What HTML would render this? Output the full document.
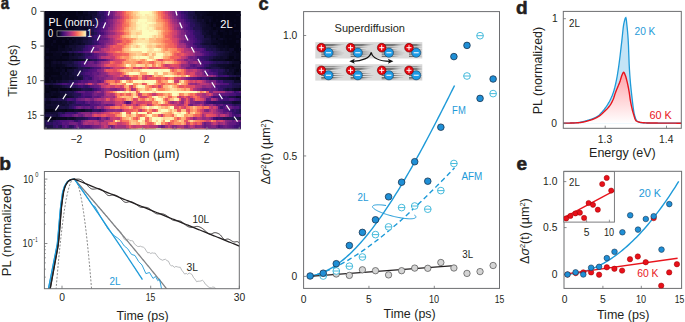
<!DOCTYPE html><html><head><meta charset="utf-8"><style>html,body{margin:0;padding:0;background:#fff;}svg{display:block;font-family:"Liberation Sans", sans-serif;}</style></head><body>
<svg width="685" height="322" viewBox="0 0 685 322">
<rect width="685" height="322" fill="#fff"/>
<defs><clipPath id="ca"><rect x="44.1" y="11.0" width="196.7" height="118.2"/></clipPath></defs>
<g shape-rendering="crispEdges" clip-path="url(#ca)">
<rect x="44.1" y="11.0" width="196.7" height="118.2" fill="#050416"/>
<style>.h rect{width:2.35px;height:2.71px}</style>
<g class="h" transform="translate(0,11)">
<rect x="46.39" fill="#08071e"/>
<rect x="76.12" fill="#090720"/>
<rect x="82.98" fill="#0c0926"/>
<rect x="85.27" fill="#0b0924"/>
<rect x="87.56" fill="#120d31"/>
<rect x="89.84" fill="#0e0b2b"/>
<rect x="92.13" fill="#110c2f"/>
<rect x="94.42" fill="#120d31"/>
<rect x="96.71" fill="#20114b"/>
<rect x="98.99" fill="#2f1163"/>
<rect x="101.28" fill="#2c115f"/>
<rect x="103.57" fill="#390f6e"/>
<rect x="105.85" fill="#4e117b"/>
<rect x="108.14" fill="#5a167e"/>
<rect x="110.43" fill="#6e1e81"/>
<rect x="112.72" fill="#812581"/>
<rect x="115" fill="#9c2e7f"/>
<rect x="117.29" fill="#ba3878"/>
<rect x="119.58" fill="#cc3f71"/>
<rect x="121.87" fill="#e44f64"/>
<rect x="124.15" fill="#f3655c"/>
<rect x="126.44" fill="#fc8c63"/>
<rect x="128.73" fill="#fd9b6b"/>
<rect x="131.01" fill="#feb078"/>
<rect x="133.3" fill="#fecd90"/>
<rect x="135.59" fill="#fed89a"/>
<rect x="137.88" fill="#fcecae"/>
<rect x="140.16" fill="#fcfdbf"/>
<rect x="142.45" fill="#fcfdbf"/>
<rect x="144.74" fill="#fcfdbf"/>
<rect x="147.02" fill="#fcfdbf"/>
<rect x="149.31" fill="#fcf6b8"/>
<rect x="151.6" fill="#fdda9c"/>
<rect x="153.89" fill="#fec287"/>
<rect x="156.17" fill="#fea36f"/>
<rect x="158.46" fill="#fa7d5e"/>
<rect x="160.75" fill="#f3655c"/>
<rect x="163.03" fill="#e34e65"/>
<rect x="165.32" fill="#c83e73"/>
<rect x="167.61" fill="#ae347b"/>
<rect x="169.9" fill="#932b80"/>
<rect x="172.18" fill="#832681"/>
<rect x="174.47" fill="#701f81"/>
<rect x="176.76" fill="#601880"/>
<rect x="179.05" fill="#4e117b"/>
<rect x="181.33" fill="#390f6e"/>
<rect x="183.62" fill="#2c115f"/>
<rect x="185.91" fill="#2d1161"/>
<rect x="188.19" fill="#20114b"/>
<rect x="190.48" fill="#1d1147"/>
<rect x="192.77" fill="#19103f"/>
<rect x="195.06" fill="#0c0926"/>
<rect x="197.34" fill="#0d0a29"/>
<rect x="199.63" fill="#0b0924"/>
<rect x="201.92" fill="#0a0822"/>
<rect x="204.2" fill="#090720"/>
<rect x="206.49" fill="#07061c"/>
</g>
<g class="h" transform="translate(0,13.65)">
<rect x="62.4" fill="#07061c"/>
<rect x="76.12" fill="#090720"/>
<rect x="78.41" fill="#07061c"/>
<rect x="80.7" fill="#07061c"/>
<rect x="82.98" fill="#090720"/>
<rect x="85.27" fill="#090720"/>
<rect x="87.56" fill="#0d0a29"/>
<rect x="89.84" fill="#0d0a29"/>
<rect x="92.13" fill="#140e36"/>
<rect x="94.42" fill="#130d34"/>
<rect x="96.71" fill="#221150"/>
<rect x="98.99" fill="#241253"/>
<rect x="101.28" fill="#2a115c"/>
<rect x="103.57" fill="#3d0f71"/>
<rect x="105.85" fill="#4c117a"/>
<rect x="108.14" fill="#5d177f"/>
<rect x="110.43" fill="#6a1c81"/>
<rect x="112.72" fill="#832681"/>
<rect x="115" fill="#aa337d"/>
<rect x="117.29" fill="#b3367a"/>
<rect x="119.58" fill="#d2426f"/>
<rect x="121.87" fill="#e34e65"/>
<rect x="124.15" fill="#f4675c"/>
<rect x="126.44" fill="#f9795d"/>
<rect x="128.73" fill="#fd9869"/>
<rect x="131.01" fill="#feb47b"/>
<rect x="133.3" fill="#fec287"/>
<rect x="135.59" fill="#fde2a3"/>
<rect x="137.88" fill="#fde7a9"/>
<rect x="140.16" fill="#fcf0b2"/>
<rect x="142.45" fill="#fcfbbd"/>
<rect x="144.74" fill="#fde9aa"/>
<rect x="147.02" fill="#fdebac"/>
<rect x="149.31" fill="#fcf2b4"/>
<rect x="151.6" fill="#fde5a7"/>
<rect x="153.89" fill="#fecf92"/>
<rect x="156.17" fill="#feb078"/>
<rect x="158.46" fill="#fb8560"/>
<rect x="160.75" fill="#f4675c"/>
<rect x="163.03" fill="#ee5b5e"/>
<rect x="165.32" fill="#d9466b"/>
<rect x="167.61" fill="#b0357b"/>
<rect x="169.9" fill="#a3307e"/>
<rect x="172.18" fill="#882781"/>
<rect x="174.47" fill="#762181"/>
<rect x="176.76" fill="#5f187f"/>
<rect x="179.05" fill="#59157e"/>
<rect x="181.33" fill="#471078"/>
<rect x="183.62" fill="#390f6e"/>
<rect x="185.91" fill="#2c115f"/>
<rect x="188.19" fill="#21114e"/>
<rect x="190.48" fill="#1a1042"/>
<rect x="192.77" fill="#19103f"/>
<rect x="195.06" fill="#120d31"/>
<rect x="197.34" fill="#0c0926"/>
<rect x="199.63" fill="#0e0b2b"/>
<rect x="201.92" fill="#0a0822"/>
<rect x="204.2" fill="#08071e"/>
<rect x="215.64" fill="#07061c"/>
<rect x="222.5" fill="#07061c"/>
<rect x="236.23" fill="#08071e"/>
<rect x="238.51" fill="#08071e"/>
</g>
<g class="h" transform="translate(0,16.3)">
<rect x="48.67" fill="#06051a"/>
<rect x="50.96" fill="#08071e"/>
<rect x="66.97" fill="#0a0822"/>
<rect x="78.41" fill="#08071e"/>
<rect x="80.7" fill="#0b0924"/>
<rect x="82.98" fill="#07061c"/>
<rect x="85.27" fill="#0c0926"/>
<rect x="87.56" fill="#0d0a29"/>
<rect x="89.84" fill="#0a0822"/>
<rect x="92.13" fill="#150e38"/>
<rect x="94.42" fill="#1a1042"/>
<rect x="96.71" fill="#1d1147"/>
<rect x="98.99" fill="#221150"/>
<rect x="101.28" fill="#2f1163"/>
<rect x="103.57" fill="#341069"/>
<rect x="105.85" fill="#4a1079"/>
<rect x="108.14" fill="#5a167e"/>
<rect x="110.43" fill="#641a80"/>
<rect x="112.72" fill="#802582"/>
<rect x="115" fill="#902a81"/>
<rect x="117.29" fill="#a02f7f"/>
<rect x="119.58" fill="#c23b75"/>
<rect x="121.87" fill="#db476a"/>
<rect x="124.15" fill="#ef5d5e"/>
<rect x="126.44" fill="#f66e5c"/>
<rect x="128.73" fill="#fd9266"/>
<rect x="131.01" fill="#fe9f6d"/>
<rect x="133.3" fill="#febd82"/>
<rect x="135.59" fill="#feca8d"/>
<rect x="137.88" fill="#fed799"/>
<rect x="140.16" fill="#fdebac"/>
<rect x="142.45" fill="#fcf0b2"/>
<rect x="144.74" fill="#fcf0b2"/>
<rect x="147.02" fill="#fde3a5"/>
<rect x="149.31" fill="#fde5a7"/>
<rect x="151.6" fill="#fddea0"/>
<rect x="153.89" fill="#feca8d"/>
<rect x="156.17" fill="#feb47b"/>
<rect x="158.46" fill="#fc8e64"/>
<rect x="160.75" fill="#f66c5c"/>
<rect x="163.03" fill="#e85362"/>
<rect x="165.32" fill="#db476a"/>
<rect x="167.61" fill="#c53c74"/>
<rect x="169.9" fill="#a6317d"/>
<rect x="172.18" fill="#912b81"/>
<rect x="174.47" fill="#7e2482"/>
<rect x="176.76" fill="#681c81"/>
<rect x="179.05" fill="#5c167f"/>
<rect x="181.33" fill="#471078"/>
<rect x="183.62" fill="#390f6e"/>
<rect x="185.91" fill="#311165"/>
<rect x="188.19" fill="#241253"/>
<rect x="190.48" fill="#1e1149"/>
<rect x="192.77" fill="#130d34"/>
<rect x="195.06" fill="#160f3b"/>
<rect x="197.34" fill="#0d0a29"/>
<rect x="199.63" fill="#0c0926"/>
<rect x="201.92" fill="#07061c"/>
<rect x="204.2" fill="#0a0822"/>
<rect x="206.49" fill="#0a0822"/>
<rect x="208.78" fill="#090720"/>
<rect x="211.07" fill="#08071e"/>
<rect x="222.5" fill="#07061c"/>
</g>
<g class="h" transform="translate(0,18.95)">
<rect x="73.83" fill="#0c0926"/>
<rect x="78.41" fill="#090720"/>
<rect x="80.7" fill="#0d0a29"/>
<rect x="85.27" fill="#090720"/>
<rect x="87.56" fill="#0c0926"/>
<rect x="89.84" fill="#130d34"/>
<rect x="92.13" fill="#20114b"/>
<rect x="94.42" fill="#20114b"/>
<rect x="96.71" fill="#2a115c"/>
<rect x="98.99" fill="#2f1163"/>
<rect x="101.28" fill="#331067"/>
<rect x="103.57" fill="#420f75"/>
<rect x="105.85" fill="#5f187f"/>
<rect x="108.14" fill="#701f81"/>
<rect x="110.43" fill="#802582"/>
<rect x="112.72" fill="#9c2e7f"/>
<rect x="115" fill="#aa337d"/>
<rect x="117.29" fill="#ca3e72"/>
<rect x="119.58" fill="#dc4869"/>
<rect x="121.87" fill="#e85362"/>
<rect x="124.15" fill="#f66c5c"/>
<rect x="126.44" fill="#fd9467"/>
<rect x="128.73" fill="#fea772"/>
<rect x="131.01" fill="#fecd90"/>
<rect x="133.3" fill="#fed597"/>
<rect x="135.59" fill="#fde3a5"/>
<rect x="137.88" fill="#fcfbbd"/>
<rect x="140.16" fill="#fcfdbf"/>
<rect x="142.45" fill="#fcfdbf"/>
<rect x="144.74" fill="#fcfdbf"/>
<rect x="147.02" fill="#fcecae"/>
<rect x="149.31" fill="#fde7a9"/>
<rect x="151.6" fill="#fdda9c"/>
<rect x="153.89" fill="#fecd90"/>
<rect x="156.17" fill="#fea571"/>
<rect x="158.46" fill="#fd9869"/>
<rect x="160.75" fill="#fc8961"/>
<rect x="163.03" fill="#f7725c"/>
<rect x="165.32" fill="#ee5b5e"/>
<rect x="167.61" fill="#dc4869"/>
<rect x="169.9" fill="#bd3977"/>
<rect x="172.18" fill="#a1307e"/>
<rect x="174.47" fill="#912b81"/>
<rect x="176.76" fill="#7b2382"/>
<rect x="179.05" fill="#671b80"/>
<rect x="181.33" fill="#5d177f"/>
<rect x="183.62" fill="#4a1079"/>
<rect x="185.91" fill="#390f6e"/>
<rect x="188.19" fill="#311165"/>
<rect x="190.48" fill="#251255"/>
<rect x="192.77" fill="#20114b"/>
<rect x="195.06" fill="#1a1042"/>
<rect x="197.34" fill="#120d31"/>
<rect x="199.63" fill="#100b2d"/>
<rect x="201.92" fill="#130d34"/>
<rect x="204.2" fill="#0b0924"/>
<rect x="206.49" fill="#08071e"/>
<rect x="208.78" fill="#0d0a29"/>
<rect x="211.07" fill="#07061c"/>
<rect x="215.64" fill="#07061c"/>
<rect x="233.94" fill="#07061c"/>
</g>
<g class="h" transform="translate(0,21.6)">
<rect x="62.4" fill="#07061c"/>
<rect x="71.55" fill="#0b0924"/>
<rect x="73.83" fill="#07061c"/>
<rect x="78.41" fill="#0a0822"/>
<rect x="80.7" fill="#0a0822"/>
<rect x="82.98" fill="#0c0926"/>
<rect x="85.27" fill="#0b0924"/>
<rect x="87.56" fill="#100b2d"/>
<rect x="89.84" fill="#140e36"/>
<rect x="92.13" fill="#150e38"/>
<rect x="94.42" fill="#19103f"/>
<rect x="96.71" fill="#251255"/>
<rect x="98.99" fill="#331067"/>
<rect x="101.28" fill="#400f74"/>
<rect x="103.57" fill="#4e117b"/>
<rect x="105.85" fill="#5a167e"/>
<rect x="108.14" fill="#721f81"/>
<rect x="110.43" fill="#7c2382"/>
<rect x="112.72" fill="#982d80"/>
<rect x="115" fill="#b2357b"/>
<rect x="117.29" fill="#bf3a77"/>
<rect x="119.58" fill="#d6456c"/>
<rect x="121.87" fill="#ec5860"/>
<rect x="124.15" fill="#f7725c"/>
<rect x="126.44" fill="#fb8761"/>
<rect x="128.73" fill="#fea973"/>
<rect x="131.01" fill="#febd82"/>
<rect x="133.3" fill="#fecc8f"/>
<rect x="135.59" fill="#fcf4b6"/>
<rect x="137.88" fill="#fcfbbd"/>
<rect x="140.16" fill="#fcf7b9"/>
<rect x="142.45" fill="#fcfbbd"/>
<rect x="144.74" fill="#fcf2b4"/>
<rect x="147.02" fill="#fcfdbf"/>
<rect x="149.31" fill="#fcfdbf"/>
<rect x="151.6" fill="#fcf0b2"/>
<rect x="153.89" fill="#fde9aa"/>
<rect x="156.17" fill="#fec287"/>
<rect x="158.46" fill="#feb27a"/>
<rect x="160.75" fill="#fea16e"/>
<rect x="163.03" fill="#fc8c63"/>
<rect x="165.32" fill="#f66c5c"/>
<rect x="167.61" fill="#e34e65"/>
<rect x="169.9" fill="#c83e73"/>
<rect x="172.18" fill="#ae347b"/>
<rect x="174.47" fill="#9e2f7f"/>
<rect x="176.76" fill="#832681"/>
<rect x="179.05" fill="#762181"/>
<rect x="181.33" fill="#641a80"/>
<rect x="183.62" fill="#54137d"/>
<rect x="185.91" fill="#440f76"/>
<rect x="188.19" fill="#420f75"/>
<rect x="190.48" fill="#2a115c"/>
<rect x="192.77" fill="#241253"/>
<rect x="195.06" fill="#1d1147"/>
<rect x="197.34" fill="#19103f"/>
<rect x="199.63" fill="#130d34"/>
<rect x="201.92" fill="#100b2d"/>
<rect x="204.2" fill="#0e0b2b"/>
<rect x="206.49" fill="#06051a"/>
<rect x="208.78" fill="#090720"/>
<rect x="213.35" fill="#07061c"/>
<rect x="222.5" fill="#08071e"/>
<rect x="229.36" fill="#07061c"/>
</g>
<g class="h" transform="translate(0,24.25)">
<rect x="66.97" fill="#0b0924"/>
<rect x="71.55" fill="#07061c"/>
<rect x="76.12" fill="#07061c"/>
<rect x="78.41" fill="#0b0924"/>
<rect x="80.7" fill="#0c0926"/>
<rect x="82.98" fill="#0d0a29"/>
<rect x="85.27" fill="#120d31"/>
<rect x="87.56" fill="#140e36"/>
<rect x="89.84" fill="#120d31"/>
<rect x="92.13" fill="#130d34"/>
<rect x="94.42" fill="#2f1163"/>
<rect x="96.71" fill="#331067"/>
<rect x="98.99" fill="#390f6e"/>
<rect x="101.28" fill="#3d0f71"/>
<rect x="103.57" fill="#4f127b"/>
<rect x="105.85" fill="#6a1c81"/>
<rect x="108.14" fill="#6a1c81"/>
<rect x="110.43" fill="#862781"/>
<rect x="112.72" fill="#a3307e"/>
<rect x="115" fill="#b83779"/>
<rect x="117.29" fill="#cf4070"/>
<rect x="119.58" fill="#db476a"/>
<rect x="121.87" fill="#f2645c"/>
<rect x="124.15" fill="#f56b5c"/>
<rect x="126.44" fill="#fa7f5e"/>
<rect x="128.73" fill="#fea772"/>
<rect x="131.01" fill="#fec185"/>
<rect x="133.3" fill="#fecc8f"/>
<rect x="135.59" fill="#fde9aa"/>
<rect x="137.88" fill="#fcf2b4"/>
<rect x="140.16" fill="#fcf7b9"/>
<rect x="142.45" fill="#fcfdbf"/>
<rect x="144.74" fill="#fcfdbf"/>
<rect x="147.02" fill="#fcf2b4"/>
<rect x="149.31" fill="#fde5a7"/>
<rect x="151.6" fill="#fddea0"/>
<rect x="153.89" fill="#fecc8f"/>
<rect x="156.17" fill="#febf84"/>
<rect x="158.46" fill="#feb77e"/>
<rect x="160.75" fill="#fea772"/>
<rect x="163.03" fill="#fb8761"/>
<rect x="165.32" fill="#f66e5c"/>
<rect x="167.61" fill="#e85362"/>
<rect x="169.9" fill="#d6456c"/>
<rect x="172.18" fill="#c03a76"/>
<rect x="174.47" fill="#aa337d"/>
<rect x="176.76" fill="#992d80"/>
<rect x="179.05" fill="#812581"/>
<rect x="181.33" fill="#6e1e81"/>
<rect x="183.62" fill="#5d177f"/>
<rect x="185.91" fill="#52137c"/>
<rect x="188.19" fill="#400f74"/>
<rect x="190.48" fill="#2a115c"/>
<rect x="192.77" fill="#2c115f"/>
<rect x="195.06" fill="#20114b"/>
<rect x="197.34" fill="#1d1147"/>
<rect x="199.63" fill="#150e38"/>
<rect x="201.92" fill="#120d31"/>
<rect x="204.2" fill="#100b2d"/>
<rect x="206.49" fill="#0c0926"/>
<rect x="208.78" fill="#090720"/>
<rect x="213.35" fill="#0c0926"/>
<rect x="220.22" fill="#07061c"/>
<rect x="229.36" fill="#07061c"/>
<rect x="233.94" fill="#0b0924"/>
</g>
<g class="h" transform="translate(0,26.9)">
<rect x="55.54" fill="#07061c"/>
<rect x="60.11" fill="#08071e"/>
<rect x="64.68" fill="#0a0822"/>
<rect x="66.97" fill="#07061c"/>
<rect x="69.26" fill="#07061c"/>
<rect x="71.55" fill="#08071e"/>
<rect x="73.83" fill="#0a0822"/>
<rect x="76.12" fill="#0c0926"/>
<rect x="78.41" fill="#0e0b2b"/>
<rect x="80.7" fill="#0b0924"/>
<rect x="82.98" fill="#0b0924"/>
<rect x="85.27" fill="#0a0822"/>
<rect x="87.56" fill="#140e36"/>
<rect x="89.84" fill="#1d1147"/>
<rect x="92.13" fill="#221150"/>
<rect x="94.42" fill="#2a115c"/>
<rect x="96.71" fill="#341069"/>
<rect x="98.99" fill="#3f0f72"/>
<rect x="101.28" fill="#4e117b"/>
<rect x="103.57" fill="#5d177f"/>
<rect x="105.85" fill="#671b80"/>
<rect x="108.14" fill="#832681"/>
<rect x="110.43" fill="#8c2981"/>
<rect x="112.72" fill="#a8327d"/>
<rect x="115" fill="#c03a76"/>
<rect x="117.29" fill="#d5446d"/>
<rect x="119.58" fill="#e34e65"/>
<rect x="121.87" fill="#f2625d"/>
<rect x="124.15" fill="#fb8560"/>
<rect x="126.44" fill="#fe9f6d"/>
<rect x="128.73" fill="#fec68a"/>
<rect x="131.01" fill="#fec488"/>
<rect x="133.3" fill="#fed395"/>
<rect x="135.59" fill="#fceeb0"/>
<rect x="137.88" fill="#fcf9bb"/>
<rect x="140.16" fill="#fcf6b8"/>
<rect x="142.45" fill="#fcfdbf"/>
<rect x="144.74" fill="#fcf9bb"/>
<rect x="147.02" fill="#fceeb0"/>
<rect x="149.31" fill="#fcf7b9"/>
<rect x="151.6" fill="#fdebac"/>
<rect x="153.89" fill="#fed194"/>
<rect x="156.17" fill="#feb27a"/>
<rect x="158.46" fill="#fea973"/>
<rect x="160.75" fill="#fea16e"/>
<rect x="163.03" fill="#fb8761"/>
<rect x="165.32" fill="#f9785d"/>
<rect x="167.61" fill="#ee5b5e"/>
<rect x="169.9" fill="#de4968"/>
<rect x="172.18" fill="#c73d73"/>
<rect x="174.47" fill="#a6317d"/>
<rect x="176.76" fill="#8b2981"/>
<rect x="179.05" fill="#802582"/>
<rect x="181.33" fill="#681c81"/>
<rect x="183.62" fill="#59157e"/>
<rect x="185.91" fill="#491078"/>
<rect x="188.19" fill="#440f76"/>
<rect x="190.48" fill="#311165"/>
<rect x="192.77" fill="#20114b"/>
<rect x="195.06" fill="#221150"/>
<rect x="197.34" fill="#20114b"/>
<rect x="199.63" fill="#1a1042"/>
<rect x="201.92" fill="#100b2d"/>
<rect x="204.2" fill="#0d0a29"/>
<rect x="206.49" fill="#0c0926"/>
<rect x="208.78" fill="#0c0926"/>
<rect x="211.07" fill="#08071e"/>
<rect x="215.64" fill="#08071e"/>
<rect x="217.93" fill="#07061c"/>
</g>
<g class="h" transform="translate(0,29.55)">
<rect x="50.96" fill="#07061c"/>
<rect x="53.25" fill="#07061c"/>
<rect x="69.26" fill="#0a0822"/>
<rect x="73.83" fill="#0d0a29"/>
<rect x="76.12" fill="#0a0822"/>
<rect x="78.41" fill="#08071e"/>
<rect x="80.7" fill="#150e38"/>
<rect x="82.98" fill="#100b2d"/>
<rect x="85.27" fill="#160f3b"/>
<rect x="87.56" fill="#20114b"/>
<rect x="89.84" fill="#1e1149"/>
<rect x="92.13" fill="#221150"/>
<rect x="94.42" fill="#341069"/>
<rect x="96.71" fill="#3d0f71"/>
<rect x="98.99" fill="#471078"/>
<rect x="101.28" fill="#5a167e"/>
<rect x="103.57" fill="#6a1c81"/>
<rect x="105.85" fill="#7c2382"/>
<rect x="108.14" fill="#8e2a81"/>
<rect x="110.43" fill="#a8327d"/>
<rect x="112.72" fill="#bd3977"/>
<rect x="115" fill="#cd4071"/>
<rect x="117.29" fill="#e24d66"/>
<rect x="119.58" fill="#f2625d"/>
<rect x="121.87" fill="#f8745c"/>
<rect x="124.15" fill="#fd9a6a"/>
<rect x="126.44" fill="#fea571"/>
<rect x="128.73" fill="#fec185"/>
<rect x="131.01" fill="#fdda9c"/>
<rect x="133.3" fill="#fde0a1"/>
<rect x="135.59" fill="#fde7a9"/>
<rect x="137.88" fill="#fde9aa"/>
<rect x="140.16" fill="#fde3a5"/>
<rect x="142.45" fill="#fcfdbf"/>
<rect x="144.74" fill="#fcfdbf"/>
<rect x="147.02" fill="#fcfdbf"/>
<rect x="149.31" fill="#fcf0b2"/>
<rect x="151.6" fill="#fcf4b6"/>
<rect x="153.89" fill="#fcfbbd"/>
<rect x="156.17" fill="#fdebac"/>
<rect x="158.46" fill="#fdda9c"/>
<rect x="160.75" fill="#feb67c"/>
<rect x="163.03" fill="#fd9b6b"/>
<rect x="165.32" fill="#fa7f5e"/>
<rect x="167.61" fill="#f7705c"/>
<rect x="169.9" fill="#ee5b5e"/>
<rect x="172.18" fill="#dc4869"/>
<rect x="174.47" fill="#c83e73"/>
<rect x="176.76" fill="#ad347c"/>
<rect x="179.05" fill="#992d80"/>
<rect x="181.33" fill="#832681"/>
<rect x="183.62" fill="#681c81"/>
<rect x="185.91" fill="#641a80"/>
<rect x="188.19" fill="#51127c"/>
<rect x="190.48" fill="#471078"/>
<rect x="192.77" fill="#38106c"/>
<rect x="195.06" fill="#29115a"/>
<rect x="197.34" fill="#29115a"/>
<rect x="199.63" fill="#1e1149"/>
<rect x="201.92" fill="#140e36"/>
<rect x="204.2" fill="#0e0b2b"/>
<rect x="206.49" fill="#100b2d"/>
<rect x="208.78" fill="#0a0822"/>
<rect x="211.07" fill="#0a0822"/>
<rect x="213.35" fill="#0b0924"/>
<rect x="215.64" fill="#0c0926"/>
<rect x="220.22" fill="#0a0822"/>
<rect x="222.5" fill="#08071e"/>
<rect x="229.36" fill="#07061c"/>
<rect x="233.94" fill="#0a0822"/>
<rect x="236.23" fill="#08071e"/>
</g>
<g class="h" transform="translate(0,32.2)">
<rect x="73.83" fill="#07061c"/>
<rect x="78.41" fill="#08071e"/>
<rect x="80.7" fill="#0a0822"/>
<rect x="82.98" fill="#0b0924"/>
<rect x="85.27" fill="#120d31"/>
<rect x="87.56" fill="#130d34"/>
<rect x="89.84" fill="#180f3d"/>
<rect x="92.13" fill="#1c1044"/>
<rect x="94.42" fill="#251255"/>
<rect x="96.71" fill="#36106b"/>
<rect x="98.99" fill="#400f74"/>
<rect x="101.28" fill="#471078"/>
<rect x="103.57" fill="#5c167f"/>
<rect x="105.85" fill="#6d1d81"/>
<rect x="108.14" fill="#802582"/>
<rect x="110.43" fill="#932b80"/>
<rect x="112.72" fill="#9b2e7f"/>
<rect x="115" fill="#b73779"/>
<rect x="117.29" fill="#cd4071"/>
<rect x="119.58" fill="#db476a"/>
<rect x="121.87" fill="#e85362"/>
<rect x="124.15" fill="#f8745c"/>
<rect x="126.44" fill="#fc8e64"/>
<rect x="128.73" fill="#feb47b"/>
<rect x="131.01" fill="#fed799"/>
<rect x="133.3" fill="#fddc9e"/>
<rect x="135.59" fill="#feca8d"/>
<rect x="137.88" fill="#fed194"/>
<rect x="140.16" fill="#fddc9e"/>
<rect x="142.45" fill="#fcfdbf"/>
<rect x="144.74" fill="#fcfdbf"/>
<rect x="147.02" fill="#fcfdbf"/>
<rect x="149.31" fill="#fcfdbf"/>
<rect x="151.6" fill="#fcfbbd"/>
<rect x="153.89" fill="#fcf7b9"/>
<rect x="156.17" fill="#fcf0b2"/>
<rect x="158.46" fill="#fecf92"/>
<rect x="160.75" fill="#feaa74"/>
<rect x="163.03" fill="#fb8560"/>
<rect x="165.32" fill="#f8765c"/>
<rect x="167.61" fill="#f1605d"/>
<rect x="169.9" fill="#e55064"/>
<rect x="172.18" fill="#d6456c"/>
<rect x="174.47" fill="#cd4071"/>
<rect x="176.76" fill="#aa337d"/>
<rect x="179.05" fill="#982d80"/>
<rect x="181.33" fill="#802582"/>
<rect x="183.62" fill="#7b2382"/>
<rect x="185.91" fill="#5d177f"/>
<rect x="188.19" fill="#5a167e"/>
<rect x="190.48" fill="#4c117a"/>
<rect x="192.77" fill="#341069"/>
<rect x="195.06" fill="#2f1163"/>
<rect x="197.34" fill="#2c115f"/>
<rect x="199.63" fill="#221150"/>
<rect x="201.92" fill="#140e36"/>
<rect x="204.2" fill="#130d34"/>
<rect x="206.49" fill="#0d0a29"/>
<rect x="208.78" fill="#0a0822"/>
<rect x="211.07" fill="#090720"/>
<rect x="213.35" fill="#0e0b2b"/>
<rect x="215.64" fill="#08071e"/>
<rect x="222.5" fill="#07061c"/>
<rect x="224.79" fill="#07061c"/>
<rect x="229.36" fill="#08071e"/>
<rect x="238.51" fill="#08071e"/>
</g>
<g class="h" transform="translate(0,34.85)">
<rect x="50.96" fill="#07061c"/>
<rect x="53.25" fill="#090720"/>
<rect x="57.82" fill="#08071e"/>
<rect x="62.4" fill="#07061c"/>
<rect x="69.26" fill="#090720"/>
<rect x="71.55" fill="#07061c"/>
<rect x="73.83" fill="#0c0926"/>
<rect x="76.12" fill="#0b0924"/>
<rect x="78.41" fill="#0e0b2b"/>
<rect x="80.7" fill="#110c2f"/>
<rect x="82.98" fill="#140e36"/>
<rect x="85.27" fill="#1a1042"/>
<rect x="87.56" fill="#221150"/>
<rect x="89.84" fill="#331067"/>
<rect x="92.13" fill="#2c115f"/>
<rect x="94.42" fill="#390f6e"/>
<rect x="96.71" fill="#440f76"/>
<rect x="98.99" fill="#54137d"/>
<rect x="101.28" fill="#681c81"/>
<rect x="103.57" fill="#732081"/>
<rect x="105.85" fill="#862781"/>
<rect x="108.14" fill="#a3307e"/>
<rect x="110.43" fill="#b3367a"/>
<rect x="112.72" fill="#c83e73"/>
<rect x="115" fill="#cf4070"/>
<rect x="117.29" fill="#db476a"/>
<rect x="119.58" fill="#f56b5c"/>
<rect x="121.87" fill="#fd9668"/>
<rect x="124.15" fill="#fea772"/>
<rect x="126.44" fill="#febb81"/>
<rect x="128.73" fill="#feca8d"/>
<rect x="131.01" fill="#fcf0b2"/>
<rect x="133.3" fill="#fdebac"/>
<rect x="135.59" fill="#fde2a3"/>
<rect x="137.88" fill="#fcf9bb"/>
<rect x="140.16" fill="#fcfdbf"/>
<rect x="142.45" fill="#fcfdbf"/>
<rect x="144.74" fill="#fcfdbf"/>
<rect x="147.02" fill="#fcfdbf"/>
<rect x="149.31" fill="#fcf6b8"/>
<rect x="151.6" fill="#fde2a3"/>
<rect x="153.89" fill="#fecc8f"/>
<rect x="156.17" fill="#fddea0"/>
<rect x="158.46" fill="#fec488"/>
<rect x="160.75" fill="#feb47b"/>
<rect x="163.03" fill="#fc8c63"/>
<rect x="165.32" fill="#f3655c"/>
<rect x="167.61" fill="#ee5b5e"/>
<rect x="169.9" fill="#e85362"/>
<rect x="172.18" fill="#d3436e"/>
<rect x="174.47" fill="#c03a76"/>
<rect x="176.76" fill="#a5317e"/>
<rect x="179.05" fill="#912b81"/>
<rect x="181.33" fill="#892881"/>
<rect x="183.62" fill="#732081"/>
<rect x="185.91" fill="#621980"/>
<rect x="188.19" fill="#51127c"/>
<rect x="190.48" fill="#4e117b"/>
<rect x="192.77" fill="#451077"/>
<rect x="195.06" fill="#2f1163"/>
<rect x="197.34" fill="#2a115c"/>
<rect x="199.63" fill="#251255"/>
<rect x="201.92" fill="#221150"/>
<rect x="204.2" fill="#0e0b2b"/>
<rect x="206.49" fill="#120d31"/>
<rect x="208.78" fill="#110c2f"/>
<rect x="211.07" fill="#08071e"/>
<rect x="213.35" fill="#0a0822"/>
<rect x="215.64" fill="#090720"/>
<rect x="217.93" fill="#090720"/>
<rect x="222.5" fill="#07061c"/>
<rect x="236.23" fill="#08071e"/>
<rect x="238.51" fill="#06051a"/>
</g>
<g class="h" transform="translate(0,37.5)">
<rect x="46.39" fill="#0a0822"/>
<rect x="48.67" fill="#07061c"/>
<rect x="55.54" fill="#07061c"/>
<rect x="66.97" fill="#0b0924"/>
<rect x="71.55" fill="#0b0924"/>
<rect x="73.83" fill="#08071e"/>
<rect x="76.12" fill="#0c0926"/>
<rect x="78.41" fill="#0a0822"/>
<rect x="80.7" fill="#0d0a29"/>
<rect x="82.98" fill="#120d31"/>
<rect x="85.27" fill="#130d34"/>
<rect x="87.56" fill="#1c1044"/>
<rect x="89.84" fill="#20114b"/>
<rect x="92.13" fill="#271258"/>
<rect x="94.42" fill="#2f1163"/>
<rect x="96.71" fill="#38106c"/>
<rect x="98.99" fill="#4e117b"/>
<rect x="101.28" fill="#5f187f"/>
<rect x="103.57" fill="#5d177f"/>
<rect x="105.85" fill="#671b80"/>
<rect x="108.14" fill="#7c2382"/>
<rect x="110.43" fill="#9c2e7f"/>
<rect x="112.72" fill="#b83779"/>
<rect x="115" fill="#d5446d"/>
<rect x="117.29" fill="#e75263"/>
<rect x="119.58" fill="#ef5d5e"/>
<rect x="121.87" fill="#f7725c"/>
<rect x="124.15" fill="#f56b5c"/>
<rect x="126.44" fill="#fa7f5e"/>
<rect x="128.73" fill="#fd9668"/>
<rect x="131.01" fill="#fd9668"/>
<rect x="133.3" fill="#fea973"/>
<rect x="135.59" fill="#fec88c"/>
<rect x="137.88" fill="#fde3a5"/>
<rect x="140.16" fill="#fddc9e"/>
<rect x="142.45" fill="#fed194"/>
<rect x="144.74" fill="#fdebac"/>
<rect x="147.02" fill="#fde9aa"/>
<rect x="149.31" fill="#fec185"/>
<rect x="151.6" fill="#fec287"/>
<rect x="153.89" fill="#feca8d"/>
<rect x="156.17" fill="#fea973"/>
<rect x="158.46" fill="#fea772"/>
<rect x="160.75" fill="#fd9b6b"/>
<rect x="163.03" fill="#fc8961"/>
<rect x="165.32" fill="#fa815f"/>
<rect x="167.61" fill="#f66e5c"/>
<rect x="169.9" fill="#e85362"/>
<rect x="172.18" fill="#dc4869"/>
<rect x="174.47" fill="#d5446d"/>
<rect x="176.76" fill="#c23b75"/>
<rect x="179.05" fill="#a3307e"/>
<rect x="181.33" fill="#902a81"/>
<rect x="183.62" fill="#832681"/>
<rect x="185.91" fill="#792282"/>
<rect x="188.19" fill="#601880"/>
<rect x="190.48" fill="#52137c"/>
<rect x="192.77" fill="#440f76"/>
<rect x="195.06" fill="#3f0f72"/>
<rect x="197.34" fill="#2c115f"/>
<rect x="199.63" fill="#251255"/>
<rect x="201.92" fill="#20114b"/>
<rect x="204.2" fill="#1a1042"/>
<rect x="206.49" fill="#19103f"/>
<rect x="208.78" fill="#140e36"/>
<rect x="211.07" fill="#0c0926"/>
<rect x="213.35" fill="#0e0b2b"/>
<rect x="217.93" fill="#0b0924"/>
<rect x="220.22" fill="#0e0b2b"/>
<rect x="222.5" fill="#08071e"/>
<rect x="224.79" fill="#07061c"/>
<rect x="229.36" fill="#07061c"/>
</g>
<g class="h" transform="translate(0,40.15)">
<rect x="53.25" fill="#0b0924"/>
<rect x="62.4" fill="#090720"/>
<rect x="69.26" fill="#0b0924"/>
<rect x="71.55" fill="#07061c"/>
<rect x="73.83" fill="#0a0822"/>
<rect x="76.12" fill="#0e0b2b"/>
<rect x="78.41" fill="#0d0a29"/>
<rect x="80.7" fill="#110c2f"/>
<rect x="82.98" fill="#180f3d"/>
<rect x="85.27" fill="#19103f"/>
<rect x="87.56" fill="#20114b"/>
<rect x="89.84" fill="#21114e"/>
<rect x="92.13" fill="#2d1161"/>
<rect x="94.42" fill="#38106c"/>
<rect x="96.71" fill="#471078"/>
<rect x="98.99" fill="#621980"/>
<rect x="101.28" fill="#671b80"/>
<rect x="103.57" fill="#732081"/>
<rect x="105.85" fill="#792282"/>
<rect x="108.14" fill="#882781"/>
<rect x="110.43" fill="#9c2e7f"/>
<rect x="112.72" fill="#b3367a"/>
<rect x="115" fill="#ca3e72"/>
<rect x="117.29" fill="#c43c75"/>
<rect x="119.58" fill="#db476a"/>
<rect x="121.87" fill="#f2645c"/>
<rect x="124.15" fill="#f7725c"/>
<rect x="126.44" fill="#f2645c"/>
<rect x="128.73" fill="#f9795d"/>
<rect x="131.01" fill="#fea571"/>
<rect x="133.3" fill="#fec88c"/>
<rect x="135.59" fill="#fddc9e"/>
<rect x="137.88" fill="#fde0a1"/>
<rect x="140.16" fill="#fde3a5"/>
<rect x="142.45" fill="#fde7a9"/>
<rect x="144.74" fill="#fde2a3"/>
<rect x="147.02" fill="#fddea0"/>
<rect x="149.31" fill="#fec488"/>
<rect x="151.6" fill="#fec185"/>
<rect x="153.89" fill="#feb77e"/>
<rect x="156.17" fill="#feae77"/>
<rect x="158.46" fill="#fea36f"/>
<rect x="160.75" fill="#fd9266"/>
<rect x="163.03" fill="#fa7d5e"/>
<rect x="165.32" fill="#f4695c"/>
<rect x="167.61" fill="#f3655c"/>
<rect x="169.9" fill="#f1605d"/>
<rect x="172.18" fill="#e04c67"/>
<rect x="174.47" fill="#d6456c"/>
<rect x="176.76" fill="#ba3878"/>
<rect x="179.05" fill="#902a81"/>
<rect x="181.33" fill="#7b2382"/>
<rect x="183.62" fill="#681c81"/>
<rect x="185.91" fill="#681c81"/>
<rect x="188.19" fill="#671b80"/>
<rect x="190.48" fill="#5a167e"/>
<rect x="192.77" fill="#4e117b"/>
<rect x="195.06" fill="#400f74"/>
<rect x="197.34" fill="#36106b"/>
<rect x="199.63" fill="#2a115c"/>
<rect x="201.92" fill="#1e1149"/>
<rect x="204.2" fill="#180f3d"/>
<rect x="206.49" fill="#140e36"/>
<rect x="208.78" fill="#140e36"/>
<rect x="211.07" fill="#0d0a29"/>
<rect x="213.35" fill="#0c0926"/>
<rect x="215.64" fill="#0b0924"/>
<rect x="217.93" fill="#08071e"/>
<rect x="220.22" fill="#07061c"/>
<rect x="224.79" fill="#07061c"/>
<rect x="236.23" fill="#0a0822"/>
</g>
<g class="h" transform="translate(0,42.8)">
<rect x="50.96" fill="#08071e"/>
<rect x="69.26" fill="#08071e"/>
<rect x="71.55" fill="#0a0822"/>
<rect x="73.83" fill="#0d0a29"/>
<rect x="76.12" fill="#0d0a29"/>
<rect x="78.41" fill="#0a0822"/>
<rect x="80.7" fill="#100b2d"/>
<rect x="82.98" fill="#0e0b2b"/>
<rect x="85.27" fill="#19103f"/>
<rect x="87.56" fill="#1e1149"/>
<rect x="89.84" fill="#21114e"/>
<rect x="92.13" fill="#2a115c"/>
<rect x="94.42" fill="#331067"/>
<rect x="96.71" fill="#3f0f72"/>
<rect x="98.99" fill="#52137c"/>
<rect x="101.28" fill="#621980"/>
<rect x="103.57" fill="#752181"/>
<rect x="105.85" fill="#912b81"/>
<rect x="108.14" fill="#932b80"/>
<rect x="110.43" fill="#9e2f7f"/>
<rect x="112.72" fill="#b83779"/>
<rect x="115" fill="#cf4070"/>
<rect x="117.29" fill="#f4695c"/>
<rect x="119.58" fill="#f9785d"/>
<rect x="121.87" fill="#f56b5c"/>
<rect x="124.15" fill="#f1605d"/>
<rect x="126.44" fill="#fb8560"/>
<rect x="128.73" fill="#feae77"/>
<rect x="131.01" fill="#fec88c"/>
<rect x="133.3" fill="#fddea0"/>
<rect x="135.59" fill="#fcecae"/>
<rect x="137.88" fill="#fcfdbf"/>
<rect x="140.16" fill="#fcfdbf"/>
<rect x="142.45" fill="#fcf4b6"/>
<rect x="144.74" fill="#fceeb0"/>
<rect x="147.02" fill="#fde2a3"/>
<rect x="149.31" fill="#fed89a"/>
<rect x="151.6" fill="#fde3a5"/>
<rect x="153.89" fill="#fde2a3"/>
<rect x="156.17" fill="#fecd90"/>
<rect x="158.46" fill="#fec287"/>
<rect x="160.75" fill="#fea973"/>
<rect x="163.03" fill="#fe9d6c"/>
<rect x="165.32" fill="#fa815f"/>
<rect x="167.61" fill="#f66c5c"/>
<rect x="169.9" fill="#f05f5e"/>
<rect x="172.18" fill="#f05f5e"/>
<rect x="174.47" fill="#df4a68"/>
<rect x="176.76" fill="#bf3a77"/>
<rect x="179.05" fill="#a1307e"/>
<rect x="181.33" fill="#a1307e"/>
<rect x="183.62" fill="#902a81"/>
<rect x="185.91" fill="#6b1d81"/>
<rect x="188.19" fill="#621980"/>
<rect x="190.48" fill="#5a167e"/>
<rect x="192.77" fill="#3d0f71"/>
<rect x="195.06" fill="#311165"/>
<rect x="197.34" fill="#2f1163"/>
<rect x="199.63" fill="#1d1147"/>
<rect x="201.92" fill="#150e38"/>
<rect x="204.2" fill="#110c2f"/>
<rect x="206.49" fill="#110c2f"/>
<rect x="208.78" fill="#120d31"/>
<rect x="211.07" fill="#0b0924"/>
<rect x="213.35" fill="#07061c"/>
<rect x="215.64" fill="#07061c"/>
<rect x="217.93" fill="#0c0926"/>
<rect x="220.22" fill="#07061c"/>
</g>
<g class="h" transform="translate(0,45.45)">
<rect x="53.25" fill="#06051a"/>
<rect x="57.82" fill="#090720"/>
<rect x="60.11" fill="#07061c"/>
<rect x="64.68" fill="#0c0926"/>
<rect x="66.97" fill="#0b0924"/>
<rect x="69.26" fill="#120d31"/>
<rect x="71.55" fill="#120d31"/>
<rect x="73.83" fill="#110c2f"/>
<rect x="76.12" fill="#180f3d"/>
<rect x="78.41" fill="#1c1044"/>
<rect x="80.7" fill="#1d1147"/>
<rect x="82.98" fill="#221150"/>
<rect x="85.27" fill="#36106b"/>
<rect x="87.56" fill="#451077"/>
<rect x="89.84" fill="#451077"/>
<rect x="92.13" fill="#5a167e"/>
<rect x="94.42" fill="#6d1d81"/>
<rect x="96.71" fill="#7c2382"/>
<rect x="98.99" fill="#7b2382"/>
<rect x="101.28" fill="#721f81"/>
<rect x="103.57" fill="#892881"/>
<rect x="105.85" fill="#a5317e"/>
<rect x="108.14" fill="#bd3977"/>
<rect x="110.43" fill="#e04c67"/>
<rect x="112.72" fill="#f05f5e"/>
<rect x="115" fill="#eb5760"/>
<rect x="117.29" fill="#e95462"/>
<rect x="119.58" fill="#ea5661"/>
<rect x="121.87" fill="#f66e5c"/>
<rect x="124.15" fill="#fc8c63"/>
<rect x="126.44" fill="#fea772"/>
<rect x="128.73" fill="#fec287"/>
<rect x="131.01" fill="#fde3a5"/>
<rect x="133.3" fill="#fed89a"/>
<rect x="135.59" fill="#fec185"/>
<rect x="137.88" fill="#fed799"/>
<rect x="140.16" fill="#fcf0b2"/>
<rect x="142.45" fill="#fcfdbf"/>
<rect x="144.74" fill="#fde9aa"/>
<rect x="147.02" fill="#fecf92"/>
<rect x="149.31" fill="#fec68a"/>
<rect x="151.6" fill="#fed395"/>
<rect x="153.89" fill="#fecc8f"/>
<rect x="156.17" fill="#feaa74"/>
<rect x="158.46" fill="#fd9b6b"/>
<rect x="160.75" fill="#fea36f"/>
<rect x="163.03" fill="#fd9467"/>
<rect x="165.32" fill="#f8765c"/>
<rect x="167.61" fill="#f66c5c"/>
<rect x="169.9" fill="#f2645c"/>
<rect x="172.18" fill="#f2625d"/>
<rect x="174.47" fill="#e85362"/>
<rect x="176.76" fill="#bc3978"/>
<rect x="179.05" fill="#b2357b"/>
<rect x="181.33" fill="#aa337d"/>
<rect x="183.62" fill="#a6317d"/>
<rect x="185.91" fill="#792282"/>
<rect x="188.19" fill="#6a1c81"/>
<rect x="190.48" fill="#621980"/>
<rect x="192.77" fill="#52137c"/>
<rect x="195.06" fill="#471078"/>
<rect x="197.34" fill="#331067"/>
<rect x="199.63" fill="#2d1161"/>
<rect x="201.92" fill="#221150"/>
<rect x="204.2" fill="#21114e"/>
<rect x="206.49" fill="#1d1147"/>
<rect x="208.78" fill="#160f3b"/>
<rect x="211.07" fill="#180f3d"/>
<rect x="213.35" fill="#140e36"/>
<rect x="215.64" fill="#0d0a29"/>
<rect x="217.93" fill="#0a0822"/>
<rect x="220.22" fill="#090720"/>
<rect x="222.5" fill="#07061c"/>
<rect x="224.79" fill="#0a0822"/>
<rect x="227.08" fill="#07061c"/>
<rect x="233.94" fill="#07061c"/>
</g>
<g class="h" transform="translate(0,48.1)">
<rect x="46.39" fill="#090720"/>
<rect x="57.82" fill="#0a0822"/>
<rect x="60.11" fill="#090720"/>
<rect x="62.4" fill="#090720"/>
<rect x="64.68" fill="#0c0926"/>
<rect x="66.97" fill="#0e0b2b"/>
<rect x="69.26" fill="#0b0924"/>
<rect x="71.55" fill="#150e38"/>
<rect x="73.83" fill="#140e36"/>
<rect x="76.12" fill="#1a1042"/>
<rect x="78.41" fill="#1a1042"/>
<rect x="80.7" fill="#21114e"/>
<rect x="82.98" fill="#331067"/>
<rect x="85.27" fill="#3b0f70"/>
<rect x="87.56" fill="#471078"/>
<rect x="89.84" fill="#52137c"/>
<rect x="92.13" fill="#5a167e"/>
<rect x="94.42" fill="#651a80"/>
<rect x="96.71" fill="#6a1c81"/>
<rect x="98.99" fill="#882781"/>
<rect x="101.28" fill="#ae347b"/>
<rect x="103.57" fill="#c53c74"/>
<rect x="105.85" fill="#bf3a77"/>
<rect x="108.14" fill="#c73d73"/>
<rect x="110.43" fill="#e55064"/>
<rect x="112.72" fill="#df4a68"/>
<rect x="115" fill="#e85362"/>
<rect x="117.29" fill="#e85362"/>
<rect x="119.58" fill="#ee5b5e"/>
<rect x="121.87" fill="#fe9d6c"/>
<rect x="124.15" fill="#febb81"/>
<rect x="126.44" fill="#fec488"/>
<rect x="128.73" fill="#fddea0"/>
<rect x="131.01" fill="#fcfdbf"/>
<rect x="133.3" fill="#fcfdbf"/>
<rect x="135.59" fill="#fcfdbf"/>
<rect x="137.88" fill="#fcfdbf"/>
<rect x="140.16" fill="#fcfdbf"/>
<rect x="142.45" fill="#fcfdbf"/>
<rect x="144.74" fill="#fcfdbf"/>
<rect x="147.02" fill="#fcf0b2"/>
<rect x="149.31" fill="#fddea0"/>
<rect x="151.6" fill="#fde5a7"/>
<rect x="153.89" fill="#fcfdbf"/>
<rect x="156.17" fill="#fcfdbf"/>
<rect x="158.46" fill="#fcf0b2"/>
<rect x="160.75" fill="#fec488"/>
<rect x="163.03" fill="#fea36f"/>
<rect x="165.32" fill="#fc8a62"/>
<rect x="167.61" fill="#fea571"/>
<rect x="169.9" fill="#fd9869"/>
<rect x="172.18" fill="#fc8c63"/>
<rect x="174.47" fill="#fb835f"/>
<rect x="176.76" fill="#eb5760"/>
<rect x="179.05" fill="#e85362"/>
<rect x="181.33" fill="#d6456c"/>
<rect x="183.62" fill="#b2357b"/>
<rect x="185.91" fill="#ad347c"/>
<rect x="188.19" fill="#a02f7f"/>
<rect x="190.48" fill="#992d80"/>
<rect x="192.77" fill="#782281"/>
<rect x="195.06" fill="#621980"/>
<rect x="197.34" fill="#5a167e"/>
<rect x="199.63" fill="#5c167f"/>
<rect x="201.92" fill="#52137c"/>
<rect x="204.2" fill="#390f6e"/>
<rect x="206.49" fill="#21114e"/>
<rect x="208.78" fill="#221150"/>
<rect x="211.07" fill="#1c1044"/>
<rect x="213.35" fill="#1e1149"/>
<rect x="215.64" fill="#150e38"/>
<rect x="217.93" fill="#120d31"/>
<rect x="220.22" fill="#0c0926"/>
<rect x="222.5" fill="#0e0b2b"/>
<rect x="224.79" fill="#0b0924"/>
<rect x="227.08" fill="#08071e"/>
<rect x="229.36" fill="#0d0a29"/>
<rect x="231.65" fill="#0d0a29"/>
<rect x="238.51" fill="#090720"/>
</g>
<g class="h" transform="translate(0,50.75)">
<rect x="46.39" fill="#0b0924"/>
<rect x="48.67" fill="#07061c"/>
<rect x="50.96" fill="#0a0822"/>
<rect x="53.25" fill="#090720"/>
<rect x="55.54" fill="#0c0926"/>
<rect x="57.82" fill="#0c0926"/>
<rect x="60.11" fill="#0c0926"/>
<rect x="62.4" fill="#140e36"/>
<rect x="64.68" fill="#110c2f"/>
<rect x="66.97" fill="#19103f"/>
<rect x="69.26" fill="#241253"/>
<rect x="71.55" fill="#1e1149"/>
<rect x="73.83" fill="#2a115c"/>
<rect x="76.12" fill="#2c115f"/>
<rect x="78.41" fill="#3d0f71"/>
<rect x="80.7" fill="#3d0f71"/>
<rect x="82.98" fill="#4e117b"/>
<rect x="85.27" fill="#5a167e"/>
<rect x="87.56" fill="#5f187f"/>
<rect x="89.84" fill="#651a80"/>
<rect x="92.13" fill="#842681"/>
<rect x="94.42" fill="#ad347c"/>
<rect x="96.71" fill="#ae347b"/>
<rect x="98.99" fill="#a1307e"/>
<rect x="101.28" fill="#a6317d"/>
<rect x="103.57" fill="#ba3878"/>
<rect x="105.85" fill="#d5446d"/>
<rect x="108.14" fill="#e04c67"/>
<rect x="110.43" fill="#ec5860"/>
<rect x="112.72" fill="#f05f5e"/>
<rect x="115" fill="#f9795d"/>
<rect x="117.29" fill="#fc8e64"/>
<rect x="119.58" fill="#f9795d"/>
<rect x="121.87" fill="#fd9266"/>
<rect x="124.15" fill="#feaa74"/>
<rect x="126.44" fill="#feb97f"/>
<rect x="128.73" fill="#fec488"/>
<rect x="131.01" fill="#fecf92"/>
<rect x="133.3" fill="#fed597"/>
<rect x="135.59" fill="#fed597"/>
<rect x="137.88" fill="#fed194"/>
<rect x="140.16" fill="#fed395"/>
<rect x="142.45" fill="#fcfdbf"/>
<rect x="144.74" fill="#fcfdbf"/>
<rect x="147.02" fill="#fed799"/>
<rect x="149.31" fill="#fed799"/>
<rect x="151.6" fill="#fde7a9"/>
<rect x="153.89" fill="#fdda9c"/>
<rect x="156.17" fill="#fde7a9"/>
<rect x="158.46" fill="#fddc9e"/>
<rect x="160.75" fill="#fec68a"/>
<rect x="163.03" fill="#feae77"/>
<rect x="165.32" fill="#fec287"/>
<rect x="167.61" fill="#febd82"/>
<rect x="169.9" fill="#fd9b6b"/>
<rect x="172.18" fill="#fb8560"/>
<rect x="174.47" fill="#f7705c"/>
<rect x="176.76" fill="#fb8560"/>
<rect x="179.05" fill="#f2645c"/>
<rect x="181.33" fill="#cd4071"/>
<rect x="183.62" fill="#b5367a"/>
<rect x="185.91" fill="#c03a76"/>
<rect x="188.19" fill="#bc3978"/>
<rect x="190.48" fill="#aa337d"/>
<rect x="192.77" fill="#932b80"/>
<rect x="195.06" fill="#862781"/>
<rect x="197.34" fill="#721f81"/>
<rect x="199.63" fill="#57157e"/>
<rect x="201.92" fill="#4a1079"/>
<rect x="204.2" fill="#491078"/>
<rect x="206.49" fill="#400f74"/>
<rect x="208.78" fill="#311165"/>
<rect x="211.07" fill="#331067"/>
<rect x="213.35" fill="#241253"/>
<rect x="215.64" fill="#1e1149"/>
<rect x="217.93" fill="#20114b"/>
<rect x="220.22" fill="#1a1042"/>
<rect x="222.5" fill="#160f3b"/>
<rect x="224.79" fill="#120d31"/>
<rect x="227.08" fill="#130d34"/>
<rect x="229.36" fill="#0d0a29"/>
<rect x="231.65" fill="#07061c"/>
<rect x="233.94" fill="#0a0822"/>
</g>
<g class="h" transform="translate(0,53.4)">
<rect x="53.25" fill="#090720"/>
<rect x="55.54" fill="#08071e"/>
<rect x="57.82" fill="#08071e"/>
<rect x="60.11" fill="#0b0924"/>
<rect x="69.26" fill="#0d0a29"/>
<rect x="71.55" fill="#08071e"/>
<rect x="73.83" fill="#100b2d"/>
<rect x="76.12" fill="#140e36"/>
<rect x="78.41" fill="#110c2f"/>
<rect x="80.7" fill="#180f3d"/>
<rect x="82.98" fill="#21114e"/>
<rect x="85.27" fill="#2f1163"/>
<rect x="87.56" fill="#2c115f"/>
<rect x="89.84" fill="#36106b"/>
<rect x="92.13" fill="#471078"/>
<rect x="94.42" fill="#59157e"/>
<rect x="96.71" fill="#641a80"/>
<rect x="98.99" fill="#792282"/>
<rect x="101.28" fill="#802582"/>
<rect x="103.57" fill="#802582"/>
<rect x="105.85" fill="#982d80"/>
<rect x="108.14" fill="#b83779"/>
<rect x="110.43" fill="#ca3e72"/>
<rect x="112.72" fill="#e34e65"/>
<rect x="115" fill="#e34e65"/>
<rect x="117.29" fill="#e95462"/>
<rect x="119.58" fill="#ed5a5f"/>
<rect x="121.87" fill="#f4695c"/>
<rect x="124.15" fill="#f3655c"/>
<rect x="126.44" fill="#f66e5c"/>
<rect x="128.73" fill="#fea772"/>
<rect x="131.01" fill="#feb67c"/>
<rect x="133.3" fill="#febf84"/>
<rect x="135.59" fill="#fed597"/>
<rect x="137.88" fill="#fecf92"/>
<rect x="140.16" fill="#fecc8f"/>
<rect x="142.45" fill="#feb27a"/>
<rect x="144.74" fill="#fd9a6a"/>
<rect x="147.02" fill="#febb81"/>
<rect x="149.31" fill="#fde5a7"/>
<rect x="151.6" fill="#feb77e"/>
<rect x="153.89" fill="#feca8d"/>
<rect x="156.17" fill="#fcfdbf"/>
<rect x="158.46" fill="#fcfdbf"/>
<rect x="160.75" fill="#fcfdbf"/>
<rect x="163.03" fill="#fed89a"/>
<rect x="165.32" fill="#fec287"/>
<rect x="167.61" fill="#fecf92"/>
<rect x="169.9" fill="#feb67c"/>
<rect x="172.18" fill="#fa815f"/>
<rect x="174.47" fill="#ee5b5e"/>
<rect x="176.76" fill="#dc4869"/>
<rect x="179.05" fill="#e34e65"/>
<rect x="181.33" fill="#ec5860"/>
<rect x="183.62" fill="#d8456c"/>
<rect x="185.91" fill="#c83e73"/>
<rect x="188.19" fill="#ba3878"/>
<rect x="190.48" fill="#ad347c"/>
<rect x="192.77" fill="#992d80"/>
<rect x="195.06" fill="#7c2382"/>
<rect x="197.34" fill="#792282"/>
<rect x="199.63" fill="#721f81"/>
<rect x="201.92" fill="#5f187f"/>
<rect x="204.2" fill="#4c117a"/>
<rect x="206.49" fill="#420f75"/>
<rect x="208.78" fill="#341069"/>
<rect x="211.07" fill="#2d1161"/>
<rect x="213.35" fill="#2a115c"/>
<rect x="215.64" fill="#21114e"/>
<rect x="217.93" fill="#1a1042"/>
<rect x="220.22" fill="#160f3b"/>
<rect x="222.5" fill="#130d34"/>
<rect x="224.79" fill="#110c2f"/>
<rect x="227.08" fill="#0e0b2b"/>
<rect x="229.36" fill="#090720"/>
<rect x="231.65" fill="#090720"/>
<rect x="233.94" fill="#0a0822"/>
<rect x="236.23" fill="#08071e"/>
</g>
<g class="h" transform="translate(0,56.05)">
<rect x="44.1" fill="#07061c"/>
<rect x="46.39" fill="#0a0822"/>
<rect x="48.67" fill="#06051a"/>
<rect x="50.96" fill="#07061c"/>
<rect x="53.25" fill="#07061c"/>
<rect x="55.54" fill="#08071e"/>
<rect x="57.82" fill="#08071e"/>
<rect x="60.11" fill="#06051a"/>
<rect x="62.4" fill="#090720"/>
<rect x="64.68" fill="#0a0822"/>
<rect x="66.97" fill="#090720"/>
<rect x="69.26" fill="#100b2d"/>
<rect x="71.55" fill="#110c2f"/>
<rect x="73.83" fill="#140e36"/>
<rect x="76.12" fill="#150e38"/>
<rect x="78.41" fill="#1d1147"/>
<rect x="80.7" fill="#21114e"/>
<rect x="82.98" fill="#251255"/>
<rect x="85.27" fill="#36106b"/>
<rect x="87.56" fill="#440f76"/>
<rect x="89.84" fill="#4a1079"/>
<rect x="92.13" fill="#4a1079"/>
<rect x="94.42" fill="#54137d"/>
<rect x="96.71" fill="#6e1e81"/>
<rect x="98.99" fill="#8e2a81"/>
<rect x="101.28" fill="#b73779"/>
<rect x="103.57" fill="#ba3878"/>
<rect x="105.85" fill="#ca3e72"/>
<rect x="108.14" fill="#cf4070"/>
<rect x="110.43" fill="#c23b75"/>
<rect x="112.72" fill="#c73d73"/>
<rect x="115" fill="#e95462"/>
<rect x="117.29" fill="#f4695c"/>
<rect x="119.58" fill="#fc8a62"/>
<rect x="121.87" fill="#fea16e"/>
<rect x="124.15" fill="#fd9668"/>
<rect x="126.44" fill="#fd9266"/>
<rect x="128.73" fill="#feb47b"/>
<rect x="131.01" fill="#fecd90"/>
<rect x="133.3" fill="#fde7a9"/>
<rect x="135.59" fill="#fcf7b9"/>
<rect x="137.88" fill="#fcecae"/>
<rect x="140.16" fill="#fcfdbf"/>
<rect x="142.45" fill="#fcfdbf"/>
<rect x="144.74" fill="#fcfdbf"/>
<rect x="147.02" fill="#fceeb0"/>
<rect x="149.31" fill="#fec68a"/>
<rect x="151.6" fill="#fecd90"/>
<rect x="153.89" fill="#fcfbbd"/>
<rect x="156.17" fill="#fcfdbf"/>
<rect x="158.46" fill="#fcfdbf"/>
<rect x="160.75" fill="#fcecae"/>
<rect x="163.03" fill="#feb77e"/>
<rect x="165.32" fill="#fea571"/>
<rect x="167.61" fill="#fd9266"/>
<rect x="169.9" fill="#f4695c"/>
<rect x="172.18" fill="#f1605d"/>
<rect x="174.47" fill="#f2645c"/>
<rect x="176.76" fill="#f05f5e"/>
<rect x="179.05" fill="#e55064"/>
<rect x="181.33" fill="#c83e73"/>
<rect x="183.62" fill="#bd3977"/>
<rect x="185.91" fill="#a1307e"/>
<rect x="188.19" fill="#782281"/>
<rect x="190.48" fill="#6a1c81"/>
<rect x="192.77" fill="#732081"/>
<rect x="195.06" fill="#641a80"/>
<rect x="197.34" fill="#471078"/>
<rect x="199.63" fill="#3b0f70"/>
<rect x="201.92" fill="#341069"/>
<rect x="204.2" fill="#2d1161"/>
<rect x="206.49" fill="#2a115c"/>
<rect x="208.78" fill="#21114e"/>
<rect x="211.07" fill="#21114e"/>
<rect x="213.35" fill="#180f3d"/>
<rect x="215.64" fill="#120d31"/>
<rect x="217.93" fill="#130d34"/>
<rect x="220.22" fill="#0e0b2b"/>
<rect x="222.5" fill="#110c2f"/>
<rect x="224.79" fill="#110c2f"/>
<rect x="227.08" fill="#0b0924"/>
<rect x="233.94" fill="#0b0924"/>
<rect x="236.23" fill="#07061c"/>
</g>
<g class="h" transform="translate(0,58.7)">
<rect x="53.25" fill="#07061c"/>
<rect x="66.97" fill="#07061c"/>
<rect x="69.26" fill="#0b0924"/>
<rect x="71.55" fill="#07061c"/>
<rect x="73.83" fill="#08071e"/>
<rect x="76.12" fill="#07061c"/>
<rect x="78.41" fill="#0a0822"/>
<rect x="80.7" fill="#0b0924"/>
<rect x="82.98" fill="#0d0a29"/>
<rect x="85.27" fill="#120d31"/>
<rect x="87.56" fill="#160f3b"/>
<rect x="89.84" fill="#21114e"/>
<rect x="92.13" fill="#29115a"/>
<rect x="94.42" fill="#241253"/>
<rect x="96.71" fill="#390f6e"/>
<rect x="98.99" fill="#491078"/>
<rect x="101.28" fill="#4c117a"/>
<rect x="103.57" fill="#56147d"/>
<rect x="105.85" fill="#6d1d81"/>
<rect x="108.14" fill="#832681"/>
<rect x="110.43" fill="#a1307e"/>
<rect x="112.72" fill="#bf3a77"/>
<rect x="115" fill="#d2426f"/>
<rect x="117.29" fill="#d5446d"/>
<rect x="119.58" fill="#e44f64"/>
<rect x="121.87" fill="#e75263"/>
<rect x="124.15" fill="#f2645c"/>
<rect x="126.44" fill="#fd9a6a"/>
<rect x="128.73" fill="#feb97f"/>
<rect x="131.01" fill="#feac76"/>
<rect x="133.3" fill="#feac76"/>
<rect x="135.59" fill="#fec488"/>
<rect x="137.88" fill="#feca8d"/>
<rect x="140.16" fill="#fea16e"/>
<rect x="142.45" fill="#fc8e64"/>
<rect x="144.74" fill="#fec185"/>
<rect x="147.02" fill="#fcfdbf"/>
<rect x="149.31" fill="#fcfdbf"/>
<rect x="151.6" fill="#fde2a3"/>
<rect x="153.89" fill="#fec287"/>
<rect x="156.17" fill="#fa7f5e"/>
<rect x="158.46" fill="#e04c67"/>
<rect x="160.75" fill="#df4a68"/>
<rect x="163.03" fill="#f7705c"/>
<rect x="165.32" fill="#f9795d"/>
<rect x="167.61" fill="#f7705c"/>
<rect x="169.9" fill="#fb8560"/>
<rect x="172.18" fill="#f97b5d"/>
<rect x="174.47" fill="#e55064"/>
<rect x="176.76" fill="#b83779"/>
<rect x="179.05" fill="#b73779"/>
<rect x="181.33" fill="#ab337c"/>
<rect x="183.62" fill="#802582"/>
<rect x="185.91" fill="#792282"/>
<rect x="188.19" fill="#912b81"/>
<rect x="190.48" fill="#7e2482"/>
<rect x="192.77" fill="#6d1d81"/>
<rect x="195.06" fill="#671b80"/>
<rect x="197.34" fill="#5f187f"/>
<rect x="199.63" fill="#3f0f72"/>
<rect x="201.92" fill="#3d0f71"/>
<rect x="204.2" fill="#311165"/>
<rect x="206.49" fill="#271258"/>
<rect x="208.78" fill="#1a1042"/>
<rect x="211.07" fill="#140e36"/>
<rect x="213.35" fill="#0d0a29"/>
<rect x="215.64" fill="#0e0b2b"/>
<rect x="217.93" fill="#0b0924"/>
<rect x="220.22" fill="#0c0926"/>
<rect x="222.5" fill="#0b0924"/>
<rect x="224.79" fill="#06051a"/>
<rect x="231.65" fill="#08071e"/>
</g>
<g class="h" transform="translate(0,61.35)">
<rect x="46.39" fill="#06051a"/>
<rect x="50.96" fill="#0b0924"/>
<rect x="53.25" fill="#100b2d"/>
<rect x="55.54" fill="#0c0926"/>
<rect x="57.82" fill="#100b2d"/>
<rect x="60.11" fill="#0c0926"/>
<rect x="62.4" fill="#140e36"/>
<rect x="64.68" fill="#140e36"/>
<rect x="66.97" fill="#160f3b"/>
<rect x="69.26" fill="#140e36"/>
<rect x="71.55" fill="#1a1042"/>
<rect x="73.83" fill="#271258"/>
<rect x="76.12" fill="#271258"/>
<rect x="78.41" fill="#341069"/>
<rect x="80.7" fill="#451077"/>
<rect x="82.98" fill="#51127c"/>
<rect x="85.27" fill="#52137c"/>
<rect x="87.56" fill="#601880"/>
<rect x="89.84" fill="#6e1e81"/>
<rect x="92.13" fill="#6a1c81"/>
<rect x="94.42" fill="#56147d"/>
<rect x="96.71" fill="#6b1d81"/>
<rect x="98.99" fill="#812581"/>
<rect x="101.28" fill="#a1307e"/>
<rect x="103.57" fill="#b5367a"/>
<rect x="105.85" fill="#b73779"/>
<rect x="108.14" fill="#c83e73"/>
<rect x="110.43" fill="#f66c5c"/>
<rect x="112.72" fill="#ed5a5f"/>
<rect x="115" fill="#e04c67"/>
<rect x="117.29" fill="#df4a68"/>
<rect x="119.58" fill="#e85362"/>
<rect x="121.87" fill="#fb835f"/>
<rect x="124.15" fill="#fea36f"/>
<rect x="126.44" fill="#fd9869"/>
<rect x="128.73" fill="#fea16e"/>
<rect x="131.01" fill="#feaa74"/>
<rect x="133.3" fill="#fe9f6d"/>
<rect x="135.59" fill="#fb8761"/>
<rect x="137.88" fill="#f3655c"/>
<rect x="140.16" fill="#f66e5c"/>
<rect x="142.45" fill="#fc8e64"/>
<rect x="144.74" fill="#fea36f"/>
<rect x="147.02" fill="#fd9266"/>
<rect x="149.31" fill="#f66e5c"/>
<rect x="151.6" fill="#f1605d"/>
<rect x="153.89" fill="#fc8a62"/>
<rect x="156.17" fill="#feb27a"/>
<rect x="158.46" fill="#feac76"/>
<rect x="160.75" fill="#fb8761"/>
<rect x="163.03" fill="#feae77"/>
<rect x="165.32" fill="#fecd90"/>
<rect x="167.61" fill="#fec287"/>
<rect x="169.9" fill="#fec185"/>
<rect x="172.18" fill="#feaa74"/>
<rect x="174.47" fill="#fb835f"/>
<rect x="176.76" fill="#f4675c"/>
<rect x="179.05" fill="#e85362"/>
<rect x="181.33" fill="#c53c74"/>
<rect x="183.62" fill="#bd3977"/>
<rect x="185.91" fill="#a3307e"/>
<rect x="188.19" fill="#7c2382"/>
<rect x="190.48" fill="#882781"/>
<rect x="192.77" fill="#992d80"/>
<rect x="195.06" fill="#a1307e"/>
<rect x="197.34" fill="#892881"/>
<rect x="199.63" fill="#671b80"/>
<rect x="201.92" fill="#471078"/>
<rect x="204.2" fill="#4c117a"/>
<rect x="206.49" fill="#491078"/>
<rect x="208.78" fill="#3d0f71"/>
<rect x="211.07" fill="#341069"/>
<rect x="213.35" fill="#2a115c"/>
<rect x="215.64" fill="#221150"/>
<rect x="217.93" fill="#251255"/>
<rect x="220.22" fill="#21114e"/>
<rect x="222.5" fill="#1c1044"/>
<rect x="224.79" fill="#1a1042"/>
<rect x="227.08" fill="#20114b"/>
<rect x="229.36" fill="#140e36"/>
<rect x="231.65" fill="#0d0a29"/>
<rect x="233.94" fill="#0c0926"/>
<rect x="236.23" fill="#0c0926"/>
<rect x="238.51" fill="#090720"/>
</g>
<g class="h" transform="translate(0,64)">
<rect x="46.39" fill="#08071e"/>
<rect x="50.96" fill="#0a0822"/>
<rect x="53.25" fill="#0a0822"/>
<rect x="55.54" fill="#07061c"/>
<rect x="57.82" fill="#090720"/>
<rect x="60.11" fill="#090720"/>
<rect x="62.4" fill="#0b0924"/>
<rect x="64.68" fill="#110c2f"/>
<rect x="66.97" fill="#160f3b"/>
<rect x="69.26" fill="#1a1042"/>
<rect x="71.55" fill="#160f3b"/>
<rect x="73.83" fill="#1e1149"/>
<rect x="76.12" fill="#21114e"/>
<rect x="78.41" fill="#2c115f"/>
<rect x="80.7" fill="#3f0f72"/>
<rect x="82.98" fill="#451077"/>
<rect x="85.27" fill="#5c167f"/>
<rect x="87.56" fill="#651a80"/>
<rect x="89.84" fill="#6a1c81"/>
<rect x="92.13" fill="#721f81"/>
<rect x="94.42" fill="#752181"/>
<rect x="96.71" fill="#862781"/>
<rect x="98.99" fill="#932b80"/>
<rect x="101.28" fill="#b0357b"/>
<rect x="103.57" fill="#d9466b"/>
<rect x="105.85" fill="#e95462"/>
<rect x="108.14" fill="#ef5d5e"/>
<rect x="110.43" fill="#e75263"/>
<rect x="112.72" fill="#e34e65"/>
<rect x="115" fill="#e95462"/>
<rect x="117.29" fill="#f2625d"/>
<rect x="119.58" fill="#f9785d"/>
<rect x="121.87" fill="#fc8a62"/>
<rect x="124.15" fill="#feb078"/>
<rect x="126.44" fill="#fcfdbf"/>
<rect x="128.73" fill="#fde5a7"/>
<rect x="131.01" fill="#feaa74"/>
<rect x="133.3" fill="#feb47b"/>
<rect x="135.59" fill="#fde3a5"/>
<rect x="137.88" fill="#fde5a7"/>
<rect x="140.16" fill="#fed597"/>
<rect x="142.45" fill="#fecf92"/>
<rect x="144.74" fill="#fd9668"/>
<rect x="147.02" fill="#febd82"/>
<rect x="149.31" fill="#fed597"/>
<rect x="151.6" fill="#fa7d5e"/>
<rect x="153.89" fill="#fd9266"/>
<rect x="156.17" fill="#fed395"/>
<rect x="158.46" fill="#feae77"/>
<rect x="160.75" fill="#f66e5c"/>
<rect x="163.03" fill="#e04c67"/>
<rect x="165.32" fill="#c23b75"/>
<rect x="167.61" fill="#cf4070"/>
<rect x="169.9" fill="#df4a68"/>
<rect x="172.18" fill="#e75263"/>
<rect x="174.47" fill="#df4a68"/>
<rect x="176.76" fill="#d9466b"/>
<rect x="179.05" fill="#bc3978"/>
<rect x="181.33" fill="#8e2a81"/>
<rect x="183.62" fill="#932b80"/>
<rect x="185.91" fill="#8b2981"/>
<rect x="188.19" fill="#7c2382"/>
<rect x="190.48" fill="#5c167f"/>
<rect x="192.77" fill="#4f127b"/>
<rect x="195.06" fill="#5c167f"/>
<rect x="197.34" fill="#6b1d81"/>
<rect x="199.63" fill="#5f187f"/>
<rect x="201.92" fill="#4e117b"/>
<rect x="204.2" fill="#390f6e"/>
<rect x="206.49" fill="#311165"/>
<rect x="208.78" fill="#221150"/>
<rect x="211.07" fill="#1c1044"/>
<rect x="213.35" fill="#19103f"/>
<rect x="215.64" fill="#150e38"/>
<rect x="217.93" fill="#100b2d"/>
<rect x="220.22" fill="#0e0b2b"/>
<rect x="222.5" fill="#0d0a29"/>
<rect x="224.79" fill="#0d0a29"/>
<rect x="227.08" fill="#0b0924"/>
<rect x="229.36" fill="#090720"/>
<rect x="233.94" fill="#08071e"/>
<rect x="236.23" fill="#08071e"/>
</g>
<g class="h" transform="translate(0,66.65)">
<rect x="44.1" fill="#07061c"/>
<rect x="53.25" fill="#08071e"/>
<rect x="60.11" fill="#090720"/>
<rect x="62.4" fill="#07061c"/>
<rect x="66.97" fill="#07061c"/>
<rect x="71.55" fill="#0a0822"/>
<rect x="73.83" fill="#0c0926"/>
<rect x="76.12" fill="#120d31"/>
<rect x="78.41" fill="#1e1149"/>
<rect x="80.7" fill="#1d1147"/>
<rect x="82.98" fill="#21114e"/>
<rect x="85.27" fill="#1e1149"/>
<rect x="87.56" fill="#1d1147"/>
<rect x="89.84" fill="#2f1163"/>
<rect x="92.13" fill="#3b0f70"/>
<rect x="94.42" fill="#491078"/>
<rect x="96.71" fill="#4e117b"/>
<rect x="98.99" fill="#54137d"/>
<rect x="101.28" fill="#752181"/>
<rect x="103.57" fill="#862781"/>
<rect x="105.85" fill="#792282"/>
<rect x="108.14" fill="#7c2382"/>
<rect x="110.43" fill="#a02f7f"/>
<rect x="112.72" fill="#c23b75"/>
<rect x="115" fill="#d3436e"/>
<rect x="117.29" fill="#cf4070"/>
<rect x="119.58" fill="#cd4071"/>
<rect x="121.87" fill="#cc3f71"/>
<rect x="124.15" fill="#e75263"/>
<rect x="126.44" fill="#f9785d"/>
<rect x="128.73" fill="#fd9869"/>
<rect x="131.01" fill="#fb835f"/>
<rect x="133.3" fill="#de4968"/>
<rect x="135.59" fill="#e85362"/>
<rect x="137.88" fill="#d6456c"/>
<rect x="140.16" fill="#c83e73"/>
<rect x="142.45" fill="#ee5b5e"/>
<rect x="144.74" fill="#f66c5c"/>
<rect x="147.02" fill="#e75263"/>
<rect x="149.31" fill="#cc3f71"/>
<rect x="151.6" fill="#d9466b"/>
<rect x="153.89" fill="#de4968"/>
<rect x="156.17" fill="#d6456c"/>
<rect x="158.46" fill="#e44f64"/>
<rect x="160.75" fill="#f05f5e"/>
<rect x="163.03" fill="#ee5b5e"/>
<rect x="165.32" fill="#ef5d5e"/>
<rect x="167.61" fill="#d5446d"/>
<rect x="169.9" fill="#b3367a"/>
<rect x="172.18" fill="#b5367a"/>
<rect x="174.47" fill="#cf4070"/>
<rect x="176.76" fill="#db476a"/>
<rect x="179.05" fill="#bc3978"/>
<rect x="181.33" fill="#a1307e"/>
<rect x="183.62" fill="#8e2a81"/>
<rect x="185.91" fill="#6d1d81"/>
<rect x="188.19" fill="#651a80"/>
<rect x="190.48" fill="#681c81"/>
<rect x="192.77" fill="#5f187f"/>
<rect x="195.06" fill="#5f187f"/>
<rect x="197.34" fill="#491078"/>
<rect x="199.63" fill="#38106c"/>
<rect x="201.92" fill="#3b0f70"/>
<rect x="204.2" fill="#2c115f"/>
<rect x="206.49" fill="#1d1147"/>
<rect x="208.78" fill="#1a1042"/>
<rect x="211.07" fill="#20114b"/>
<rect x="213.35" fill="#21114e"/>
<rect x="215.64" fill="#1e1149"/>
<rect x="217.93" fill="#1c1044"/>
<rect x="220.22" fill="#130d34"/>
<rect x="222.5" fill="#100b2d"/>
<rect x="224.79" fill="#0b0924"/>
<rect x="227.08" fill="#090720"/>
<rect x="229.36" fill="#0b0924"/>
<rect x="231.65" fill="#0a0822"/>
<rect x="233.94" fill="#0c0926"/>
<rect x="236.23" fill="#08071e"/>
</g>
<g class="h" transform="translate(0,69.3)">
<rect x="46.39" fill="#07061c"/>
<rect x="53.25" fill="#07061c"/>
<rect x="55.54" fill="#090720"/>
<rect x="57.82" fill="#07061c"/>
<rect x="60.11" fill="#08071e"/>
<rect x="62.4" fill="#0d0a29"/>
<rect x="66.97" fill="#100b2d"/>
<rect x="69.26" fill="#120d31"/>
<rect x="71.55" fill="#120d31"/>
<rect x="73.83" fill="#1d1147"/>
<rect x="76.12" fill="#1c1044"/>
<rect x="78.41" fill="#221150"/>
<rect x="80.7" fill="#241253"/>
<rect x="82.98" fill="#331067"/>
<rect x="85.27" fill="#390f6e"/>
<rect x="87.56" fill="#451077"/>
<rect x="89.84" fill="#4f127b"/>
<rect x="92.13" fill="#56147d"/>
<rect x="94.42" fill="#5c167f"/>
<rect x="96.71" fill="#7e2482"/>
<rect x="98.99" fill="#7e2482"/>
<rect x="101.28" fill="#912b81"/>
<rect x="103.57" fill="#cf4070"/>
<rect x="105.85" fill="#ed5a5f"/>
<rect x="108.14" fill="#e85362"/>
<rect x="110.43" fill="#ec5860"/>
<rect x="112.72" fill="#e04c67"/>
<rect x="115" fill="#e34e65"/>
<rect x="117.29" fill="#f66c5c"/>
<rect x="119.58" fill="#fd9b6b"/>
<rect x="121.87" fill="#feac76"/>
<rect x="124.15" fill="#fec185"/>
<rect x="126.44" fill="#feb47b"/>
<rect x="128.73" fill="#feb67c"/>
<rect x="131.01" fill="#fea772"/>
<rect x="133.3" fill="#febf84"/>
<rect x="135.59" fill="#febf84"/>
<rect x="137.88" fill="#feae77"/>
<rect x="140.16" fill="#fddc9e"/>
<rect x="142.45" fill="#fcfdbf"/>
<rect x="144.74" fill="#fcfdbf"/>
<rect x="147.02" fill="#fcfdbf"/>
<rect x="149.31" fill="#fcfdbf"/>
<rect x="151.6" fill="#fcfdbf"/>
<rect x="153.89" fill="#fcfdbf"/>
<rect x="156.17" fill="#fcfdbf"/>
<rect x="158.46" fill="#fcfdbf"/>
<rect x="160.75" fill="#fcf4b6"/>
<rect x="163.03" fill="#fcfbbd"/>
<rect x="165.32" fill="#fcfdbf"/>
<rect x="167.61" fill="#fcf4b6"/>
<rect x="169.9" fill="#fc9065"/>
<rect x="172.18" fill="#f05f5e"/>
<rect x="174.47" fill="#fa7f5e"/>
<rect x="176.76" fill="#fea571"/>
<rect x="179.05" fill="#fe9f6d"/>
<rect x="181.33" fill="#fa7d5e"/>
<rect x="183.62" fill="#e95462"/>
<rect x="185.91" fill="#c43c75"/>
<rect x="188.19" fill="#b5367a"/>
<rect x="190.48" fill="#bd3977"/>
<rect x="192.77" fill="#cc3f71"/>
<rect x="195.06" fill="#c43c75"/>
<rect x="197.34" fill="#a3307e"/>
<rect x="199.63" fill="#8b2981"/>
<rect x="201.92" fill="#732081"/>
<rect x="204.2" fill="#651a80"/>
<rect x="206.49" fill="#5f187f"/>
<rect x="208.78" fill="#471078"/>
<rect x="211.07" fill="#390f6e"/>
<rect x="213.35" fill="#331067"/>
<rect x="215.64" fill="#36106b"/>
<rect x="217.93" fill="#29115a"/>
<rect x="220.22" fill="#2a115c"/>
<rect x="222.5" fill="#21114e"/>
<rect x="224.79" fill="#140e36"/>
<rect x="227.08" fill="#1a1042"/>
<rect x="229.36" fill="#0d0a29"/>
<rect x="231.65" fill="#100b2d"/>
<rect x="233.94" fill="#08071e"/>
<rect x="238.51" fill="#0b0924"/>
</g>
<g class="h" transform="translate(0,71.95)">
<rect x="60.11" fill="#0d0a29"/>
<rect x="62.4" fill="#0a0822"/>
<rect x="64.68" fill="#100b2d"/>
<rect x="66.97" fill="#0a0822"/>
<rect x="69.26" fill="#100b2d"/>
<rect x="71.55" fill="#160f3b"/>
<rect x="73.83" fill="#1a1042"/>
<rect x="76.12" fill="#1d1147"/>
<rect x="78.41" fill="#271258"/>
<rect x="80.7" fill="#341069"/>
<rect x="82.98" fill="#3d0f71"/>
<rect x="85.27" fill="#4c117a"/>
<rect x="87.56" fill="#54137d"/>
<rect x="89.84" fill="#4f127b"/>
<rect x="92.13" fill="#601880"/>
<rect x="94.42" fill="#681c81"/>
<rect x="96.71" fill="#601880"/>
<rect x="98.99" fill="#752181"/>
<rect x="101.28" fill="#862781"/>
<rect x="103.57" fill="#8c2981"/>
<rect x="105.85" fill="#a1307e"/>
<rect x="108.14" fill="#c43c75"/>
<rect x="110.43" fill="#d5446d"/>
<rect x="112.72" fill="#d3436e"/>
<rect x="115" fill="#cf4070"/>
<rect x="117.29" fill="#c83e73"/>
<rect x="119.58" fill="#de4968"/>
<rect x="121.87" fill="#f66c5c"/>
<rect x="124.15" fill="#fd9b6b"/>
<rect x="126.44" fill="#fed395"/>
<rect x="128.73" fill="#fcfdbf"/>
<rect x="131.01" fill="#fcfdbf"/>
<rect x="133.3" fill="#fcfdbf"/>
<rect x="135.59" fill="#fcfdbf"/>
<rect x="137.88" fill="#fde9aa"/>
<rect x="140.16" fill="#fea571"/>
<rect x="142.45" fill="#feaa74"/>
<rect x="144.74" fill="#feaa74"/>
<rect x="147.02" fill="#fdebac"/>
<rect x="149.31" fill="#fcfdbf"/>
<rect x="151.6" fill="#fcfdbf"/>
<rect x="153.89" fill="#fec488"/>
<rect x="156.17" fill="#fec88c"/>
<rect x="158.46" fill="#fcfdbf"/>
<rect x="160.75" fill="#fcf7b9"/>
<rect x="163.03" fill="#feb47b"/>
<rect x="165.32" fill="#feb47b"/>
<rect x="167.61" fill="#fed89a"/>
<rect x="169.9" fill="#fec88c"/>
<rect x="172.18" fill="#feae77"/>
<rect x="174.47" fill="#fc8961"/>
<rect x="176.76" fill="#f1605d"/>
<rect x="179.05" fill="#f2645c"/>
<rect x="181.33" fill="#f9785d"/>
<rect x="183.62" fill="#ea5661"/>
<rect x="185.91" fill="#cf4070"/>
<rect x="188.19" fill="#d0416f"/>
<rect x="190.48" fill="#df4a68"/>
<rect x="192.77" fill="#d9466b"/>
<rect x="195.06" fill="#a8327d"/>
<rect x="197.34" fill="#992d80"/>
<rect x="199.63" fill="#a02f7f"/>
<rect x="201.92" fill="#832681"/>
<rect x="204.2" fill="#5d177f"/>
<rect x="206.49" fill="#4e117b"/>
<rect x="208.78" fill="#54137d"/>
<rect x="211.07" fill="#56147d"/>
<rect x="213.35" fill="#451077"/>
<rect x="215.64" fill="#3b0f70"/>
<rect x="217.93" fill="#241253"/>
<rect x="220.22" fill="#221150"/>
<rect x="222.5" fill="#19103f"/>
<rect x="224.79" fill="#180f3d"/>
<rect x="227.08" fill="#100b2d"/>
<rect x="229.36" fill="#120d31"/>
<rect x="231.65" fill="#0d0a29"/>
<rect x="233.94" fill="#06051a"/>
<rect x="236.23" fill="#0a0822"/>
<rect x="238.51" fill="#0b0924"/>
</g>
<g class="h" transform="translate(0,74.6)">
<rect x="44.1" fill="#07061c"/>
<rect x="46.39" fill="#06051a"/>
<rect x="50.96" fill="#090720"/>
<rect x="53.25" fill="#0a0822"/>
<rect x="55.54" fill="#090720"/>
<rect x="57.82" fill="#07061c"/>
<rect x="60.11" fill="#08071e"/>
<rect x="62.4" fill="#0d0a29"/>
<rect x="64.68" fill="#0c0926"/>
<rect x="66.97" fill="#0c0926"/>
<rect x="69.26" fill="#130d34"/>
<rect x="71.55" fill="#120d31"/>
<rect x="73.83" fill="#160f3b"/>
<rect x="76.12" fill="#20114b"/>
<rect x="78.41" fill="#21114e"/>
<rect x="80.7" fill="#20114b"/>
<rect x="82.98" fill="#38106c"/>
<rect x="85.27" fill="#38106c"/>
<rect x="87.56" fill="#400f74"/>
<rect x="89.84" fill="#52137c"/>
<rect x="92.13" fill="#57157e"/>
<rect x="94.42" fill="#6d1d81"/>
<rect x="96.71" fill="#782281"/>
<rect x="98.99" fill="#812581"/>
<rect x="101.28" fill="#8c2981"/>
<rect x="103.57" fill="#842681"/>
<rect x="105.85" fill="#7c2382"/>
<rect x="108.14" fill="#982d80"/>
<rect x="110.43" fill="#a8327d"/>
<rect x="112.72" fill="#c03a76"/>
<rect x="115" fill="#c73d73"/>
<rect x="117.29" fill="#d2426f"/>
<rect x="119.58" fill="#f56b5c"/>
<rect x="121.87" fill="#e04c67"/>
<rect x="124.15" fill="#ab337c"/>
<rect x="126.44" fill="#d2426f"/>
<rect x="128.73" fill="#fd9467"/>
<rect x="131.01" fill="#fd9b6b"/>
<rect x="133.3" fill="#f8745c"/>
<rect x="135.59" fill="#f4675c"/>
<rect x="137.88" fill="#feae77"/>
<rect x="140.16" fill="#feb27a"/>
<rect x="142.45" fill="#e34e65"/>
<rect x="144.74" fill="#cf4070"/>
<rect x="147.02" fill="#df4a68"/>
<rect x="149.31" fill="#c83e73"/>
<rect x="151.6" fill="#f97b5d"/>
<rect x="153.89" fill="#fecd90"/>
<rect x="156.17" fill="#feb67c"/>
<rect x="158.46" fill="#fe9f6d"/>
<rect x="160.75" fill="#feb078"/>
<rect x="163.03" fill="#fddea0"/>
<rect x="165.32" fill="#fcfdbf"/>
<rect x="167.61" fill="#fcfdbf"/>
<rect x="169.9" fill="#fcfdbf"/>
<rect x="172.18" fill="#fcf2b4"/>
<rect x="174.47" fill="#fed395"/>
<rect x="176.76" fill="#feb97f"/>
<rect x="179.05" fill="#fec68a"/>
<rect x="181.33" fill="#fd9a6a"/>
<rect x="183.62" fill="#feaa74"/>
<rect x="185.91" fill="#fdebac"/>
<rect x="188.19" fill="#fea571"/>
<rect x="190.48" fill="#e55064"/>
<rect x="192.77" fill="#d5446d"/>
<rect x="195.06" fill="#c73d73"/>
<rect x="197.34" fill="#a6317d"/>
<rect x="199.63" fill="#9c2e7f"/>
<rect x="201.92" fill="#892881"/>
<rect x="204.2" fill="#862781"/>
<rect x="206.49" fill="#8e2a81"/>
<rect x="208.78" fill="#942c80"/>
<rect x="211.07" fill="#a1307e"/>
<rect x="213.35" fill="#882781"/>
<rect x="215.64" fill="#5a167e"/>
<rect x="217.93" fill="#390f6e"/>
<rect x="220.22" fill="#3d0f71"/>
<rect x="222.5" fill="#400f74"/>
<rect x="224.79" fill="#440f76"/>
<rect x="227.08" fill="#38106c"/>
<rect x="229.36" fill="#221150"/>
<rect x="231.65" fill="#1d1147"/>
<rect x="233.94" fill="#20114b"/>
<rect x="236.23" fill="#160f3b"/>
<rect x="238.51" fill="#1a1042"/>
</g>
<g class="h" transform="translate(0,77.25)">
<rect x="48.67" fill="#090720"/>
<rect x="53.25" fill="#07061c"/>
<rect x="55.54" fill="#07061c"/>
<rect x="57.82" fill="#07061c"/>
<rect x="60.11" fill="#07061c"/>
<rect x="62.4" fill="#0d0a29"/>
<rect x="64.68" fill="#0c0926"/>
<rect x="66.97" fill="#0c0926"/>
<rect x="69.26" fill="#100b2d"/>
<rect x="71.55" fill="#0e0b2b"/>
<rect x="73.83" fill="#160f3b"/>
<rect x="76.12" fill="#160f3b"/>
<rect x="78.41" fill="#130d34"/>
<rect x="80.7" fill="#19103f"/>
<rect x="82.98" fill="#36106b"/>
<rect x="85.27" fill="#451077"/>
<rect x="87.56" fill="#390f6e"/>
<rect x="89.84" fill="#341069"/>
<rect x="92.13" fill="#57157e"/>
<rect x="94.42" fill="#6b1d81"/>
<rect x="96.71" fill="#6a1c81"/>
<rect x="98.99" fill="#7c2382"/>
<rect x="101.28" fill="#762181"/>
<rect x="103.57" fill="#882781"/>
<rect x="105.85" fill="#982d80"/>
<rect x="108.14" fill="#9b2e7f"/>
<rect x="110.43" fill="#a02f7f"/>
<rect x="112.72" fill="#b83779"/>
<rect x="115" fill="#bc3978"/>
<rect x="117.29" fill="#a8327d"/>
<rect x="119.58" fill="#962c80"/>
<rect x="121.87" fill="#9b2e7f"/>
<rect x="124.15" fill="#aa337d"/>
<rect x="126.44" fill="#992d80"/>
<rect x="128.73" fill="#b73779"/>
<rect x="131.01" fill="#e85362"/>
<rect x="133.3" fill="#ea5661"/>
<rect x="135.59" fill="#ed5a5f"/>
<rect x="137.88" fill="#fd9467"/>
<rect x="140.16" fill="#fd9467"/>
<rect x="142.45" fill="#dc4869"/>
<rect x="144.74" fill="#bf3a77"/>
<rect x="147.02" fill="#e55064"/>
<rect x="149.31" fill="#ee5b5e"/>
<rect x="151.6" fill="#f05f5e"/>
<rect x="153.89" fill="#f66c5c"/>
<rect x="156.17" fill="#e95462"/>
<rect x="158.46" fill="#eb5760"/>
<rect x="160.75" fill="#f8765c"/>
<rect x="163.03" fill="#f7705c"/>
<rect x="165.32" fill="#e75263"/>
<rect x="167.61" fill="#f8745c"/>
<rect x="169.9" fill="#fc8e64"/>
<rect x="172.18" fill="#f97b5d"/>
<rect x="174.47" fill="#d8456c"/>
<rect x="176.76" fill="#ca3e72"/>
<rect x="179.05" fill="#cd4071"/>
<rect x="181.33" fill="#b3367a"/>
<rect x="183.62" fill="#9c2e7f"/>
<rect x="185.91" fill="#812581"/>
<rect x="188.19" fill="#721f81"/>
<rect x="190.48" fill="#651a80"/>
<rect x="192.77" fill="#5d177f"/>
<rect x="195.06" fill="#5a167e"/>
<rect x="197.34" fill="#4a1079"/>
<rect x="199.63" fill="#390f6e"/>
<rect x="201.92" fill="#451077"/>
<rect x="204.2" fill="#451077"/>
<rect x="206.49" fill="#331067"/>
<rect x="208.78" fill="#21114e"/>
<rect x="211.07" fill="#1c1044"/>
<rect x="213.35" fill="#20114b"/>
<rect x="215.64" fill="#1c1044"/>
<rect x="217.93" fill="#150e38"/>
<rect x="220.22" fill="#120d31"/>
<rect x="222.5" fill="#100b2d"/>
<rect x="224.79" fill="#100b2d"/>
<rect x="227.08" fill="#0d0a29"/>
<rect x="229.36" fill="#0a0822"/>
<rect x="231.65" fill="#07061c"/>
<rect x="233.94" fill="#0a0822"/>
</g>
<g class="h" transform="translate(0,79.9)">
<rect x="44.1" fill="#07061c"/>
<rect x="48.67" fill="#08071e"/>
<rect x="50.96" fill="#0d0a29"/>
<rect x="53.25" fill="#07061c"/>
<rect x="55.54" fill="#110c2f"/>
<rect x="57.82" fill="#0c0926"/>
<rect x="60.11" fill="#100b2d"/>
<rect x="62.4" fill="#150e38"/>
<rect x="64.68" fill="#150e38"/>
<rect x="66.97" fill="#180f3d"/>
<rect x="69.26" fill="#221150"/>
<rect x="71.55" fill="#221150"/>
<rect x="73.83" fill="#2d1161"/>
<rect x="76.12" fill="#331067"/>
<rect x="78.41" fill="#420f75"/>
<rect x="80.7" fill="#57157e"/>
<rect x="82.98" fill="#52137c"/>
<rect x="85.27" fill="#52137c"/>
<rect x="87.56" fill="#601880"/>
<rect x="89.84" fill="#621980"/>
<rect x="92.13" fill="#671b80"/>
<rect x="94.42" fill="#701f81"/>
<rect x="96.71" fill="#5f187f"/>
<rect x="98.99" fill="#5d177f"/>
<rect x="101.28" fill="#792282"/>
<rect x="103.57" fill="#cd4071"/>
<rect x="105.85" fill="#f1605d"/>
<rect x="108.14" fill="#f66e5c"/>
<rect x="110.43" fill="#fb835f"/>
<rect x="112.72" fill="#f9795d"/>
<rect x="115" fill="#df4a68"/>
<rect x="117.29" fill="#f05f5e"/>
<rect x="119.58" fill="#feb97f"/>
<rect x="121.87" fill="#fcfdbf"/>
<rect x="124.15" fill="#fcfbbd"/>
<rect x="126.44" fill="#feb078"/>
<rect x="128.73" fill="#fb8761"/>
<rect x="131.01" fill="#fea571"/>
<rect x="133.3" fill="#fcfdbf"/>
<rect x="135.59" fill="#fcfdbf"/>
<rect x="137.88" fill="#fcfdbf"/>
<rect x="140.16" fill="#fcfdbf"/>
<rect x="142.45" fill="#fceeb0"/>
<rect x="144.74" fill="#fcfdbf"/>
<rect x="147.02" fill="#fcfdbf"/>
<rect x="149.31" fill="#fcfdbf"/>
<rect x="151.6" fill="#fcfdbf"/>
<rect x="153.89" fill="#fcfdbf"/>
<rect x="156.17" fill="#fd9a6a"/>
<rect x="158.46" fill="#f4675c"/>
<rect x="160.75" fill="#fd9266"/>
<rect x="163.03" fill="#feaa74"/>
<rect x="165.32" fill="#fea571"/>
<rect x="167.61" fill="#fcfbbd"/>
<rect x="169.9" fill="#fcfdbf"/>
<rect x="172.18" fill="#fddc9e"/>
<rect x="174.47" fill="#d0416f"/>
<rect x="176.76" fill="#c43c75"/>
<rect x="179.05" fill="#feac76"/>
<rect x="181.33" fill="#fddea0"/>
<rect x="183.62" fill="#fd9467"/>
<rect x="185.91" fill="#f8765c"/>
<rect x="188.19" fill="#e75263"/>
<rect x="190.48" fill="#d3436e"/>
<rect x="192.77" fill="#e24d66"/>
<rect x="195.06" fill="#c83e73"/>
<rect x="197.34" fill="#de4968"/>
<rect x="199.63" fill="#d6456c"/>
<rect x="201.92" fill="#b73779"/>
<rect x="204.2" fill="#a1307e"/>
<rect x="206.49" fill="#7c2382"/>
<rect x="208.78" fill="#6e1e81"/>
<rect x="211.07" fill="#782281"/>
<rect x="213.35" fill="#792282"/>
<rect x="215.64" fill="#51127c"/>
<rect x="217.93" fill="#3f0f72"/>
<rect x="220.22" fill="#451077"/>
<rect x="222.5" fill="#29115a"/>
<rect x="224.79" fill="#251255"/>
<rect x="227.08" fill="#241253"/>
<rect x="229.36" fill="#241253"/>
<rect x="231.65" fill="#1e1149"/>
<rect x="233.94" fill="#100b2d"/>
<rect x="236.23" fill="#110c2f"/>
<rect x="238.51" fill="#0e0b2b"/>
</g>
<g class="h" transform="translate(0,82.55)">
<rect x="44.1" fill="#1e1149"/>
<rect x="46.39" fill="#19103f"/>
<rect x="48.67" fill="#180f3d"/>
<rect x="50.96" fill="#160f3b"/>
<rect x="53.25" fill="#20114b"/>
<rect x="55.54" fill="#29115a"/>
<rect x="57.82" fill="#311165"/>
<rect x="60.11" fill="#390f6e"/>
<rect x="62.4" fill="#4a1079"/>
<rect x="64.68" fill="#4e117b"/>
<rect x="66.97" fill="#400f74"/>
<rect x="69.26" fill="#38106c"/>
<rect x="71.55" fill="#57157e"/>
<rect x="73.83" fill="#5c167f"/>
<rect x="76.12" fill="#651a80"/>
<rect x="78.41" fill="#842681"/>
<rect x="80.7" fill="#7c2382"/>
<rect x="82.98" fill="#6e1e81"/>
<rect x="85.27" fill="#992d80"/>
<rect x="87.56" fill="#d3436e"/>
<rect x="89.84" fill="#d9466b"/>
<rect x="92.13" fill="#9b2e7f"/>
<rect x="94.42" fill="#7e2482"/>
<rect x="96.71" fill="#ab337c"/>
<rect x="98.99" fill="#cc3f71"/>
<rect x="101.28" fill="#d3436e"/>
<rect x="103.57" fill="#bd3977"/>
<rect x="105.85" fill="#ab337c"/>
<rect x="108.14" fill="#e55064"/>
<rect x="110.43" fill="#fea16e"/>
<rect x="112.72" fill="#fea36f"/>
<rect x="115" fill="#fc8e64"/>
<rect x="117.29" fill="#feae77"/>
<rect x="119.58" fill="#feb078"/>
<rect x="121.87" fill="#fc8c63"/>
<rect x="124.15" fill="#fb8560"/>
<rect x="126.44" fill="#fcfbbd"/>
<rect x="128.73" fill="#fcfdbf"/>
<rect x="131.01" fill="#fcfdbf"/>
<rect x="133.3" fill="#fd9668"/>
<rect x="135.59" fill="#fd9467"/>
<rect x="137.88" fill="#fec287"/>
<rect x="140.16" fill="#feb67c"/>
<rect x="142.45" fill="#e85362"/>
<rect x="144.74" fill="#f3655c"/>
<rect x="147.02" fill="#fde2a3"/>
<rect x="149.31" fill="#fcfbbd"/>
<rect x="151.6" fill="#fcf2b4"/>
<rect x="153.89" fill="#fec88c"/>
<rect x="156.17" fill="#fd9a6a"/>
<rect x="158.46" fill="#fb8560"/>
<rect x="160.75" fill="#ef5d5e"/>
<rect x="163.03" fill="#f1605d"/>
<rect x="165.32" fill="#fc8e64"/>
<rect x="167.61" fill="#f97b5d"/>
<rect x="169.9" fill="#fb8560"/>
<rect x="172.18" fill="#fd9467"/>
<rect x="174.47" fill="#f8745c"/>
<rect x="176.76" fill="#fec287"/>
<rect x="179.05" fill="#fcf4b6"/>
<rect x="181.33" fill="#feb97f"/>
<rect x="183.62" fill="#fd9b6b"/>
<rect x="185.91" fill="#f9795d"/>
<rect x="188.19" fill="#b3367a"/>
<rect x="190.48" fill="#992d80"/>
<rect x="192.77" fill="#9c2e7f"/>
<rect x="195.06" fill="#8c2981"/>
<rect x="197.34" fill="#a8327d"/>
<rect x="199.63" fill="#c23b75"/>
<rect x="201.92" fill="#ba3878"/>
<rect x="204.2" fill="#bd3977"/>
<rect x="206.49" fill="#ae347b"/>
<rect x="208.78" fill="#992d80"/>
<rect x="211.07" fill="#962c80"/>
<rect x="213.35" fill="#902a81"/>
<rect x="215.64" fill="#6d1d81"/>
<rect x="217.93" fill="#651a80"/>
<rect x="220.22" fill="#57157e"/>
<rect x="222.5" fill="#51127c"/>
<rect x="224.79" fill="#52137c"/>
<rect x="227.08" fill="#4e117b"/>
<rect x="229.36" fill="#2d1161"/>
<rect x="231.65" fill="#21114e"/>
<rect x="233.94" fill="#221150"/>
<rect x="236.23" fill="#221150"/>
<rect x="238.51" fill="#241253"/>
</g>
<g class="h" transform="translate(0,85.2)">
<rect x="46.39" fill="#0a0822"/>
<rect x="50.96" fill="#07061c"/>
<rect x="53.25" fill="#0c0926"/>
<rect x="55.54" fill="#0c0926"/>
<rect x="57.82" fill="#0c0926"/>
<rect x="60.11" fill="#100b2d"/>
<rect x="62.4" fill="#180f3d"/>
<rect x="64.68" fill="#1e1149"/>
<rect x="66.97" fill="#221150"/>
<rect x="69.26" fill="#271258"/>
<rect x="71.55" fill="#29115a"/>
<rect x="73.83" fill="#251255"/>
<rect x="76.12" fill="#2c115f"/>
<rect x="78.41" fill="#3b0f70"/>
<rect x="80.7" fill="#471078"/>
<rect x="82.98" fill="#38106c"/>
<rect x="85.27" fill="#311165"/>
<rect x="87.56" fill="#400f74"/>
<rect x="89.84" fill="#57157e"/>
<rect x="92.13" fill="#5d177f"/>
<rect x="94.42" fill="#681c81"/>
<rect x="96.71" fill="#681c81"/>
<rect x="98.99" fill="#7c2382"/>
<rect x="101.28" fill="#ba3878"/>
<rect x="103.57" fill="#ca3e72"/>
<rect x="105.85" fill="#dc4869"/>
<rect x="108.14" fill="#e24d66"/>
<rect x="110.43" fill="#ca3e72"/>
<rect x="112.72" fill="#c83e73"/>
<rect x="115" fill="#e85362"/>
<rect x="117.29" fill="#e24d66"/>
<rect x="119.58" fill="#c83e73"/>
<rect x="121.87" fill="#df4a68"/>
<rect x="124.15" fill="#fd9b6b"/>
<rect x="126.44" fill="#feb27a"/>
<rect x="128.73" fill="#e85362"/>
<rect x="131.01" fill="#cf4070"/>
<rect x="133.3" fill="#fb835f"/>
<rect x="135.59" fill="#fddc9e"/>
<rect x="137.88" fill="#fcfdbf"/>
<rect x="140.16" fill="#fcfdbf"/>
<rect x="142.45" fill="#fcf4b6"/>
<rect x="144.74" fill="#fea973"/>
<rect x="147.02" fill="#fd9b6b"/>
<rect x="149.31" fill="#f8765c"/>
<rect x="151.6" fill="#e44f64"/>
<rect x="153.89" fill="#ef5d5e"/>
<rect x="156.17" fill="#f56b5c"/>
<rect x="158.46" fill="#cd4071"/>
<rect x="160.75" fill="#f05f5e"/>
<rect x="163.03" fill="#feb77e"/>
<rect x="165.32" fill="#febb81"/>
<rect x="167.61" fill="#fdda9c"/>
<rect x="169.9" fill="#fceeb0"/>
<rect x="172.18" fill="#fec287"/>
<rect x="174.47" fill="#fea973"/>
<rect x="176.76" fill="#f8745c"/>
<rect x="179.05" fill="#e44f64"/>
<rect x="181.33" fill="#e85362"/>
<rect x="183.62" fill="#f4695c"/>
<rect x="185.91" fill="#e75263"/>
<rect x="188.19" fill="#e04c67"/>
<rect x="190.48" fill="#dc4869"/>
<rect x="192.77" fill="#e04c67"/>
<rect x="195.06" fill="#ba3878"/>
<rect x="197.34" fill="#b2357b"/>
<rect x="199.63" fill="#ab337c"/>
<rect x="201.92" fill="#8c2981"/>
<rect x="204.2" fill="#8c2981"/>
<rect x="206.49" fill="#992d80"/>
<rect x="208.78" fill="#912b81"/>
<rect x="211.07" fill="#7e2482"/>
<rect x="213.35" fill="#5f187f"/>
<rect x="215.64" fill="#471078"/>
<rect x="217.93" fill="#440f76"/>
<rect x="220.22" fill="#331067"/>
<rect x="222.5" fill="#331067"/>
<rect x="224.79" fill="#311165"/>
<rect x="227.08" fill="#2a115c"/>
<rect x="229.36" fill="#2a115c"/>
<rect x="231.65" fill="#21114e"/>
<rect x="233.94" fill="#1e1149"/>
<rect x="236.23" fill="#1c1044"/>
<rect x="238.51" fill="#180f3d"/>
</g>
<g class="h" transform="translate(0,87.85)">
<rect x="46.39" fill="#07061c"/>
<rect x="48.67" fill="#07061c"/>
<rect x="57.82" fill="#0a0822"/>
<rect x="66.97" fill="#090720"/>
<rect x="71.55" fill="#0c0926"/>
<rect x="73.83" fill="#0b0924"/>
<rect x="76.12" fill="#100b2d"/>
<rect x="78.41" fill="#120d31"/>
<rect x="80.7" fill="#1e1149"/>
<rect x="82.98" fill="#241253"/>
<rect x="85.27" fill="#21114e"/>
<rect x="87.56" fill="#20114b"/>
<rect x="89.84" fill="#1d1147"/>
<rect x="92.13" fill="#2f1163"/>
<rect x="94.42" fill="#400f74"/>
<rect x="96.71" fill="#51127c"/>
<rect x="98.99" fill="#5a167e"/>
<rect x="101.28" fill="#782281"/>
<rect x="103.57" fill="#902a81"/>
<rect x="105.85" fill="#9c2e7f"/>
<rect x="108.14" fill="#992d80"/>
<rect x="110.43" fill="#842681"/>
<rect x="112.72" fill="#802582"/>
<rect x="115" fill="#792282"/>
<rect x="117.29" fill="#932b80"/>
<rect x="119.58" fill="#ae347b"/>
<rect x="121.87" fill="#aa337d"/>
<rect x="124.15" fill="#dc4869"/>
<rect x="126.44" fill="#fd9a6a"/>
<rect x="128.73" fill="#f2645c"/>
<rect x="131.01" fill="#a5317e"/>
<rect x="133.3" fill="#bd3977"/>
<rect x="135.59" fill="#f8765c"/>
<rect x="137.88" fill="#feb77e"/>
<rect x="140.16" fill="#fec68a"/>
<rect x="142.45" fill="#fed597"/>
<rect x="144.74" fill="#fea571"/>
<rect x="147.02" fill="#fc9065"/>
<rect x="149.31" fill="#feb77e"/>
<rect x="151.6" fill="#fde5a7"/>
<rect x="153.89" fill="#fcf6b8"/>
<rect x="156.17" fill="#feb47b"/>
<rect x="158.46" fill="#fa7f5e"/>
<rect x="160.75" fill="#fa7f5e"/>
<rect x="163.03" fill="#fc8a62"/>
<rect x="165.32" fill="#feac76"/>
<rect x="167.61" fill="#febb81"/>
<rect x="169.9" fill="#fdda9c"/>
<rect x="172.18" fill="#fde3a5"/>
<rect x="174.47" fill="#fed597"/>
<rect x="176.76" fill="#feb97f"/>
<rect x="179.05" fill="#febf84"/>
<rect x="181.33" fill="#feaa74"/>
<rect x="183.62" fill="#fc8c63"/>
<rect x="185.91" fill="#feae77"/>
<rect x="188.19" fill="#fea772"/>
<rect x="190.48" fill="#e34e65"/>
<rect x="192.77" fill="#b2357b"/>
<rect x="195.06" fill="#a6317d"/>
<rect x="197.34" fill="#8e2a81"/>
<rect x="199.63" fill="#7c2382"/>
<rect x="201.92" fill="#671b80"/>
<rect x="204.2" fill="#621980"/>
<rect x="206.49" fill="#641a80"/>
<rect x="208.78" fill="#701f81"/>
<rect x="211.07" fill="#671b80"/>
<rect x="213.35" fill="#681c81"/>
<rect x="215.64" fill="#59157e"/>
<rect x="217.93" fill="#3d0f71"/>
<rect x="220.22" fill="#38106c"/>
<rect x="222.5" fill="#251255"/>
<rect x="224.79" fill="#1c1044"/>
<rect x="227.08" fill="#150e38"/>
<rect x="229.36" fill="#1c1044"/>
<rect x="231.65" fill="#130d34"/>
<rect x="233.94" fill="#0b0924"/>
<rect x="236.23" fill="#0c0926"/>
<rect x="238.51" fill="#07061c"/>
</g>
<g class="h" transform="translate(0,90.5)">
<rect x="48.67" fill="#08071e"/>
<rect x="50.96" fill="#0b0924"/>
<rect x="53.25" fill="#0d0a29"/>
<rect x="55.54" fill="#090720"/>
<rect x="57.82" fill="#0e0b2b"/>
<rect x="60.11" fill="#180f3d"/>
<rect x="62.4" fill="#150e38"/>
<rect x="64.68" fill="#19103f"/>
<rect x="66.97" fill="#1c1044"/>
<rect x="69.26" fill="#221150"/>
<rect x="71.55" fill="#1e1149"/>
<rect x="73.83" fill="#331067"/>
<rect x="76.12" fill="#491078"/>
<rect x="78.41" fill="#5f187f"/>
<rect x="80.7" fill="#621980"/>
<rect x="82.98" fill="#621980"/>
<rect x="85.27" fill="#4f127b"/>
<rect x="87.56" fill="#57157e"/>
<rect x="89.84" fill="#57157e"/>
<rect x="92.13" fill="#5f187f"/>
<rect x="94.42" fill="#812581"/>
<rect x="96.71" fill="#a3307e"/>
<rect x="98.99" fill="#982d80"/>
<rect x="101.28" fill="#7b2382"/>
<rect x="103.57" fill="#a5317e"/>
<rect x="105.85" fill="#d0416f"/>
<rect x="108.14" fill="#e04c67"/>
<rect x="110.43" fill="#f4695c"/>
<rect x="112.72" fill="#fd9869"/>
<rect x="115" fill="#feb97f"/>
<rect x="117.29" fill="#fdebac"/>
<rect x="119.58" fill="#fcfdbf"/>
<rect x="121.87" fill="#fceeb0"/>
<rect x="124.15" fill="#fdda9c"/>
<rect x="126.44" fill="#fcf7b9"/>
<rect x="128.73" fill="#fed395"/>
<rect x="131.01" fill="#fdebac"/>
<rect x="133.3" fill="#fde3a5"/>
<rect x="135.59" fill="#f05f5e"/>
<rect x="137.88" fill="#fc8e64"/>
<rect x="140.16" fill="#fcfdbf"/>
<rect x="142.45" fill="#fcfdbf"/>
<rect x="144.74" fill="#fcfdbf"/>
<rect x="147.02" fill="#fcfdbf"/>
<rect x="149.31" fill="#fcfdbf"/>
<rect x="151.6" fill="#fde2a3"/>
<rect x="153.89" fill="#fecf92"/>
<rect x="156.17" fill="#fcfdbf"/>
<rect x="158.46" fill="#fcfdbf"/>
<rect x="160.75" fill="#fcfdbf"/>
<rect x="163.03" fill="#fcfdbf"/>
<rect x="165.32" fill="#fcfdbf"/>
<rect x="167.61" fill="#fcfdbf"/>
<rect x="169.9" fill="#fcfdbf"/>
<rect x="172.18" fill="#fcfdbf"/>
<rect x="174.47" fill="#fcfdbf"/>
<rect x="176.76" fill="#fcfdbf"/>
<rect x="179.05" fill="#fcfdbf"/>
<rect x="181.33" fill="#fcfdbf"/>
<rect x="183.62" fill="#fcfdbf"/>
<rect x="185.91" fill="#fcfdbf"/>
<rect x="188.19" fill="#fcfdbf"/>
<rect x="190.48" fill="#fcfdbf"/>
<rect x="192.77" fill="#fcfdbf"/>
<rect x="195.06" fill="#fcfdbf"/>
<rect x="197.34" fill="#fecf92"/>
<rect x="199.63" fill="#fa7d5e"/>
<rect x="201.92" fill="#fe9d6c"/>
<rect x="204.2" fill="#febd82"/>
<rect x="206.49" fill="#ed5a5f"/>
<rect x="208.78" fill="#7b2382"/>
<rect x="211.07" fill="#7b2382"/>
<rect x="213.35" fill="#b3367a"/>
<rect x="215.64" fill="#b2357b"/>
<rect x="217.93" fill="#b2357b"/>
<rect x="220.22" fill="#ae347b"/>
<rect x="222.5" fill="#a5317e"/>
<rect x="224.79" fill="#7b2382"/>
<rect x="227.08" fill="#6b1d81"/>
<rect x="229.36" fill="#701f81"/>
<rect x="231.65" fill="#5c167f"/>
<rect x="233.94" fill="#36106b"/>
<rect x="236.23" fill="#471078"/>
<rect x="238.51" fill="#5f187f"/>
</g>
<g class="h" transform="translate(0,93.15)">
<rect x="44.1" fill="#07061c"/>
<rect x="46.39" fill="#0b0924"/>
<rect x="48.67" fill="#08071e"/>
<rect x="50.96" fill="#0c0926"/>
<rect x="53.25" fill="#090720"/>
<rect x="55.54" fill="#090720"/>
<rect x="57.82" fill="#0a0822"/>
<rect x="60.11" fill="#110c2f"/>
<rect x="62.4" fill="#120d31"/>
<rect x="64.68" fill="#160f3b"/>
<rect x="66.97" fill="#19103f"/>
<rect x="69.26" fill="#19103f"/>
<rect x="71.55" fill="#20114b"/>
<rect x="73.83" fill="#251255"/>
<rect x="76.12" fill="#29115a"/>
<rect x="78.41" fill="#271258"/>
<rect x="80.7" fill="#440f76"/>
<rect x="82.98" fill="#52137c"/>
<rect x="85.27" fill="#4c117a"/>
<rect x="87.56" fill="#4e117b"/>
<rect x="89.84" fill="#51127c"/>
<rect x="92.13" fill="#681c81"/>
<rect x="94.42" fill="#782281"/>
<rect x="96.71" fill="#6d1d81"/>
<rect x="98.99" fill="#6d1d81"/>
<rect x="101.28" fill="#701f81"/>
<rect x="103.57" fill="#982d80"/>
<rect x="105.85" fill="#bc3978"/>
<rect x="108.14" fill="#bc3978"/>
<rect x="110.43" fill="#ae347b"/>
<rect x="112.72" fill="#bc3978"/>
<rect x="115" fill="#ed5a5f"/>
<rect x="117.29" fill="#fa815f"/>
<rect x="119.58" fill="#e95462"/>
<rect x="121.87" fill="#f56b5c"/>
<rect x="124.15" fill="#fd9467"/>
<rect x="126.44" fill="#f2645c"/>
<rect x="128.73" fill="#eb5760"/>
<rect x="131.01" fill="#fe9f6d"/>
<rect x="133.3" fill="#fecf92"/>
<rect x="135.59" fill="#fa7d5e"/>
<rect x="137.88" fill="#c03a76"/>
<rect x="140.16" fill="#d3436e"/>
<rect x="142.45" fill="#fc8c63"/>
<rect x="144.74" fill="#fd9668"/>
<rect x="147.02" fill="#f66c5c"/>
<rect x="149.31" fill="#e85362"/>
<rect x="151.6" fill="#c43c75"/>
<rect x="153.89" fill="#c03a76"/>
<rect x="156.17" fill="#e85362"/>
<rect x="158.46" fill="#f7705c"/>
<rect x="160.75" fill="#f66e5c"/>
<rect x="163.03" fill="#fd9668"/>
<rect x="165.32" fill="#feae77"/>
<rect x="167.61" fill="#fc8a62"/>
<rect x="169.9" fill="#feb27a"/>
<rect x="172.18" fill="#fcfdbf"/>
<rect x="174.47" fill="#fcfdbf"/>
<rect x="176.76" fill="#fde7a9"/>
<rect x="179.05" fill="#fa7d5e"/>
<rect x="181.33" fill="#fc8e64"/>
<rect x="183.62" fill="#fec488"/>
<rect x="185.91" fill="#febd82"/>
<rect x="188.19" fill="#fc8a62"/>
<rect x="190.48" fill="#f4695c"/>
<rect x="192.77" fill="#fa7f5e"/>
<rect x="195.06" fill="#e55064"/>
<rect x="197.34" fill="#c43c75"/>
<rect x="199.63" fill="#c23b75"/>
<rect x="201.92" fill="#a6317d"/>
<rect x="204.2" fill="#9e2f7f"/>
<rect x="206.49" fill="#c53c74"/>
<rect x="208.78" fill="#e24d66"/>
<rect x="211.07" fill="#bd3977"/>
<rect x="213.35" fill="#802582"/>
<rect x="215.64" fill="#782281"/>
<rect x="217.93" fill="#6b1d81"/>
<rect x="220.22" fill="#601880"/>
<rect x="222.5" fill="#5f187f"/>
<rect x="224.79" fill="#5a167e"/>
<rect x="227.08" fill="#56147d"/>
<rect x="229.36" fill="#4c117a"/>
<rect x="231.65" fill="#491078"/>
<rect x="233.94" fill="#451077"/>
<rect x="236.23" fill="#36106b"/>
<rect x="238.51" fill="#331067"/>
</g>
<g class="h" transform="translate(0,95.8)">
<rect x="44.1" fill="#07061c"/>
<rect x="46.39" fill="#0a0822"/>
<rect x="48.67" fill="#090720"/>
<rect x="55.54" fill="#07061c"/>
<rect x="57.82" fill="#0d0a29"/>
<rect x="60.11" fill="#0e0b2b"/>
<rect x="62.4" fill="#100b2d"/>
<rect x="64.68" fill="#0d0a29"/>
<rect x="66.97" fill="#0d0a29"/>
<rect x="69.26" fill="#130d34"/>
<rect x="71.55" fill="#160f3b"/>
<rect x="73.83" fill="#241253"/>
<rect x="76.12" fill="#251255"/>
<rect x="78.41" fill="#341069"/>
<rect x="80.7" fill="#400f74"/>
<rect x="82.98" fill="#4a1079"/>
<rect x="85.27" fill="#3d0f71"/>
<rect x="87.56" fill="#3b0f70"/>
<rect x="89.84" fill="#420f75"/>
<rect x="92.13" fill="#641a80"/>
<rect x="94.42" fill="#5f187f"/>
<rect x="96.71" fill="#57157e"/>
<rect x="98.99" fill="#641a80"/>
<rect x="101.28" fill="#832681"/>
<rect x="103.57" fill="#9e2f7f"/>
<rect x="105.85" fill="#9b2e7f"/>
<rect x="108.14" fill="#a8327d"/>
<rect x="110.43" fill="#a6317d"/>
<rect x="112.72" fill="#942c80"/>
<rect x="115" fill="#cd4071"/>
<rect x="117.29" fill="#fc8961"/>
<rect x="119.58" fill="#fea973"/>
<rect x="121.87" fill="#fec68a"/>
<rect x="124.15" fill="#febb81"/>
<rect x="126.44" fill="#febd82"/>
<rect x="128.73" fill="#feb078"/>
<rect x="131.01" fill="#feaa74"/>
<rect x="133.3" fill="#fde5a7"/>
<rect x="135.59" fill="#fed194"/>
<rect x="137.88" fill="#f1605d"/>
<rect x="140.16" fill="#c53c74"/>
<rect x="142.45" fill="#c83e73"/>
<rect x="144.74" fill="#d2426f"/>
<rect x="147.02" fill="#f05f5e"/>
<rect x="149.31" fill="#fc8e64"/>
<rect x="151.6" fill="#fde2a3"/>
<rect x="153.89" fill="#fcfdbf"/>
<rect x="156.17" fill="#fcfdbf"/>
<rect x="158.46" fill="#fecc8f"/>
<rect x="160.75" fill="#feb67c"/>
<rect x="163.03" fill="#fddc9e"/>
<rect x="165.32" fill="#feb078"/>
<rect x="167.61" fill="#f1605d"/>
<rect x="169.9" fill="#f05f5e"/>
<rect x="172.18" fill="#feaa74"/>
<rect x="174.47" fill="#febb81"/>
<rect x="176.76" fill="#e24d66"/>
<rect x="179.05" fill="#b83779"/>
<rect x="181.33" fill="#d6456c"/>
<rect x="183.62" fill="#f2625d"/>
<rect x="185.91" fill="#d9466b"/>
<rect x="188.19" fill="#b73779"/>
<rect x="190.48" fill="#d9466b"/>
<rect x="192.77" fill="#f56b5c"/>
<rect x="195.06" fill="#f9785d"/>
<rect x="197.34" fill="#ea5661"/>
<rect x="199.63" fill="#bd3977"/>
<rect x="201.92" fill="#aa337d"/>
<rect x="204.2" fill="#a02f7f"/>
<rect x="206.49" fill="#992d80"/>
<rect x="208.78" fill="#7c2382"/>
<rect x="211.07" fill="#5a167e"/>
<rect x="213.35" fill="#420f75"/>
<rect x="215.64" fill="#471078"/>
<rect x="217.93" fill="#440f76"/>
<rect x="220.22" fill="#36106b"/>
<rect x="222.5" fill="#2c115f"/>
<rect x="224.79" fill="#36106b"/>
<rect x="227.08" fill="#29115a"/>
<rect x="229.36" fill="#1d1147"/>
<rect x="231.65" fill="#1c1044"/>
<rect x="233.94" fill="#19103f"/>
<rect x="236.23" fill="#0c0926"/>
<rect x="238.51" fill="#100b2d"/>
</g>
<g class="h" transform="translate(0,98.45)">
<rect x="44.1" fill="#19103f"/>
<rect x="46.39" fill="#110c2f"/>
<rect x="48.67" fill="#150e38"/>
<rect x="50.96" fill="#1c1044"/>
<rect x="53.25" fill="#20114b"/>
<rect x="55.54" fill="#1c1044"/>
<rect x="57.82" fill="#21114e"/>
<rect x="60.11" fill="#221150"/>
<rect x="62.4" fill="#1d1147"/>
<rect x="64.68" fill="#29115a"/>
<rect x="66.97" fill="#440f76"/>
<rect x="69.26" fill="#471078"/>
<rect x="71.55" fill="#400f74"/>
<rect x="73.83" fill="#390f6e"/>
<rect x="76.12" fill="#5f187f"/>
<rect x="78.41" fill="#6b1d81"/>
<rect x="80.7" fill="#762181"/>
<rect x="82.98" fill="#762181"/>
<rect x="85.27" fill="#912b81"/>
<rect x="87.56" fill="#8b2981"/>
<rect x="89.84" fill="#7b2382"/>
<rect x="92.13" fill="#762181"/>
<rect x="94.42" fill="#a02f7f"/>
<rect x="96.71" fill="#b5367a"/>
<rect x="98.99" fill="#b73779"/>
<rect x="101.28" fill="#ab337c"/>
<rect x="103.57" fill="#bd3977"/>
<rect x="105.85" fill="#ed5a5f"/>
<rect x="108.14" fill="#e55064"/>
<rect x="110.43" fill="#b73779"/>
<rect x="112.72" fill="#cc3f71"/>
<rect x="115" fill="#e95462"/>
<rect x="117.29" fill="#f05f5e"/>
<rect x="119.58" fill="#ef5d5e"/>
<rect x="121.87" fill="#e04c67"/>
<rect x="124.15" fill="#f4695c"/>
<rect x="126.44" fill="#feaa74"/>
<rect x="128.73" fill="#febd82"/>
<rect x="131.01" fill="#fd9266"/>
<rect x="133.3" fill="#d8456c"/>
<rect x="135.59" fill="#e04c67"/>
<rect x="137.88" fill="#fea16e"/>
<rect x="140.16" fill="#fa7f5e"/>
<rect x="142.45" fill="#f56b5c"/>
<rect x="144.74" fill="#fea36f"/>
<rect x="147.02" fill="#fec488"/>
<rect x="149.31" fill="#fd9b6b"/>
<rect x="151.6" fill="#f7725c"/>
<rect x="153.89" fill="#fecd90"/>
<rect x="156.17" fill="#fcfdbf"/>
<rect x="158.46" fill="#fcfdbf"/>
<rect x="160.75" fill="#fdebac"/>
<rect x="163.03" fill="#fc8c63"/>
<rect x="165.32" fill="#e95462"/>
<rect x="167.61" fill="#fc8c63"/>
<rect x="169.9" fill="#febb81"/>
<rect x="172.18" fill="#fec287"/>
<rect x="174.47" fill="#fcf0b2"/>
<rect x="176.76" fill="#fde5a7"/>
<rect x="179.05" fill="#f56b5c"/>
<rect x="181.33" fill="#a3307e"/>
<rect x="183.62" fill="#bd3977"/>
<rect x="185.91" fill="#f1605d"/>
<rect x="188.19" fill="#c43c75"/>
<rect x="190.48" fill="#8c2981"/>
<rect x="192.77" fill="#c23b75"/>
<rect x="195.06" fill="#f66c5c"/>
<rect x="197.34" fill="#f05f5e"/>
<rect x="199.63" fill="#e24d66"/>
<rect x="201.92" fill="#d8456c"/>
<rect x="204.2" fill="#ae347b"/>
<rect x="206.49" fill="#621980"/>
<rect x="208.78" fill="#681c81"/>
<rect x="211.07" fill="#b3367a"/>
<rect x="213.35" fill="#a5317e"/>
<rect x="215.64" fill="#802582"/>
<rect x="217.93" fill="#52137c"/>
<rect x="220.22" fill="#440f76"/>
<rect x="222.5" fill="#451077"/>
<rect x="224.79" fill="#440f76"/>
<rect x="227.08" fill="#420f75"/>
<rect x="229.36" fill="#52137c"/>
<rect x="231.65" fill="#4f127b"/>
<rect x="233.94" fill="#3d0f71"/>
<rect x="236.23" fill="#331067"/>
<rect x="238.51" fill="#29115a"/>
</g>
<g class="h" transform="translate(0,101.1)">
<rect x="44.1" fill="#0d0a29"/>
<rect x="46.39" fill="#0a0822"/>
<rect x="48.67" fill="#090720"/>
<rect x="50.96" fill="#100b2d"/>
<rect x="53.25" fill="#0e0b2b"/>
<rect x="55.54" fill="#100b2d"/>
<rect x="57.82" fill="#120d31"/>
<rect x="60.11" fill="#0e0b2b"/>
<rect x="62.4" fill="#140e36"/>
<rect x="64.68" fill="#130d34"/>
<rect x="66.97" fill="#20114b"/>
<rect x="69.26" fill="#19103f"/>
<rect x="71.55" fill="#21114e"/>
<rect x="73.83" fill="#2a115c"/>
<rect x="76.12" fill="#440f76"/>
<rect x="78.41" fill="#400f74"/>
<rect x="80.7" fill="#400f74"/>
<rect x="82.98" fill="#390f6e"/>
<rect x="85.27" fill="#56147d"/>
<rect x="87.56" fill="#671b80"/>
<rect x="89.84" fill="#56147d"/>
<rect x="92.13" fill="#52137c"/>
<rect x="94.42" fill="#651a80"/>
<rect x="96.71" fill="#701f81"/>
<rect x="98.99" fill="#6a1c81"/>
<rect x="101.28" fill="#892881"/>
<rect x="103.57" fill="#9e2f7f"/>
<rect x="105.85" fill="#a02f7f"/>
<rect x="108.14" fill="#9c2e7f"/>
<rect x="110.43" fill="#9b2e7f"/>
<rect x="112.72" fill="#a8327d"/>
<rect x="115" fill="#ca3e72"/>
<rect x="117.29" fill="#cc3f71"/>
<rect x="119.58" fill="#d9466b"/>
<rect x="121.87" fill="#bd3977"/>
<rect x="124.15" fill="#7e2482"/>
<rect x="126.44" fill="#4e117b"/>
<rect x="128.73" fill="#601880"/>
<rect x="131.01" fill="#bd3977"/>
<rect x="133.3" fill="#e85362"/>
<rect x="135.59" fill="#cf4070"/>
<rect x="137.88" fill="#ca3e72"/>
<rect x="140.16" fill="#cc3f71"/>
<rect x="142.45" fill="#d3436e"/>
<rect x="144.74" fill="#e55064"/>
<rect x="147.02" fill="#dc4869"/>
<rect x="149.31" fill="#e24d66"/>
<rect x="151.6" fill="#fd9b6b"/>
<rect x="153.89" fill="#fd9467"/>
<rect x="156.17" fill="#fb835f"/>
<rect x="158.46" fill="#fed194"/>
<rect x="160.75" fill="#fcf4b6"/>
<rect x="163.03" fill="#fec185"/>
<rect x="165.32" fill="#fa7d5e"/>
<rect x="167.61" fill="#cf4070"/>
<rect x="169.9" fill="#a3307e"/>
<rect x="172.18" fill="#902a81"/>
<rect x="174.47" fill="#b2357b"/>
<rect x="176.76" fill="#d2426f"/>
<rect x="179.05" fill="#a5317e"/>
<rect x="181.33" fill="#8c2981"/>
<rect x="183.62" fill="#d3436e"/>
<rect x="185.91" fill="#ef5d5e"/>
<rect x="188.19" fill="#c23b75"/>
<rect x="190.48" fill="#862781"/>
<rect x="192.77" fill="#862781"/>
<rect x="195.06" fill="#732081"/>
<rect x="197.34" fill="#701f81"/>
<rect x="199.63" fill="#7e2482"/>
<rect x="201.92" fill="#832681"/>
<rect x="204.2" fill="#5c167f"/>
<rect x="206.49" fill="#420f75"/>
<rect x="208.78" fill="#38106c"/>
<rect x="211.07" fill="#38106c"/>
<rect x="213.35" fill="#2d1161"/>
<rect x="215.64" fill="#341069"/>
<rect x="217.93" fill="#2f1163"/>
<rect x="220.22" fill="#2a115c"/>
<rect x="222.5" fill="#241253"/>
<rect x="224.79" fill="#251255"/>
<rect x="227.08" fill="#241253"/>
<rect x="229.36" fill="#20114b"/>
<rect x="231.65" fill="#130d34"/>
<rect x="233.94" fill="#100b2d"/>
<rect x="236.23" fill="#110c2f"/>
<rect x="238.51" fill="#140e36"/>
</g>
<g class="h" transform="translate(0,103.75)">
<rect x="44.1" fill="#090720"/>
<rect x="46.39" fill="#100b2d"/>
<rect x="48.67" fill="#100b2d"/>
<rect x="50.96" fill="#120d31"/>
<rect x="53.25" fill="#110c2f"/>
<rect x="55.54" fill="#160f3b"/>
<rect x="57.82" fill="#150e38"/>
<rect x="60.11" fill="#140e36"/>
<rect x="62.4" fill="#100b2d"/>
<rect x="64.68" fill="#160f3b"/>
<rect x="66.97" fill="#150e38"/>
<rect x="69.26" fill="#241253"/>
<rect x="71.55" fill="#2d1161"/>
<rect x="73.83" fill="#2a115c"/>
<rect x="76.12" fill="#2a115c"/>
<rect x="78.41" fill="#2a115c"/>
<rect x="80.7" fill="#38106c"/>
<rect x="82.98" fill="#3d0f71"/>
<rect x="85.27" fill="#36106b"/>
<rect x="87.56" fill="#36106b"/>
<rect x="89.84" fill="#51127c"/>
<rect x="92.13" fill="#56147d"/>
<rect x="94.42" fill="#54137d"/>
<rect x="96.71" fill="#57157e"/>
<rect x="98.99" fill="#651a80"/>
<rect x="101.28" fill="#782281"/>
<rect x="103.57" fill="#6e1e81"/>
<rect x="105.85" fill="#601880"/>
<rect x="108.14" fill="#6d1d81"/>
<rect x="110.43" fill="#6b1d81"/>
<rect x="112.72" fill="#842681"/>
<rect x="115" fill="#c23b75"/>
<rect x="117.29" fill="#d0416f"/>
<rect x="119.58" fill="#bf3a77"/>
<rect x="121.87" fill="#f2645c"/>
<rect x="124.15" fill="#f56b5c"/>
<rect x="126.44" fill="#c23b75"/>
<rect x="128.73" fill="#c43c75"/>
<rect x="131.01" fill="#e55064"/>
<rect x="133.3" fill="#c83e73"/>
<rect x="135.59" fill="#982d80"/>
<rect x="137.88" fill="#c73d73"/>
<rect x="140.16" fill="#ef5d5e"/>
<rect x="142.45" fill="#f66c5c"/>
<rect x="144.74" fill="#ef5d5e"/>
<rect x="147.02" fill="#b3367a"/>
<rect x="149.31" fill="#c73d73"/>
<rect x="151.6" fill="#f2625d"/>
<rect x="153.89" fill="#fc8a62"/>
<rect x="156.17" fill="#fe9f6d"/>
<rect x="158.46" fill="#fa7f5e"/>
<rect x="160.75" fill="#e95462"/>
<rect x="163.03" fill="#ea5661"/>
<rect x="165.32" fill="#e95462"/>
<rect x="167.61" fill="#f4675c"/>
<rect x="169.9" fill="#e85362"/>
<rect x="172.18" fill="#e04c67"/>
<rect x="174.47" fill="#c83e73"/>
<rect x="176.76" fill="#ab337c"/>
<rect x="179.05" fill="#a5317e"/>
<rect x="181.33" fill="#b2357b"/>
<rect x="183.62" fill="#e75263"/>
<rect x="185.91" fill="#e75263"/>
<rect x="188.19" fill="#862781"/>
<rect x="190.48" fill="#6b1d81"/>
<rect x="192.77" fill="#942c80"/>
<rect x="195.06" fill="#902a81"/>
<rect x="197.34" fill="#a3307e"/>
<rect x="199.63" fill="#c73d73"/>
<rect x="201.92" fill="#992d80"/>
<rect x="204.2" fill="#701f81"/>
<rect x="206.49" fill="#792282"/>
<rect x="208.78" fill="#8e2a81"/>
<rect x="211.07" fill="#9c2e7f"/>
<rect x="213.35" fill="#701f81"/>
<rect x="215.64" fill="#52137c"/>
<rect x="217.93" fill="#59157e"/>
<rect x="220.22" fill="#621980"/>
<rect x="222.5" fill="#471078"/>
<rect x="224.79" fill="#471078"/>
<rect x="227.08" fill="#52137c"/>
<rect x="229.36" fill="#451077"/>
<rect x="231.65" fill="#311165"/>
<rect x="233.94" fill="#251255"/>
<rect x="236.23" fill="#2c115f"/>
<rect x="238.51" fill="#2c115f"/>
</g>
<g class="h" transform="translate(0,106.4)">
<rect x="44.1" fill="#0c0926"/>
<rect x="46.39" fill="#0d0a29"/>
<rect x="48.67" fill="#0c0926"/>
<rect x="50.96" fill="#0d0a29"/>
<rect x="53.25" fill="#100b2d"/>
<rect x="55.54" fill="#180f3d"/>
<rect x="57.82" fill="#150e38"/>
<rect x="60.11" fill="#1c1044"/>
<rect x="62.4" fill="#1d1147"/>
<rect x="64.68" fill="#1a1042"/>
<rect x="66.97" fill="#1d1147"/>
<rect x="69.26" fill="#2c115f"/>
<rect x="71.55" fill="#36106b"/>
<rect x="73.83" fill="#4a1079"/>
<rect x="76.12" fill="#681c81"/>
<rect x="78.41" fill="#762181"/>
<rect x="80.7" fill="#671b80"/>
<rect x="82.98" fill="#5c167f"/>
<rect x="85.27" fill="#671b80"/>
<rect x="87.56" fill="#701f81"/>
<rect x="89.84" fill="#57157e"/>
<rect x="92.13" fill="#4f127b"/>
<rect x="94.42" fill="#792282"/>
<rect x="96.71" fill="#a3307e"/>
<rect x="98.99" fill="#982d80"/>
<rect x="101.28" fill="#832681"/>
<rect x="103.57" fill="#b5367a"/>
<rect x="105.85" fill="#ca3e72"/>
<rect x="108.14" fill="#d2426f"/>
<rect x="110.43" fill="#f3655c"/>
<rect x="112.72" fill="#f56b5c"/>
<rect x="115" fill="#fc8961"/>
<rect x="117.29" fill="#fb8560"/>
<rect x="119.58" fill="#ef5d5e"/>
<rect x="121.87" fill="#f56b5c"/>
<rect x="124.15" fill="#fa7d5e"/>
<rect x="126.44" fill="#fc8e64"/>
<rect x="128.73" fill="#feb97f"/>
<rect x="131.01" fill="#fd9668"/>
<rect x="133.3" fill="#e75263"/>
<rect x="135.59" fill="#f2645c"/>
<rect x="137.88" fill="#f8765c"/>
<rect x="140.16" fill="#fd9467"/>
<rect x="142.45" fill="#febf84"/>
<rect x="144.74" fill="#fddea0"/>
<rect x="147.02" fill="#fcfdbf"/>
<rect x="149.31" fill="#fed395"/>
<rect x="151.6" fill="#fde5a7"/>
<rect x="153.89" fill="#fcfdbf"/>
<rect x="156.17" fill="#fcfdbf"/>
<rect x="158.46" fill="#fdda9c"/>
<rect x="160.75" fill="#feb97f"/>
<rect x="163.03" fill="#febf84"/>
<rect x="165.32" fill="#fea571"/>
<rect x="167.61" fill="#fecd90"/>
<rect x="169.9" fill="#fcfdbf"/>
<rect x="172.18" fill="#fcfdbf"/>
<rect x="174.47" fill="#df4a68"/>
<rect x="176.76" fill="#e04c67"/>
<rect x="179.05" fill="#f9785d"/>
<rect x="181.33" fill="#e34e65"/>
<rect x="183.62" fill="#cd4071"/>
<rect x="185.91" fill="#f56b5c"/>
<rect x="188.19" fill="#f8745c"/>
<rect x="190.48" fill="#fd9869"/>
<rect x="192.77" fill="#fec185"/>
<rect x="195.06" fill="#fea571"/>
<rect x="197.34" fill="#fb835f"/>
<rect x="199.63" fill="#f97b5d"/>
<rect x="201.92" fill="#ee5b5e"/>
<rect x="204.2" fill="#f9795d"/>
<rect x="206.49" fill="#f9785d"/>
<rect x="208.78" fill="#cf4070"/>
<rect x="211.07" fill="#b5367a"/>
<rect x="213.35" fill="#d3436e"/>
<rect x="215.64" fill="#b2357b"/>
<rect x="217.93" fill="#5a167e"/>
<rect x="220.22" fill="#36106b"/>
<rect x="222.5" fill="#4e117b"/>
<rect x="224.79" fill="#6d1d81"/>
<rect x="227.08" fill="#762181"/>
<rect x="229.36" fill="#6d1d81"/>
<rect x="231.65" fill="#5a167e"/>
<rect x="233.94" fill="#4e117b"/>
<rect x="236.23" fill="#51127c"/>
<rect x="238.51" fill="#36106b"/>
</g>
<g class="h" transform="translate(0,109.05)">
<rect x="53.25" fill="#08071e"/>
<rect x="55.54" fill="#090720"/>
<rect x="57.82" fill="#090720"/>
<rect x="60.11" fill="#08071e"/>
<rect x="62.4" fill="#07061c"/>
<rect x="66.97" fill="#0a0822"/>
<rect x="69.26" fill="#0a0822"/>
<rect x="71.55" fill="#090720"/>
<rect x="73.83" fill="#100b2d"/>
<rect x="76.12" fill="#110c2f"/>
<rect x="78.41" fill="#0e0b2b"/>
<rect x="80.7" fill="#0b0924"/>
<rect x="82.98" fill="#0c0926"/>
<rect x="85.27" fill="#150e38"/>
<rect x="87.56" fill="#19103f"/>
<rect x="89.84" fill="#180f3d"/>
<rect x="92.13" fill="#2a115c"/>
<rect x="94.42" fill="#331067"/>
<rect x="96.71" fill="#2f1163"/>
<rect x="98.99" fill="#271258"/>
<rect x="101.28" fill="#440f76"/>
<rect x="103.57" fill="#5c167f"/>
<rect x="105.85" fill="#792282"/>
<rect x="108.14" fill="#882781"/>
<rect x="110.43" fill="#892881"/>
<rect x="112.72" fill="#912b81"/>
<rect x="115" fill="#a02f7f"/>
<rect x="117.29" fill="#942c80"/>
<rect x="119.58" fill="#882781"/>
<rect x="121.87" fill="#bc3978"/>
<rect x="124.15" fill="#df4a68"/>
<rect x="126.44" fill="#df4a68"/>
<rect x="128.73" fill="#ec5860"/>
<rect x="131.01" fill="#ed5a5f"/>
<rect x="133.3" fill="#f66e5c"/>
<rect x="135.59" fill="#fa7d5e"/>
<rect x="137.88" fill="#d5446d"/>
<rect x="140.16" fill="#bd3977"/>
<rect x="142.45" fill="#ea5661"/>
<rect x="144.74" fill="#f9795d"/>
<rect x="147.02" fill="#feb97f"/>
<rect x="149.31" fill="#fc8961"/>
<rect x="151.6" fill="#e34e65"/>
<rect x="153.89" fill="#d9466b"/>
<rect x="156.17" fill="#f4695c"/>
<rect x="158.46" fill="#fde3a5"/>
<rect x="160.75" fill="#fcfdbf"/>
<rect x="163.03" fill="#fcfdbf"/>
<rect x="165.32" fill="#fcfdbf"/>
<rect x="167.61" fill="#fed395"/>
<rect x="169.9" fill="#feb078"/>
<rect x="172.18" fill="#fddea0"/>
<rect x="174.47" fill="#febd82"/>
<rect x="176.76" fill="#eb5760"/>
<rect x="179.05" fill="#ec5860"/>
<rect x="181.33" fill="#fec185"/>
<rect x="183.62" fill="#febf84"/>
<rect x="185.91" fill="#ea5661"/>
<rect x="188.19" fill="#de4968"/>
<rect x="190.48" fill="#fc8e64"/>
<rect x="192.77" fill="#fea772"/>
<rect x="195.06" fill="#fd9869"/>
<rect x="197.34" fill="#f05f5e"/>
<rect x="199.63" fill="#d9466b"/>
<rect x="201.92" fill="#c43c75"/>
<rect x="204.2" fill="#892881"/>
<rect x="206.49" fill="#7c2382"/>
<rect x="208.78" fill="#a6317d"/>
<rect x="211.07" fill="#c73d73"/>
<rect x="213.35" fill="#b0357b"/>
<rect x="215.64" fill="#902a81"/>
<rect x="217.93" fill="#752181"/>
<rect x="220.22" fill="#6e1e81"/>
<rect x="222.5" fill="#56147d"/>
<rect x="224.79" fill="#4f127b"/>
<rect x="227.08" fill="#4f127b"/>
<rect x="229.36" fill="#3f0f72"/>
<rect x="231.65" fill="#2f1163"/>
<rect x="233.94" fill="#3d0f71"/>
<rect x="236.23" fill="#2d1161"/>
<rect x="238.51" fill="#20114b"/>
</g>
<g class="h" transform="translate(0,111.7)">
<rect x="44.1" fill="#0c0926"/>
<rect x="46.39" fill="#130d34"/>
<rect x="48.67" fill="#140e36"/>
<rect x="50.96" fill="#120d31"/>
<rect x="53.25" fill="#140e36"/>
<rect x="55.54" fill="#160f3b"/>
<rect x="57.82" fill="#221150"/>
<rect x="60.11" fill="#2a115c"/>
<rect x="62.4" fill="#20114b"/>
<rect x="64.68" fill="#38106c"/>
<rect x="66.97" fill="#3d0f71"/>
<rect x="69.26" fill="#400f74"/>
<rect x="71.55" fill="#3d0f71"/>
<rect x="73.83" fill="#311165"/>
<rect x="76.12" fill="#471078"/>
<rect x="78.41" fill="#6a1c81"/>
<rect x="80.7" fill="#802582"/>
<rect x="82.98" fill="#842681"/>
<rect x="85.27" fill="#882781"/>
<rect x="87.56" fill="#8b2981"/>
<rect x="89.84" fill="#762181"/>
<rect x="92.13" fill="#9b2e7f"/>
<rect x="94.42" fill="#a6317d"/>
<rect x="96.71" fill="#932b80"/>
<rect x="98.99" fill="#a02f7f"/>
<rect x="101.28" fill="#b83779"/>
<rect x="103.57" fill="#cf4070"/>
<rect x="105.85" fill="#d3436e"/>
<rect x="108.14" fill="#dc4869"/>
<rect x="110.43" fill="#f1605d"/>
<rect x="112.72" fill="#f9795d"/>
<rect x="115" fill="#f1605d"/>
<rect x="117.29" fill="#f2645c"/>
<rect x="119.58" fill="#feb27a"/>
<rect x="121.87" fill="#fcfdbf"/>
<rect x="124.15" fill="#fcfdbf"/>
<rect x="126.44" fill="#f4695c"/>
<rect x="128.73" fill="#e34e65"/>
<rect x="131.01" fill="#fcecae"/>
<rect x="133.3" fill="#fcfdbf"/>
<rect x="135.59" fill="#fea973"/>
<rect x="137.88" fill="#fcfdbf"/>
<rect x="140.16" fill="#fcfdbf"/>
<rect x="142.45" fill="#fcfdbf"/>
<rect x="144.74" fill="#fcfdbf"/>
<rect x="147.02" fill="#f1605d"/>
<rect x="149.31" fill="#fc8e64"/>
<rect x="151.6" fill="#fcfdbf"/>
<rect x="153.89" fill="#fcfdbf"/>
<rect x="156.17" fill="#fcfdbf"/>
<rect x="158.46" fill="#fcfdbf"/>
<rect x="160.75" fill="#fddc9e"/>
<rect x="163.03" fill="#fec88c"/>
<rect x="165.32" fill="#feb47b"/>
<rect x="167.61" fill="#fea16e"/>
<rect x="169.9" fill="#fd9668"/>
<rect x="172.18" fill="#fecc8f"/>
<rect x="174.47" fill="#fcfdbf"/>
<rect x="176.76" fill="#fde9aa"/>
<rect x="179.05" fill="#fed799"/>
<rect x="181.33" fill="#fcfdbf"/>
<rect x="183.62" fill="#fcfdbf"/>
<rect x="185.91" fill="#fea571"/>
<rect x="188.19" fill="#f1605d"/>
<rect x="190.48" fill="#fec185"/>
<rect x="192.77" fill="#fddc9e"/>
<rect x="195.06" fill="#fd9a6a"/>
<rect x="197.34" fill="#fb8560"/>
<rect x="199.63" fill="#ed5a5f"/>
<rect x="201.92" fill="#c83e73"/>
<rect x="204.2" fill="#c83e73"/>
<rect x="206.49" fill="#c43c75"/>
<rect x="208.78" fill="#d0416f"/>
<rect x="211.07" fill="#d0416f"/>
<rect x="213.35" fill="#b0357b"/>
<rect x="215.64" fill="#a1307e"/>
<rect x="217.93" fill="#942c80"/>
<rect x="220.22" fill="#7c2382"/>
<rect x="222.5" fill="#621980"/>
<rect x="224.79" fill="#681c81"/>
<rect x="227.08" fill="#7b2382"/>
<rect x="229.36" fill="#621980"/>
<rect x="231.65" fill="#3d0f71"/>
<rect x="233.94" fill="#331067"/>
<rect x="236.23" fill="#2a115c"/>
<rect x="238.51" fill="#241253"/>
</g>
<g class="h" transform="translate(0,114.35)">
<rect x="44.1" fill="#160f3b"/>
<rect x="46.39" fill="#1d1147"/>
<rect x="48.67" fill="#1d1147"/>
<rect x="50.96" fill="#1d1147"/>
<rect x="53.25" fill="#19103f"/>
<rect x="55.54" fill="#130d34"/>
<rect x="57.82" fill="#221150"/>
<rect x="60.11" fill="#390f6e"/>
<rect x="62.4" fill="#471078"/>
<rect x="64.68" fill="#54137d"/>
<rect x="66.97" fill="#56147d"/>
<rect x="69.26" fill="#52137c"/>
<rect x="71.55" fill="#651a80"/>
<rect x="73.83" fill="#782281"/>
<rect x="76.12" fill="#832681"/>
<rect x="78.41" fill="#6d1d81"/>
<rect x="80.7" fill="#641a80"/>
<rect x="82.98" fill="#7e2482"/>
<rect x="85.27" fill="#9c2e7f"/>
<rect x="87.56" fill="#942c80"/>
<rect x="89.84" fill="#942c80"/>
<rect x="92.13" fill="#c73d73"/>
<rect x="94.42" fill="#e44f64"/>
<rect x="96.71" fill="#d8456c"/>
<rect x="98.99" fill="#d3436e"/>
<rect x="101.28" fill="#e85362"/>
<rect x="103.57" fill="#ee5b5e"/>
<rect x="105.85" fill="#dc4869"/>
<rect x="108.14" fill="#d2426f"/>
<rect x="110.43" fill="#de4968"/>
<rect x="112.72" fill="#dc4869"/>
<rect x="115" fill="#f8765c"/>
<rect x="117.29" fill="#fd9869"/>
<rect x="119.58" fill="#feb078"/>
<rect x="121.87" fill="#fcf4b6"/>
<rect x="124.15" fill="#fcf6b8"/>
<rect x="126.44" fill="#feae77"/>
<rect x="128.73" fill="#fd9467"/>
<rect x="131.01" fill="#fec287"/>
<rect x="133.3" fill="#fed597"/>
<rect x="135.59" fill="#fb8761"/>
<rect x="137.88" fill="#f66e5c"/>
<rect x="140.16" fill="#f05f5e"/>
<rect x="142.45" fill="#fa7d5e"/>
<rect x="144.74" fill="#feb97f"/>
<rect x="147.02" fill="#fdebac"/>
<rect x="149.31" fill="#fcfdbf"/>
<rect x="151.6" fill="#feb078"/>
<rect x="153.89" fill="#fe9f6d"/>
<rect x="156.17" fill="#fea973"/>
<rect x="158.46" fill="#ea5661"/>
<rect x="160.75" fill="#c03a76"/>
<rect x="163.03" fill="#f66e5c"/>
<rect x="165.32" fill="#fd9869"/>
<rect x="167.61" fill="#fd9869"/>
<rect x="169.9" fill="#fb8761"/>
<rect x="172.18" fill="#f2645c"/>
<rect x="174.47" fill="#fecf92"/>
<rect x="176.76" fill="#fcfdbf"/>
<rect x="179.05" fill="#fcfdbf"/>
<rect x="181.33" fill="#fdebac"/>
<rect x="183.62" fill="#fe9f6d"/>
<rect x="185.91" fill="#fd9a6a"/>
<rect x="188.19" fill="#feb27a"/>
<rect x="190.48" fill="#fea571"/>
<rect x="192.77" fill="#f7725c"/>
<rect x="195.06" fill="#ef5d5e"/>
<rect x="197.34" fill="#f2625d"/>
<rect x="199.63" fill="#db476a"/>
<rect x="201.92" fill="#9e2f7f"/>
<rect x="204.2" fill="#c23b75"/>
<rect x="206.49" fill="#ed5a5f"/>
<rect x="208.78" fill="#e75263"/>
<rect x="211.07" fill="#e24d66"/>
<rect x="213.35" fill="#db476a"/>
<rect x="215.64" fill="#b73779"/>
<rect x="217.93" fill="#962c80"/>
<rect x="220.22" fill="#bd3977"/>
<rect x="222.5" fill="#c53c74"/>
<rect x="224.79" fill="#a3307e"/>
<rect x="227.08" fill="#902a81"/>
<rect x="229.36" fill="#671b80"/>
<rect x="231.65" fill="#4c117a"/>
<rect x="233.94" fill="#3f0f72"/>
<rect x="236.23" fill="#491078"/>
<rect x="238.51" fill="#59157e"/>
</g>
<g class="h" transform="translate(0,117)">
<rect x="44.1" fill="#08071e"/>
<rect x="55.54" fill="#090720"/>
<rect x="57.82" fill="#08071e"/>
<rect x="60.11" fill="#090720"/>
<rect x="62.4" fill="#0a0822"/>
<rect x="64.68" fill="#090720"/>
<rect x="66.97" fill="#110c2f"/>
<rect x="69.26" fill="#0d0a29"/>
<rect x="71.55" fill="#0c0926"/>
<rect x="73.83" fill="#120d31"/>
<rect x="76.12" fill="#1c1044"/>
<rect x="78.41" fill="#1e1149"/>
<rect x="80.7" fill="#1e1149"/>
<rect x="82.98" fill="#221150"/>
<rect x="85.27" fill="#2c115f"/>
<rect x="87.56" fill="#420f75"/>
<rect x="89.84" fill="#4c117a"/>
<rect x="92.13" fill="#4f127b"/>
<rect x="94.42" fill="#4e117b"/>
<rect x="96.71" fill="#390f6e"/>
<rect x="98.99" fill="#59157e"/>
<rect x="101.28" fill="#892881"/>
<rect x="103.57" fill="#7e2482"/>
<rect x="105.85" fill="#651a80"/>
<rect x="108.14" fill="#832681"/>
<rect x="110.43" fill="#bf3a77"/>
<rect x="112.72" fill="#d0416f"/>
<rect x="115" fill="#c83e73"/>
<rect x="117.29" fill="#bf3a77"/>
<rect x="119.58" fill="#ec5860"/>
<rect x="121.87" fill="#fd9b6b"/>
<rect x="124.15" fill="#fea772"/>
<rect x="126.44" fill="#febb81"/>
<rect x="128.73" fill="#fddc9e"/>
<rect x="131.01" fill="#feae77"/>
<rect x="133.3" fill="#f7705c"/>
<rect x="135.59" fill="#e95462"/>
<rect x="137.88" fill="#fc9065"/>
<rect x="140.16" fill="#fcf4b6"/>
<rect x="142.45" fill="#fcfbbd"/>
<rect x="144.74" fill="#f8745c"/>
<rect x="147.02" fill="#f1605d"/>
<rect x="149.31" fill="#fec287"/>
<rect x="151.6" fill="#fcfdbf"/>
<rect x="153.89" fill="#fcfdbf"/>
<rect x="156.17" fill="#fcf7b9"/>
<rect x="158.46" fill="#fcfdbf"/>
<rect x="160.75" fill="#fde9aa"/>
<rect x="163.03" fill="#fecc8f"/>
<rect x="165.32" fill="#fddea0"/>
<rect x="167.61" fill="#fde0a1"/>
<rect x="169.9" fill="#fcecae"/>
<rect x="172.18" fill="#fddc9e"/>
<rect x="174.47" fill="#fb8560"/>
<rect x="176.76" fill="#e85362"/>
<rect x="179.05" fill="#f8765c"/>
<rect x="181.33" fill="#feb27a"/>
<rect x="183.62" fill="#fe9d6c"/>
<rect x="185.91" fill="#e85362"/>
<rect x="188.19" fill="#dc4869"/>
<rect x="190.48" fill="#ba3878"/>
<rect x="192.77" fill="#882781"/>
<rect x="195.06" fill="#982d80"/>
<rect x="197.34" fill="#b83779"/>
<rect x="199.63" fill="#ad347c"/>
<rect x="201.92" fill="#902a81"/>
<rect x="204.2" fill="#8e2a81"/>
<rect x="206.49" fill="#a1307e"/>
<rect x="208.78" fill="#8c2981"/>
<rect x="211.07" fill="#721f81"/>
<rect x="213.35" fill="#451077"/>
<rect x="215.64" fill="#331067"/>
<rect x="217.93" fill="#400f74"/>
<rect x="220.22" fill="#331067"/>
<rect x="222.5" fill="#251255"/>
<rect x="224.79" fill="#29115a"/>
<rect x="227.08" fill="#21114e"/>
<rect x="229.36" fill="#241253"/>
<rect x="231.65" fill="#21114e"/>
<rect x="233.94" fill="#140e36"/>
<rect x="236.23" fill="#1e1149"/>
<rect x="238.51" fill="#160f3b"/>
</g>
<g class="h" transform="translate(0,119.65)">
<rect x="44.1" fill="#1d1147"/>
<rect x="46.39" fill="#1e1149"/>
<rect x="48.67" fill="#180f3d"/>
<rect x="50.96" fill="#1c1044"/>
<rect x="53.25" fill="#2d1161"/>
<rect x="55.54" fill="#390f6e"/>
<rect x="57.82" fill="#3f0f72"/>
<rect x="60.11" fill="#4f127b"/>
<rect x="62.4" fill="#4f127b"/>
<rect x="64.68" fill="#52137c"/>
<rect x="66.97" fill="#59157e"/>
<rect x="69.26" fill="#5f187f"/>
<rect x="71.55" fill="#56147d"/>
<rect x="73.83" fill="#341069"/>
<rect x="76.12" fill="#2f1163"/>
<rect x="78.41" fill="#471078"/>
<rect x="80.7" fill="#732081"/>
<rect x="82.98" fill="#882781"/>
<rect x="85.27" fill="#a3307e"/>
<rect x="87.56" fill="#ba3878"/>
<rect x="89.84" fill="#bc3978"/>
<rect x="92.13" fill="#b2357b"/>
<rect x="94.42" fill="#b73779"/>
<rect x="96.71" fill="#9e2f7f"/>
<rect x="98.99" fill="#832681"/>
<rect x="101.28" fill="#8c2981"/>
<rect x="103.57" fill="#b5367a"/>
<rect x="105.85" fill="#bd3977"/>
<rect x="108.14" fill="#c03a76"/>
<rect x="110.43" fill="#bc3978"/>
<rect x="112.72" fill="#f56b5c"/>
<rect x="115" fill="#fde7a9"/>
<rect x="117.29" fill="#feb47b"/>
<rect x="119.58" fill="#e85362"/>
<rect x="121.87" fill="#f8745c"/>
<rect x="124.15" fill="#f9785d"/>
<rect x="126.44" fill="#f9785d"/>
<rect x="128.73" fill="#feb078"/>
<rect x="131.01" fill="#fec287"/>
<rect x="133.3" fill="#feb67c"/>
<rect x="135.59" fill="#fea16e"/>
<rect x="137.88" fill="#fcf6b8"/>
<rect x="140.16" fill="#fcfdbf"/>
<rect x="142.45" fill="#fed799"/>
<rect x="144.74" fill="#ed5a5f"/>
<rect x="147.02" fill="#f66e5c"/>
<rect x="149.31" fill="#feb47b"/>
<rect x="151.6" fill="#fcfdbf"/>
<rect x="153.89" fill="#fcf9bb"/>
<rect x="156.17" fill="#fed395"/>
<rect x="158.46" fill="#fcfdbf"/>
<rect x="160.75" fill="#fed799"/>
<rect x="163.03" fill="#fd9b6b"/>
<rect x="165.32" fill="#fcfdbf"/>
<rect x="167.61" fill="#fcfdbf"/>
<rect x="169.9" fill="#fa815f"/>
<rect x="172.18" fill="#f2645c"/>
<rect x="174.47" fill="#fc8a62"/>
<rect x="176.76" fill="#feae77"/>
<rect x="179.05" fill="#fed597"/>
<rect x="181.33" fill="#feb97f"/>
<rect x="183.62" fill="#ee5b5e"/>
<rect x="185.91" fill="#e44f64"/>
<rect x="188.19" fill="#fea36f"/>
<rect x="190.48" fill="#fed395"/>
<rect x="192.77" fill="#feaa74"/>
<rect x="195.06" fill="#fc8e64"/>
<rect x="197.34" fill="#fa815f"/>
<rect x="199.63" fill="#f7705c"/>
<rect x="201.92" fill="#f4695c"/>
<rect x="204.2" fill="#e95462"/>
<rect x="206.49" fill="#cd4071"/>
<rect x="208.78" fill="#e34e65"/>
<rect x="211.07" fill="#fc9065"/>
<rect x="213.35" fill="#f56b5c"/>
<rect x="215.64" fill="#c23b75"/>
<rect x="217.93" fill="#d2426f"/>
<rect x="220.22" fill="#db476a"/>
<rect x="222.5" fill="#bc3978"/>
<rect x="224.79" fill="#8c2981"/>
<rect x="227.08" fill="#812581"/>
<rect x="229.36" fill="#782281"/>
<rect x="231.65" fill="#601880"/>
<rect x="233.94" fill="#732081"/>
<rect x="236.23" fill="#812581"/>
<rect x="238.51" fill="#792282"/>
</g>
<g class="h" transform="translate(0,122.3)">
<rect x="44.1" fill="#1a1042"/>
<rect x="46.39" fill="#2d1161"/>
<rect x="48.67" fill="#2d1161"/>
<rect x="50.96" fill="#29115a"/>
<rect x="53.25" fill="#38106c"/>
<rect x="55.54" fill="#331067"/>
<rect x="57.82" fill="#3f0f72"/>
<rect x="60.11" fill="#451077"/>
<rect x="62.4" fill="#5c167f"/>
<rect x="64.68" fill="#56147d"/>
<rect x="66.97" fill="#5c167f"/>
<rect x="69.26" fill="#721f81"/>
<rect x="71.55" fill="#752181"/>
<rect x="73.83" fill="#782281"/>
<rect x="76.12" fill="#6d1d81"/>
<rect x="78.41" fill="#59157e"/>
<rect x="80.7" fill="#721f81"/>
<rect x="82.98" fill="#a1307e"/>
<rect x="85.27" fill="#b0357b"/>
<rect x="87.56" fill="#a3307e"/>
<rect x="89.84" fill="#aa337d"/>
<rect x="92.13" fill="#a1307e"/>
<rect x="94.42" fill="#ba3878"/>
<rect x="96.71" fill="#b83779"/>
<rect x="98.99" fill="#9e2f7f"/>
<rect x="101.28" fill="#bd3977"/>
<rect x="103.57" fill="#c03a76"/>
<rect x="105.85" fill="#b0357b"/>
<rect x="108.14" fill="#e44f64"/>
<rect x="110.43" fill="#f4695c"/>
<rect x="112.72" fill="#f56b5c"/>
<rect x="115" fill="#e85362"/>
<rect x="117.29" fill="#c43c75"/>
<rect x="119.58" fill="#c53c74"/>
<rect x="121.87" fill="#d6456c"/>
<rect x="124.15" fill="#de4968"/>
<rect x="126.44" fill="#ee5b5e"/>
<rect x="128.73" fill="#fea16e"/>
<rect x="131.01" fill="#feca8d"/>
<rect x="133.3" fill="#fec488"/>
<rect x="135.59" fill="#feaa74"/>
<rect x="137.88" fill="#fea16e"/>
<rect x="140.16" fill="#fddea0"/>
<rect x="142.45" fill="#fed89a"/>
<rect x="144.74" fill="#fc9065"/>
<rect x="147.02" fill="#f05f5e"/>
<rect x="149.31" fill="#eb5760"/>
<rect x="151.6" fill="#f66e5c"/>
<rect x="153.89" fill="#feb27a"/>
<rect x="156.17" fill="#fcfdbf"/>
<rect x="158.46" fill="#fcecae"/>
<rect x="160.75" fill="#fc8961"/>
<rect x="163.03" fill="#fd9b6b"/>
<rect x="165.32" fill="#f4675c"/>
<rect x="167.61" fill="#d2426f"/>
<rect x="169.9" fill="#ef5d5e"/>
<rect x="172.18" fill="#f7725c"/>
<rect x="174.47" fill="#fd9467"/>
<rect x="176.76" fill="#fc8e64"/>
<rect x="179.05" fill="#fc8a62"/>
<rect x="181.33" fill="#feae77"/>
<rect x="183.62" fill="#fb8560"/>
<rect x="185.91" fill="#c83e73"/>
<rect x="188.19" fill="#d0416f"/>
<rect x="190.48" fill="#f9795d"/>
<rect x="192.77" fill="#ec5860"/>
<rect x="195.06" fill="#db476a"/>
<rect x="197.34" fill="#ef5d5e"/>
<rect x="199.63" fill="#e04c67"/>
<rect x="201.92" fill="#892881"/>
<rect x="204.2" fill="#671b80"/>
<rect x="206.49" fill="#7c2382"/>
<rect x="208.78" fill="#832681"/>
<rect x="211.07" fill="#ab337c"/>
<rect x="213.35" fill="#c53c74"/>
<rect x="215.64" fill="#aa337d"/>
<rect x="217.93" fill="#892881"/>
<rect x="220.22" fill="#992d80"/>
<rect x="222.5" fill="#aa337d"/>
<rect x="224.79" fill="#892881"/>
<rect x="227.08" fill="#701f81"/>
<rect x="229.36" fill="#641a80"/>
<rect x="231.65" fill="#621980"/>
<rect x="233.94" fill="#601880"/>
<rect x="236.23" fill="#51127c"/>
<rect x="238.51" fill="#390f6e"/>
</g>
<g class="h" transform="translate(0,124.95)">
<rect x="44.1" fill="#19103f"/>
<rect x="46.39" fill="#1c1044"/>
<rect x="48.67" fill="#1c1044"/>
<rect x="50.96" fill="#1d1147"/>
<rect x="53.25" fill="#311165"/>
<rect x="55.54" fill="#3f0f72"/>
<rect x="57.82" fill="#29115a"/>
<rect x="60.11" fill="#21114e"/>
<rect x="62.4" fill="#491078"/>
<rect x="64.68" fill="#5d177f"/>
<rect x="66.97" fill="#451077"/>
<rect x="69.26" fill="#2a115c"/>
<rect x="71.55" fill="#331067"/>
<rect x="73.83" fill="#52137c"/>
<rect x="76.12" fill="#752181"/>
<rect x="78.41" fill="#57157e"/>
<rect x="80.7" fill="#4e117b"/>
<rect x="82.98" fill="#59157e"/>
<rect x="85.27" fill="#4f127b"/>
<rect x="87.56" fill="#4e117b"/>
<rect x="89.84" fill="#5d177f"/>
<rect x="92.13" fill="#6d1d81"/>
<rect x="94.42" fill="#762181"/>
<rect x="96.71" fill="#762181"/>
<rect x="98.99" fill="#842681"/>
<rect x="101.28" fill="#a8327d"/>
<rect x="103.57" fill="#c73d73"/>
<rect x="105.85" fill="#b83779"/>
<rect x="108.14" fill="#842681"/>
<rect x="110.43" fill="#6e1e81"/>
<rect x="112.72" fill="#892881"/>
<rect x="115" fill="#b0357b"/>
<rect x="117.29" fill="#a1307e"/>
<rect x="119.58" fill="#a1307e"/>
<rect x="121.87" fill="#a02f7f"/>
<rect x="124.15" fill="#9e2f7f"/>
<rect x="126.44" fill="#c73d73"/>
<rect x="128.73" fill="#eb5760"/>
<rect x="131.01" fill="#d0416f"/>
<rect x="133.3" fill="#bf3a77"/>
<rect x="135.59" fill="#d0416f"/>
<rect x="137.88" fill="#d3436e"/>
<rect x="140.16" fill="#d5446d"/>
<rect x="142.45" fill="#bf3a77"/>
<rect x="144.74" fill="#c53c74"/>
<rect x="147.02" fill="#cf4070"/>
<rect x="149.31" fill="#bc3978"/>
<rect x="151.6" fill="#bd3977"/>
<rect x="153.89" fill="#ba3878"/>
<rect x="156.17" fill="#b2357b"/>
<rect x="158.46" fill="#862781"/>
<rect x="160.75" fill="#681c81"/>
<rect x="163.03" fill="#752181"/>
<rect x="165.32" fill="#a3307e"/>
<rect x="167.61" fill="#c83e73"/>
<rect x="169.9" fill="#ab337c"/>
<rect x="172.18" fill="#862781"/>
<rect x="174.47" fill="#892881"/>
<rect x="176.76" fill="#a6317d"/>
<rect x="179.05" fill="#b2357b"/>
<rect x="181.33" fill="#b0357b"/>
<rect x="183.62" fill="#862781"/>
<rect x="185.91" fill="#7e2482"/>
<rect x="188.19" fill="#9b2e7f"/>
<rect x="190.48" fill="#bc3978"/>
<rect x="192.77" fill="#aa337d"/>
<rect x="195.06" fill="#812581"/>
<rect x="197.34" fill="#8b2981"/>
<rect x="199.63" fill="#8c2981"/>
<rect x="201.92" fill="#752181"/>
<rect x="204.2" fill="#621980"/>
<rect x="206.49" fill="#6e1e81"/>
<rect x="208.78" fill="#732081"/>
<rect x="211.07" fill="#812581"/>
<rect x="213.35" fill="#832681"/>
<rect x="215.64" fill="#671b80"/>
<rect x="217.93" fill="#491078"/>
<rect x="220.22" fill="#5a167e"/>
<rect x="222.5" fill="#681c81"/>
<rect x="224.79" fill="#701f81"/>
<rect x="227.08" fill="#621980"/>
<rect x="229.36" fill="#5a167e"/>
<rect x="231.65" fill="#52137c"/>
<rect x="233.94" fill="#440f76"/>
<rect x="236.23" fill="#3d0f71"/>
<rect x="238.51" fill="#400f74"/>
</g>
<g class="h" transform="translate(0,127.6)">
<rect x="44.1" fill="#090720"/>
<rect x="46.39" fill="#08071e"/>
<rect x="48.67" fill="#0d0a29"/>
<rect x="50.96" fill="#0d0a29"/>
<rect x="53.25" fill="#0c0926"/>
<rect x="55.54" fill="#0e0b2b"/>
<rect x="57.82" fill="#130d34"/>
<rect x="60.11" fill="#160f3b"/>
<rect x="62.4" fill="#110c2f"/>
<rect x="64.68" fill="#140e36"/>
<rect x="66.97" fill="#110c2f"/>
<rect x="69.26" fill="#1a1042"/>
<rect x="71.55" fill="#2c115f"/>
<rect x="73.83" fill="#3f0f72"/>
<rect x="76.12" fill="#331067"/>
<rect x="78.41" fill="#36106b"/>
<rect x="80.7" fill="#2c115f"/>
<rect x="82.98" fill="#331067"/>
<rect x="85.27" fill="#440f76"/>
<rect x="87.56" fill="#4c117a"/>
<rect x="89.84" fill="#471078"/>
<rect x="92.13" fill="#56147d"/>
<rect x="94.42" fill="#732081"/>
<rect x="96.71" fill="#862781"/>
<rect x="98.99" fill="#9b2e7f"/>
<rect x="101.28" fill="#b3367a"/>
<rect x="103.57" fill="#a1307e"/>
<rect x="105.85" fill="#8e2a81"/>
<rect x="108.14" fill="#992d80"/>
<rect x="110.43" fill="#892881"/>
<rect x="112.72" fill="#882781"/>
<rect x="115" fill="#ab337c"/>
<rect x="117.29" fill="#ae347b"/>
<rect x="119.58" fill="#b0357b"/>
<rect x="121.87" fill="#c03a76"/>
<rect x="124.15" fill="#ad347c"/>
<rect x="126.44" fill="#b3367a"/>
<rect x="128.73" fill="#ef5d5e"/>
<rect x="131.01" fill="#fc8961"/>
<rect x="133.3" fill="#fa7d5e"/>
<rect x="135.59" fill="#fd9869"/>
<rect x="137.88" fill="#febd82"/>
<rect x="140.16" fill="#fecc8f"/>
<rect x="142.45" fill="#feac76"/>
<rect x="144.74" fill="#f3655c"/>
<rect x="147.02" fill="#fa7d5e"/>
<rect x="149.31" fill="#fc9065"/>
<rect x="151.6" fill="#fc9065"/>
<rect x="153.89" fill="#fea772"/>
<rect x="156.17" fill="#fcf2b4"/>
<rect x="158.46" fill="#fcf6b8"/>
<rect x="160.75" fill="#fea16e"/>
<rect x="163.03" fill="#fd9668"/>
<rect x="165.32" fill="#fc8e64"/>
<rect x="167.61" fill="#fea16e"/>
<rect x="169.9" fill="#fc8a62"/>
<rect x="172.18" fill="#d9466b"/>
<rect x="174.47" fill="#d3436e"/>
<rect x="176.76" fill="#fc8961"/>
<rect x="179.05" fill="#fa7f5e"/>
<rect x="181.33" fill="#e44f64"/>
<rect x="183.62" fill="#bc3978"/>
<rect x="185.91" fill="#ae347b"/>
<rect x="188.19" fill="#a6317d"/>
<rect x="190.48" fill="#a8327d"/>
<rect x="192.77" fill="#c73d73"/>
<rect x="195.06" fill="#d5446d"/>
<rect x="197.34" fill="#d2426f"/>
<rect x="199.63" fill="#e75263"/>
<rect x="201.92" fill="#df4a68"/>
<rect x="204.2" fill="#ba3878"/>
<rect x="206.49" fill="#912b81"/>
<rect x="208.78" fill="#792282"/>
<rect x="211.07" fill="#641a80"/>
<rect x="213.35" fill="#57157e"/>
<rect x="215.64" fill="#7c2382"/>
<rect x="217.93" fill="#792282"/>
<rect x="220.22" fill="#6a1c81"/>
<rect x="222.5" fill="#5d177f"/>
<rect x="224.79" fill="#671b80"/>
<rect x="227.08" fill="#641a80"/>
<rect x="229.36" fill="#641a80"/>
<rect x="231.65" fill="#52137c"/>
<rect x="233.94" fill="#491078"/>
<rect x="236.23" fill="#3d0f71"/>
<rect x="238.51" fill="#2f1163"/>
</g>
</g>
<path d="M109.4,11 109.11,12.5 108.7,14 108.23,15.5 107.72,17 107.18,18.5 106.62,20 106.03,21.5 105.42,23 104.8,24.5 104.16,26 103.5,27.5 102.83,29 102.15,30.5 101.45,32 100.74,33.5 100.03,35 99.3,36.5 98.56,38 97.81,39.5 97.05,41 96.29,42.5 95.51,44 94.73,45.5 93.94,47 93.14,48.5 92.33,50 91.52,51.5 90.7,53 89.87,54.5 89.04,56 88.2,57.5 87.35,59 86.5,60.5 85.64,62 84.78,63.5 83.91,65 83.04,66.5 82.15,68 81.27,69.5 80.38,71 79.48,72.5 78.58,74 77.67,75.5 76.76,77 75.85,78.5 74.92,80 74,81.5 73.07,83 72.13,84.5 71.2,86 70.25,87.5 69.3,89 68.35,90.5 67.4,92 66.44,93.5 65.47,95 64.51,96.5 63.53,98 62.56,99.5 61.58,101 60.6,102.5 59.61,104 58.62,105.5 57.62,107 56.63,108.5 55.62,110 54.62,111.5 53.61,113 52.6,114.5 51.58,116 50.56,117.5 49.54,119 48.52,120.5 47.49,122 46.46,123.5 45.42,125 44.39,126.5 43.34,128" fill="none" stroke="#ffffff" stroke-width="1.3" stroke-dasharray="6.2 7.4" stroke-dashoffset="1.5"/>
<path d="M175.9,11 176.19,12.5 176.6,14 177.07,15.5 177.58,17 178.12,18.5 178.68,20 179.27,21.5 179.88,23 180.5,24.5 181.14,26 181.8,27.5 182.47,29 183.15,30.5 183.85,32 184.56,33.5 185.27,35 186,36.5 186.74,38 187.49,39.5 188.25,41 189.01,42.5 189.79,44 190.57,45.5 191.36,47 192.16,48.5 192.97,50 193.78,51.5 194.6,53 195.43,54.5 196.26,56 197.1,57.5 197.95,59 198.8,60.5 199.66,62 200.52,63.5 201.39,65 202.26,66.5 203.15,68 204.03,69.5 204.92,71 205.82,72.5 206.72,74 207.63,75.5 208.54,77 209.45,78.5 210.38,80 211.3,81.5 212.23,83 213.17,84.5 214.1,86 215.05,87.5 216,89 216.95,90.5 217.9,92 218.86,93.5 219.83,95 220.79,96.5 221.77,98 222.74,99.5 223.72,101 224.7,102.5 225.69,104 226.68,105.5 227.68,107 228.67,108.5 229.68,110 230.68,111.5 231.69,113 232.7,114.5 233.72,116 234.74,117.5 235.76,119 236.78,120.5 237.81,122 238.84,123.5 239.88,125 240.91,126.5 241.96,128" fill="none" stroke="#ffffff" stroke-width="1.3" stroke-dasharray="6.2 7.4" stroke-dashoffset="1.5"/>
<line x1="44.1" y1="11" x2="44.1" y2="129.2" stroke="#777777" stroke-width="0.7"/>
<line x1="44.1" y1="129" x2="240.8" y2="129" stroke="#777777" stroke-width="0.8"/>
<line x1="40.3" y1="11.4" x2="44.1" y2="11.4" stroke="#555555" stroke-width="0.9"/>
<text x="31.07" y="14.8" font-size="10.3" fill="#231f20" textLength="5.73" lengthAdjust="spacingAndGlyphs">0</text>
<line x1="40.3" y1="46.05" x2="44.1" y2="46.05" stroke="#555555" stroke-width="0.9"/>
<text x="31.1" y="49.45" font-size="10.3" fill="#231f20" textLength="5.73" lengthAdjust="spacingAndGlyphs">5</text>
<line x1="40.3" y1="80.7" x2="44.1" y2="80.7" stroke="#555555" stroke-width="0.9"/>
<text x="26.6" y="84.1" font-size="10.3" fill="#231f20" textLength="10.15" lengthAdjust="spacingAndGlyphs">10</text>
<line x1="40.3" y1="115.35" x2="44.1" y2="115.35" stroke="#555555" stroke-width="0.9"/>
<text x="27.14" y="118.75" font-size="10.3" fill="#231f20" textLength="9.62" lengthAdjust="spacingAndGlyphs">15</text>
<line x1="46" y1="126.8" x2="46" y2="129.2" stroke="#888888" stroke-width="0.8"/>
<line x1="78.2" y1="126.8" x2="78.2" y2="129.2" stroke="#888888" stroke-width="0.8"/>
<line x1="110.4" y1="126.8" x2="110.4" y2="129.2" stroke="#888888" stroke-width="0.8"/>
<line x1="142.6" y1="126.8" x2="142.6" y2="129.2" stroke="#888888" stroke-width="0.8"/>
<line x1="174.8" y1="126.8" x2="174.8" y2="129.2" stroke="#888888" stroke-width="0.8"/>
<line x1="207" y1="126.8" x2="207" y2="129.2" stroke="#888888" stroke-width="0.8"/>
<line x1="239.2" y1="126.8" x2="239.2" y2="129.2" stroke="#888888" stroke-width="0.8"/>
<text x="70.53" y="143.2" font-size="10.3" fill="#231f20" textLength="11.74" lengthAdjust="spacingAndGlyphs">−2</text>
<text x="139.54" y="143.2" font-size="10.3" fill="#231f20" textLength="5.73" lengthAdjust="spacingAndGlyphs">0</text>
<text x="203.74" y="143.2" font-size="10.3" fill="#231f20" textLength="5.73" lengthAdjust="spacingAndGlyphs">2</text>
<text x="104.26" y="157.8" font-size="13.0" fill="#231f20" textLength="75.23" lengthAdjust="spacingAndGlyphs">Position (µm)</text>
<text x="0" y="0" font-size="13.0" fill="#231f20" textLength="51.94" lengthAdjust="spacingAndGlyphs" transform="translate(16.5,96.68) rotate(-90)">Time (ps)</text>
<defs><linearGradient id="mg" x1="0" x2="1" y1="0" y2="0">
<stop offset="0" stop-color="#000004"/>
<stop offset="0.1" stop-color="#140e36"/>
<stop offset="0.2" stop-color="#3b0f70"/>
<stop offset="0.3" stop-color="#641a80"/>
<stop offset="0.4" stop-color="#8c2981"/>
<stop offset="0.5" stop-color="#b73779"/>
<stop offset="0.6" stop-color="#de4968"/>
<stop offset="0.7" stop-color="#f7705c"/>
<stop offset="0.8" stop-color="#fe9f6d"/>
<stop offset="0.9" stop-color="#fecf92"/>
<stop offset="1" stop-color="#fcfdbf"/>
</linearGradient></defs>
<rect x="57" y="30.9" width="29" height="5.6" fill="url(#mg)" stroke="#bbbbbb" stroke-width="0.6"/>
<text x="48.53" y="25.8" font-size="10.0" fill="#ffffff" textLength="50.13" lengthAdjust="spacingAndGlyphs">PL (norm.)</text>
<text x="48.04" y="37" font-size="10.3" fill="#ffffff" textLength="5.12" lengthAdjust="spacingAndGlyphs">0</text>
<text x="87.36" y="37" font-size="10.3" fill="#ffffff" textLength="4.64" lengthAdjust="spacingAndGlyphs">1</text>
<text x="220.34" y="28.4" font-size="10.0" fill="#ffffff" textLength="12.33" lengthAdjust="spacingAndGlyphs">2L</text>
<text x="0.71" y="9.3" font-size="18.5" fill="#231f20" font-weight="bold" stroke="#231f20" stroke-width="0.55" textLength="8.4" lengthAdjust="spacingAndGlyphs">a</text>
<defs><clipPath id="cb"><rect x="44.4" y="171.5" width="194.9" height="117.2"/></clipPath></defs>
<g clip-path="url(#cb)" fill="none" stroke-linejoin="round">
<path d="M55.2,300.3 55.5,296.48 55.79,292.72 56.09,289.03 56.38,285.4 56.68,281.82 56.97,278.31 57.27,274.86 57.57,271.47 57.86,268.14 58.16,264.88 58.45,261.67 58.75,258.52 59.04,255.44 59.34,252.42 59.63,249.46 59.93,246.55 60.23,243.71 60.52,240.94 60.82,238.22 61.11,235.56 61.41,232.97 61.7,230.43 62,227.96 62.3,225.55 62.59,223.19 62.89,220.9 63.18,218.67 63.48,216.51 63.77,214.4 64.07,212.35 64.37,210.37 64.66,208.45 64.96,206.58 65.25,204.78 65.55,203.04 65.84,201.36 66.14,199.74 66.43,198.19 66.73,196.69 67.03,195.25 67.32,193.88 67.62,192.57 67.91,191.31 68.21,190.12 68.5,188.99 68.8,187.92 69.1,186.92 69.39,185.97 69.69,185.09 69.98,184.26 70.28,183.5 70.57,182.79 70.87,182.15 71.17,181.57 71.46,181.05 71.76,180.6 72.05,180.2 72.35,179.86 72.64,179.59 72.94,179.37 73.23,179.22 73.53,179.13 73.83,179.1 74.12,179.13 74.42,179.22 74.71,179.37 75.01,179.59 75.3,179.86 75.6,180.2 75.9,180.6 76.19,181.05 76.49,181.57 76.78,182.15 77.08,182.79 77.37,183.5 77.67,184.26 77.97,185.09 78.26,185.97 78.56,186.92 78.85,187.92 79.15,188.99 79.44,190.12 79.74,191.31 80.03,192.57 80.33,193.88 80.63,195.25 80.92,196.69 81.22,198.19 81.51,199.74 81.81,201.36 82.1,203.04 82.4,204.78 82.7,206.58 82.99,208.45 83.29,210.37 83.58,212.35 83.88,214.4 84.17,216.51 84.47,218.67 84.77,220.9 85.06,223.19 85.36,225.55 85.65,227.96 85.95,230.43 86.24,232.97 86.54,235.56 86.83,238.22 87.13,240.94 87.43,243.71 87.72,246.55 88.02,249.46 88.31,252.42 88.61,255.44 88.9,258.52 89.2,261.67 89.5,264.88 89.79,268.14 90.09,271.47 90.38,274.86 90.68,278.31 90.97,281.82 91.27,285.4 91.56,289.03" fill="none" stroke="#555555" stroke-width="0.7" stroke-dasharray="2 1.6"/>
<path d="M41.3,314.34 42.78,314.34 44.26,312.85 45.74,306.05 47.22,299.24 48.7,292.43 50.17,285.2 51.65,277.41 53.13,269.61 54.61,261.81 56.09,254.01 57.57,246.22 59.04,231.79 60.52,213.81 62,200.28 63.48,190.97 64.96,186.04 66.43,183.59 67.91,181.4 69.39,180.49 70.87,179.65 72.35,179.42 73.83,179.19 75.3,180.11 76.78,181.8 78.26,183.48 79.74,185.17 81.22,186.86 82.7,188.56 84.17,190.26 85.65,191.96 87.13,193.66 88.61,195.36 90.09,197.07 91.56,198.78 93.04,200.49 94.52,202.2 96,203.92 97.48,205.64 98.96,207.36 100.43,209.09 101.91,210.81 103.39,212.54 104.87,214.27 106.35,216 107.83,217.74 109.3,219.48 110.78,221.23 112.26,223.06 113.74,225.01 115.22,226.72 116.7,228.25 118.17,229.3 119.65,230.71 121.13,232.75 122.61,235.96 124.09,238.94 125.56,240.02 127.04,239.33 128.52,239.2 130,240.71 131.48,240.61 132.96,241 134.43,243.95 135.91,245.04 137.39,246.34 138.87,246.59 140.35,246.17 141.83,246.84 143.3,247.12 144.78,248.28 146.26,250.83 147.74,252.86 149.22,252.46 150.69,253.53 152.17,252.83 153.65,253.18 155.13,253.06 156.61,255.24 158.09,257.13 159.56,258.81 161.04,259.53 162.52,260.24 164,259.58 165.48,259.24 166.96,260.65 168.43,261.16 169.91,264.43 171.39,266.03 172.87,265.66 174.35,267.43 175.83,266.4 177.3,266.86 178.78,267.24 180.26,267.25 181.74,270.16 183.22,272.06 184.69,274.13 186.17,273.34 187.65,274.33 189.13,272.97 190.61,273.72 192.09,274.55 193.56,277.74 195.04,279.15 196.52,281.7 198,281.21 199.48,281.21 200.96,280.94 202.43,280.27 203.91,281.64 205.39,284.26 206.87,285.17 208.35,287.02 209.83,287.57 211.3,287.89 212.78,287.02 214.26,287.27 215.74,288.46 217.22,290.09 218.69,291.47 220.17,294.11 221.65,293.56 223.13,293.62 224.61,293.27 226.09,294.68 227.56,294.75 229.04,296.02 230.52,297.9 232,300.48 233.48,300.46 234.96,300.39 236.43,301.23 237.91,300.13 239.39,301.42" fill="none" stroke="#a7a9ac" stroke-width="0.8"/>
<path d="M41.3,314.34 41.9,314.34 42.49,314.34 43.08,314.34 43.67,314.34 44.26,312.85 44.85,310.13 45.44,307.41 46.03,304.68 46.63,301.96 47.22,299.24 47.81,296.52 48.4,293.79 48.99,291.07 49.58,288.32 50.17,285.2 50.77,282.08 51.36,278.97 51.95,275.85 52.54,272.73 53.13,269.61 53.72,266.49 54.31,263.37 54.9,260.25 55.5,257.13 56.09,254.01 56.68,250.9 57.27,247.78 57.86,244.66 58.45,238.98 59.04,231.79 59.63,224.6 60.23,217.41 60.82,210.22 61.41,204.65 62,200.28 62.59,195.91 63.18,191.96 63.77,189.98 64.37,188.01 64.96,186.04 65.55,184.98 66.14,184.05 66.73,183.12 67.32,182.19 67.91,181.4 68.5,181.03 69.1,180.67 69.69,180.3 70.28,179.94 70.87,179.65 71.46,179.56 72.05,179.47 72.64,179.38 73.23,179.28 73.83,179.19 74.42,179.1 75.01,179.77 75.6,180.45 76.19,181.12 76.78,181.8 77.37,182.47 77.97,183.14 78.56,183.82 79.15,184.5 79.74,185.17 80.33,185.85 80.92,186.53 81.51,187.2 82.1,187.88 82.7,188.56 83.29,189.24 83.88,189.92 84.47,190.6 85.06,191.28 85.65,191.96 86.24,192.64 86.83,193.32 87.43,194 88.02,194.68 88.61,195.36 89.2,196.05 89.79,196.73 90.38,197.41 90.97,198.09 91.56,198.78 92.16,199.46 92.75,200.15 93.34,200.83 93.93,201.52 94.52,202.2 95.11,202.89 95.7,203.58 96.3,204.26 96.89,204.95 97.48,205.64 98.07,206.33 98.66,207.02 99.25,207.71 99.84,208.4 100.43,209.09 101.03,209.78 101.62,210.47 102.21,211.16 102.8,211.85 103.39,212.54 103.98,213.23 104.57,213.92 105.16,214.62 105.76,215.31 106.35,216 106.94,216.7 107.53,217.39 108.12,218.09 108.71,218.78 109.3,219.48 109.9,220.17 110.49,220.87 111.08,221.57 111.67,222.26 112.26,222.96 112.85,223.66 113.44,224.36 114.03,225.06 114.63,225.76 115.22,226.46 115.81,227.16 116.4,227.86 116.99,228.56 117.58,229.26 118.17,229.96 118.76,230.66 119.36,231.36 119.95,232.06 120.54,232.77 121.13,233.47 121.72,234.17 122.31,234.88 122.9,235.58 123.5,236.29 124.09,236.99 124.68,237.7 125.27,238.41 125.86,239.11 126.45,239.82 127.04,240.53 127.63,241.23 128.23,241.94 128.82,242.65 129.41,243.36 130,244.07 130.59,244.78 131.18,245.49 131.77,246.2 132.36,246.91 132.96,247.62 133.55,248.33 134.14,249.04 134.73,249.75 135.32,250.47 135.91,251.18 136.5,251.89 137.1,252.61 137.69,253.32 138.28,254.04 138.87,254.75 139.46,255.47 140.05,256.18 140.64,256.9 141.23,257.61 141.83,258.33 142.42,259.05 143.01,259.77 143.6,260.48 144.19,261.2 144.78,261.92 145.37,262.64 145.96,263.36 146.56,264.08 147.15,264.8 147.74,265.52 148.33,266.24 148.92,266.96 149.51,267.68 150.1,268.41 150.69,269.13 151.29,269.85 151.88,270.58 152.47,271.3 153.06,272.02 153.65,272.75 154.24,273.47 154.83,274.2 155.43,274.92 156.02,275.65 156.61,276.38 157.2,277.1 157.79,277.83 158.38,278.56 158.97,279.29 159.56,280.02 160.16,280.74 160.75,281.47 161.34,282.2 161.93,282.93 162.52,283.66 163.11,284.39 163.7,285.13 164.29,285.86 164.89,286.59 165.48,287.32 166.07,288.05 166.66,288.79 167.25,289.52 167.84,290.25 168.43,290.99 169.03,291.72 169.62,292.46 170.21,293.19 170.8,293.93 171.39,294.67 171.98,295.4 172.57,296.14 173.16,296.88 173.76,297.61 174.35,298.35" fill="none" stroke="#808285" stroke-width="1.3"/>
<path d="M41.3,314.34 41.9,314.34 42.49,314.34 43.08,312.35 43.67,309.74 44.26,307.13 44.85,304.52 45.44,301.9 46.03,299.29 46.63,296.68 47.22,294.07 47.81,291.46 48.4,288.85 48.99,285.91 49.58,282.92 50.17,279.93 50.77,276.94 51.36,273.95 51.95,270.96 52.54,267.97 53.13,264.98 53.72,261.99 54.31,259 54.9,256.01 55.5,253.02 56.09,250.03 56.68,247.04 57.27,244.05 57.86,237.87 58.45,230.97 59.04,224.08 59.63,217.19 60.23,210.29 60.82,204.88 61.41,200.69 62,196.49 62.59,192.3 63.18,190.41 63.77,188.52 64.37,186.63 64.96,185.3 65.55,184.41 66.14,183.52 66.73,182.62 67.32,181.73 67.91,181.23 68.5,180.88 69.1,180.53 69.69,180.18 70.28,179.83 70.87,179.63 71.46,179.54 72.05,179.45 72.64,179.37 73.23,179.28 73.83,179.19 74.42,179.1 75.01,179.94 75.6,180.79 76.19,181.63 76.78,182.48 77.37,183.32 77.97,184.17 78.56,185.02 79.15,185.87 79.74,186.71 80.33,187.56 80.92,188.41 81.51,189.26 82.1,190.11 82.7,190.96 83.29,191.81 83.88,192.66 84.47,193.52 85.06,194.37 85.65,195.22 86.24,196.08 86.83,196.93 87.43,197.78 88.02,198.64 88.61,199.5 89.2,200.35 89.79,201.21 90.38,202.07 90.97,202.92 91.56,203.78 92.16,204.64 92.75,205.5 95,206.5 98,212 101,217.5 104,222.5 108,229 112,233.5 114.5,236 117.2,237.7 120.5,240.5 124.3,246 127.5,248.5 131.5,254.4 135,255.5 138.7,261.6 142,265 145.9,273.6 149.5,272.5 153,278.4 155.5,276.5 157.8,280.7 159.5,279 161.4,288 163,292" fill="none" stroke="#1e9ad8" stroke-width="0.9"/>
<path d="M41.3,314.34 41.9,314.34 42.49,314.34 43.08,312.35 43.67,309.74 44.26,307.13 44.85,304.52 45.44,301.9 46.03,299.29 46.63,296.68 47.22,294.07 47.81,291.46 48.4,288.85 48.99,285.91 49.58,282.92 50.17,279.93 50.77,276.94 51.36,273.95 51.95,270.96 52.54,267.97 53.13,264.98 53.72,261.99 54.31,259 54.9,256.01 55.5,253.02 56.09,250.03 56.68,247.04 57.27,244.05 57.86,237.87 58.45,230.97 59.04,224.08 59.63,217.19 60.23,210.29 60.82,204.88 61.41,200.69 62,196.49 62.59,192.3 63.18,190.41 63.77,188.52 64.37,186.63 64.96,185.3 65.55,184.41 66.14,183.52 66.73,182.62 67.32,181.73 67.91,181.23 68.5,180.88 69.1,180.53 69.69,180.18 70.28,179.83 70.87,179.63 71.46,179.54 72.05,179.45 72.64,179.37 73.23,179.28 73.83,179.19 74.42,179.1 75.01,179.94 75.6,180.79 76.19,181.63 76.78,182.48 77.37,183.32 77.97,184.17 78.56,185.02 79.15,185.87 79.74,186.71 80.33,187.56 80.92,188.41 81.51,189.26 82.1,190.11 82.7,190.96 83.29,191.81 83.88,192.66 84.47,193.52 85.06,194.37 85.65,195.22 86.24,196.08 86.83,196.93 87.43,197.78 88.02,198.64 88.61,199.5 89.2,200.35 89.79,201.21 90.38,202.07 90.97,202.92 91.56,203.78 92.16,204.64 92.75,205.5 93.34,206.36 93.93,207.22 94.52,208.08 95.11,208.94 95.7,209.8 96.3,210.67 96.89,211.53 97.48,212.39 98.07,213.26 98.66,214.12 99.25,214.99 99.84,215.85 100.43,216.72 101.03,217.59 101.62,218.45 102.21,219.32 102.8,220.19 103.39,221.06 103.98,221.93 104.57,222.8 105.16,223.67 105.76,224.54 106.35,225.41 106.94,226.28 107.53,227.15 108.12,228.02 108.71,228.9 109.3,229.77 109.9,230.65 110.49,231.52 111.08,232.4 111.67,233.27 112.26,234.15 112.85,235.02 113.44,235.9 114.03,236.78 114.63,237.66 115.22,238.54 115.81,239.42 116.4,240.3 116.99,241.18 117.58,242.06 118.17,242.94 118.76,243.82 119.36,244.7 119.95,245.59 120.54,246.47 121.13,247.36 121.72,248.24 122.31,249.12 122.9,250.01 123.5,250.9 124.09,251.78 124.68,252.67 125.27,253.56 125.86,254.45 126.45,255.34 127.04,256.22 127.63,257.11 128.23,258 128.82,258.9 129.41,259.79 130,260.68 130.59,261.57 131.18,262.46 131.77,263.36 132.36,264.25 132.96,265.15 133.55,266.04 134.14,266.94 134.73,267.83 135.32,268.73 135.91,269.62 136.5,270.52 137.1,271.42 137.69,272.32 138.28,273.22 138.87,274.12 139.46,275.02 140.05,275.92 140.64,276.82 141.23,277.72 141.83,278.62 142.42,279.53" fill="none" stroke="#1e9ad8" stroke-width="1.3"/>
<path d="M41.3,314.34 41.9,314.34 42.49,314.34 43.08,314.34 43.67,314.34 44.26,314.34 44.85,314.34 45.44,311.53 46.03,308.73 46.63,305.92 47.22,303.11 47.81,300.3 48.4,297.5 48.99,294.69 49.58,291.88 50.17,289.08 50.77,285.94 51.36,282.73 51.95,279.51 52.54,276.3 53.13,273.08 53.72,269.87 54.31,266.65 54.9,263.44 55.5,260.22 56.09,257 56.68,253.79 57.27,250.57 57.86,247.36 58.45,244.14 59.04,237.57 59.63,230.16 60.23,222.74 60.82,215.33 61.41,207.92 62,203.12 62.59,198.61 63.18,194.11 63.77,191.08 64.37,189.05 64.96,187.02 65.55,185.41 66.14,184.46 66.73,183.5 67.32,182.54 67.91,181.58 68.5,181.14 69.1,180.77 69.69,180.39 70.28,180.02 70.87,179.67 71.46,179.58 72.05,179.48 72.64,179.39 73.23,179.29 73.83,179.2 74.42,179.1 75.01,179.18 75.6,179.19 76.19,179.18 76.78,179.16 77.37,179.14 77.97,179.13 78.56,179.14 79.15,179.2 79.74,179.3 80.33,179.47 80.92,179.71 81.51,180.01 82.1,180.39 82.7,180.83 83.29,181.34 83.88,181.91 84.47,182.51 85.06,183.14 85.65,183.76 86.24,184.37 86.83,184.97 87.43,185.55 88.02,186.13 88.61,186.71 89.2,187.26 89.79,187.76 90.38,188.21 90.97,188.59 91.56,188.87 92.16,189.04 92.75,189.13 93.34,189.14 93.93,189.1 94.52,189.03 95.11,188.94 95.7,188.86 96.3,188.78 96.89,188.72 97.48,188.68 98.07,188.68 98.66,188.73 99.25,188.82 99.84,188.96 100.43,189.16 101.03,189.41 101.62,189.73 102.21,190.1 102.8,190.54 103.39,191.04 103.98,191.6 104.57,192.22 105.16,192.86 105.76,193.51 106.35,194.11 106.94,194.65 107.53,195.09 108.12,195.39 108.71,195.55 109.3,195.58 109.9,195.52 110.49,195.4 111.08,195.26 111.67,195.13 112.26,195.02 112.85,194.95 113.44,194.93 114.03,194.94 114.63,195.01 115.22,195.14 115.81,195.32 116.4,195.56 116.99,195.86 117.58,196.2 118.17,196.59 118.76,197.03 119.36,197.5 119.95,198.01 120.54,198.55 121.13,199.1 121.72,199.67 122.31,200.23 122.9,200.77 123.5,201.27 124.09,201.71 124.68,202.06 125.27,202.29 125.86,202.4 126.45,202.39 127.04,202.28 127.63,202.13 128.23,201.96 128.82,201.81 129.41,201.71 130,201.68 130.59,201.71 131.18,201.79 131.77,201.93 132.36,202.13 132.96,202.38 133.55,202.68 134.14,203.01 134.73,203.39 135.32,203.79 135.91,204.21 136.5,204.65 137.1,205.1 137.69,205.54 138.28,205.96 138.87,206.36 139.46,206.72 140.05,207.02 140.64,207.25 141.23,207.4 141.83,207.47 142.42,207.47 143.01,207.43 143.6,207.38 144.19,207.32 144.78,207.28 145.37,207.28 145.96,207.33 146.56,207.43 147.15,207.58 147.74,207.78 148.33,208.04 148.92,208.35 149.51,208.72 150.1,209.15 150.69,209.6 151.29,210.09 151.88,210.58 152.47,211.08 153.06,211.57 153.65,212.04 154.24,212.48 154.83,212.88 155.43,213.23 156.02,213.52 156.61,213.74 157.2,213.89 157.79,213.96 158.38,213.97 158.97,213.94 159.56,213.88 160.16,213.83 160.75,213.78 161.34,213.77 161.93,213.8 162.52,213.88 163.11,213.99 163.7,214.16 164.29,214.38 164.89,214.64 165.48,214.96 166.07,215.32 166.66,215.73 167.25,216.16 167.84,216.61 168.43,217.07 169.03,217.54 169.62,218.01 170.21,218.46 170.8,218.89 171.39,219.29 171.98,219.65 172.57,219.96 173.16,220.21 173.76,220.41 174.35,220.55 174.94,220.65 175.53,220.72 176.12,220.75 176.71,220.77 177.3,220.78 177.89,220.78 178.49,220.8 179.08,220.85 179.67,220.95 180.26,221.1 180.85,221.33 181.44,221.64 182.03,222.03 182.63,222.49 183.22,222.98 183.81,223.49 184.4,224.01 184.99,224.52 185.58,224.99 186.17,225.43 186.76,225.82 187.36,226.18 187.95,226.5 188.54,226.77 189.13,226.99 189.72,227.17 190.31,227.29 190.9,227.37 191.49,227.4 192.09,227.39 192.68,227.33 193.27,227.22 193.86,227.07 194.45,226.91 195.04,226.74 195.63,226.59 196.23,226.47 196.82,226.41 197.41,226.41 198,226.47 198.59,226.6 199.18,226.79 199.77,227.02 200.36,227.29 200.96,227.6 201.55,227.94 202.14,228.32 202.73,228.74 203.32,229.19 203.91,229.67 204.5,230.18 205.09,230.72 205.69,231.26 206.28,231.81 206.87,232.34 207.46,232.85 208.05,233.32 208.64,233.71 209.23,234 209.83,234.16 210.42,234.17 211.01,234.06 211.6,233.84 212.19,233.58 212.78,233.29 213.37,233.02 213.96,232.81 214.56,232.7 215.15,232.67 215.74,232.72 216.33,232.83 216.92,233.01 217.51,233.22 218.1,233.48 218.69,233.76 219.29,234.1 219.88,234.53 220.47,235.06 221.06,235.72 221.65,236.52 222.24,237.37 222.83,238.2 223.42,238.89 224.02,239.38 224.61,239.59 225.2,239.58 225.79,239.44 226.38,239.25 226.97,239.09 227.56,239.03 228.16,239.09 228.75,239.23 229.34,239.46 229.93,239.76 230.52,240.12 231.11,240.51 231.7,240.9 232.29,241.27 232.89,241.58 233.48,241.81 234.07,241.94 234.66,241.94 235.25,241.86 235.84,241.76 236.43,241.67 237.02,241.65 237.62,241.75 238.21,242.02 238.8,242.5 239.39,243.26 239.98,244.33 240.57,244.6 241.16,244.84 241.76,245.08 242.35,245.32 242.94,245.56 243.53,245.8 244.12,246.04 244.71,246.28 245.3,246.52" fill="none" stroke="#231f20" stroke-width="0.9"/>
<path d="M41.3,314.34 42.49,314.34 43.67,314.34 44.85,314.34 46.03,308.73 47.22,303.11 48.4,297.5 49.58,291.88 50.77,285.94 51.95,279.51 53.13,273.08 54.31,266.65 55.5,260.22 56.68,253.79 57.86,247.36 59.04,237.57 60.23,222.74 61.41,207.92 62.59,198.61 63.77,191.08 64.96,187.02 66.14,184.46 67.32,182.54 68.5,181.14 69.69,180.39 70.87,179.67 72.05,179.48 73.23,179.29 74.42,179.1 75.6,179.58 76.78,180.06 77.97,180.54 79.15,181.02 80.33,181.5 81.51,181.98 82.7,182.46 83.88,182.94 85.06,183.42 86.24,183.9 87.43,184.38 88.61,184.87 89.79,185.35 90.97,185.83 92.16,186.31 93.34,186.79 94.52,187.27 95.7,187.75 96.89,188.23 98.07,188.71 99.25,189.19 100.43,189.67 101.62,190.15 102.8,190.63 103.98,191.11 105.16,191.59 106.35,192.07 107.53,192.55 108.71,193.03 109.9,193.51 111.08,193.99 112.26,194.47 113.44,194.95 114.63,195.43 115.81,195.91 116.99,196.4 118.17,196.88 119.36,197.36 120.54,197.84 121.72,198.32 122.9,198.8 124.09,199.28 125.27,199.76 126.45,200.24 127.63,200.72 128.82,201.2 130,201.68 131.18,202.16 132.36,202.64 133.55,203.12 134.73,203.6 135.91,204.08 137.1,204.56 138.28,205.04 139.46,205.52 140.64,206 141.83,206.48 143.01,206.96 144.19,207.45 145.37,207.93 146.56,208.41 147.74,208.89 148.92,209.37 150.1,209.85 151.29,210.33 152.47,210.81 153.65,211.29 154.83,211.77 156.02,212.25 157.2,212.73 158.38,213.21 159.56,213.69 160.75,214.17 161.93,214.65 163.11,215.13 164.29,215.61 165.48,216.09 166.66,216.57 167.84,217.05 169.03,217.53 170.21,218.01 171.39,218.49 172.57,218.98 173.76,219.46 174.94,219.94 176.12,220.42 177.3,220.9 178.49,221.38 179.67,221.86 180.85,222.34 182.03,222.82 183.22,223.3 184.4,223.78 185.58,224.26 186.76,224.74 187.95,225.22 189.13,225.7 190.31,226.18 191.49,226.66 192.68,227.14 193.86,227.62 195.04,228.1 196.23,228.58 197.41,229.06 198.59,229.54 199.77,230.02 200.96,230.51 202.14,230.99 203.32,231.47 204.5,231.95 205.69,232.43 206.87,232.91 208.05,233.39 209.23,233.87 210.42,234.35 211.6,234.83 212.78,235.31 213.96,235.79 215.15,236.27 216.33,236.75 217.51,237.23 218.69,237.71 219.88,238.19 221.06,238.67 222.24,239.15 223.42,239.63 224.61,240.11 225.79,240.59 226.97,241.07 228.16,241.56 229.34,242.04 230.52,242.52 231.7,243 232.89,243.48 234.07,243.96 235.25,244.44 236.43,244.92 237.62,245.4 238.8,245.88 239.98,246.36 241.16,246.84 242.35,247.32 243.53,247.8 244.71,248.28" fill="none" stroke="#231f20" stroke-width="1.3"/>
</g>
<rect x="44.4" y="171.5" width="194.9" height="117.2" fill="none" stroke="#6d6e71" stroke-width="1"/>
<line x1="44.4" y1="179.1" x2="47.4" y2="179.1" stroke="#6d6e71" stroke-width="0.8"/>
<line x1="44.4" y1="224.11" x2="46" y2="224.11" stroke="#6d6e71" stroke-width="0.6"/>
<line x1="44.4" y1="212.77" x2="46" y2="212.77" stroke="#6d6e71" stroke-width="0.6"/>
<line x1="44.4" y1="204.73" x2="46" y2="204.73" stroke="#6d6e71" stroke-width="0.6"/>
<line x1="44.4" y1="198.49" x2="46" y2="198.49" stroke="#6d6e71" stroke-width="0.6"/>
<line x1="44.4" y1="193.39" x2="46" y2="193.39" stroke="#6d6e71" stroke-width="0.6"/>
<line x1="44.4" y1="189.08" x2="46" y2="189.08" stroke="#6d6e71" stroke-width="0.6"/>
<line x1="44.4" y1="185.34" x2="46" y2="185.34" stroke="#6d6e71" stroke-width="0.6"/>
<line x1="44.4" y1="182.05" x2="46" y2="182.05" stroke="#6d6e71" stroke-width="0.6"/>
<line x1="44.4" y1="243.5" x2="47.4" y2="243.5" stroke="#6d6e71" stroke-width="0.8"/>
<line x1="44.4" y1="277.17" x2="46" y2="277.17" stroke="#6d6e71" stroke-width="0.6"/>
<line x1="44.4" y1="269.13" x2="46" y2="269.13" stroke="#6d6e71" stroke-width="0.6"/>
<line x1="44.4" y1="262.89" x2="46" y2="262.89" stroke="#6d6e71" stroke-width="0.6"/>
<line x1="44.4" y1="257.79" x2="46" y2="257.79" stroke="#6d6e71" stroke-width="0.6"/>
<line x1="44.4" y1="253.48" x2="46" y2="253.48" stroke="#6d6e71" stroke-width="0.6"/>
<line x1="44.4" y1="249.74" x2="46" y2="249.74" stroke="#6d6e71" stroke-width="0.6"/>
<line x1="44.4" y1="246.45" x2="46" y2="246.45" stroke="#6d6e71" stroke-width="0.6"/>
<line x1="62" y1="285.7" x2="62" y2="288.7" stroke="#6d6e71" stroke-width="0.8"/>
<text x="59.14" y="301" font-size="10.3" fill="#231f20" textLength="5.73" lengthAdjust="spacingAndGlyphs">0</text>
<line x1="150.69" y1="285.7" x2="150.69" y2="288.7" stroke="#6d6e71" stroke-width="0.8"/>
<text x="145.74" y="301" font-size="10.3" fill="#231f20" textLength="9.62" lengthAdjust="spacingAndGlyphs">15</text>
<line x1="239.39" y1="285.7" x2="239.39" y2="288.7" stroke="#6d6e71" stroke-width="0.8"/>
<text x="233.67" y="301" font-size="10.3" fill="#231f20" textLength="11.46" lengthAdjust="spacingAndGlyphs">30</text>
<text x="23.2" y="182.5" font-size="10.3" fill="#231f20" textLength="10.15" lengthAdjust="spacingAndGlyphs">10</text>
<text x="35.28" y="176.8" font-size="6.6" fill="#231f20" textLength="3.14" lengthAdjust="spacingAndGlyphs">0</text>
<text x="22.6" y="247.3" font-size="10.3" fill="#231f20" textLength="10.15" lengthAdjust="spacingAndGlyphs">10</text>
<text x="32.79" y="241.8" font-size="6.6" fill="#231f20" textLength="4.92" lengthAdjust="spacingAndGlyphs">−1</text>
<text x="116.52" y="320" font-size="13.0" fill="#231f20" textLength="52.14" lengthAdjust="spacingAndGlyphs">Time (ps)</text>
<text x="0" y="0" font-size="13.0" fill="#231f20" textLength="92.28" lengthAdjust="spacingAndGlyphs" transform="translate(10.7,276.37) rotate(-90)">PL (normalized)</text>
<text x="192.44" y="222.7" font-size="10.0" fill="#231f20" textLength="16.59" lengthAdjust="spacingAndGlyphs">10L</text>
<text x="186.51" y="270.9" font-size="10.0" fill="#231f20" textLength="11.43" lengthAdjust="spacingAndGlyphs">3L</text>
<text x="109.5" y="284.5" font-size="10.0" fill="#1e9ad8" textLength="11.03" lengthAdjust="spacingAndGlyphs">2L</text>
<text x="-0.87" y="169.6" font-size="18.5" fill="#231f20" font-weight="bold" stroke="#231f20" stroke-width="0.55" textLength="11.76" lengthAdjust="spacingAndGlyphs">b</text>
<rect x="303.6" y="11.6" width="195.9" height="276.8" fill="none" stroke="#6d6e71" stroke-width="1"/>
<line x1="303.6" y1="276.4" x2="306.2" y2="276.4" stroke="#6d6e71" stroke-width="0.8"/>
<text x="291.57" y="280.1" font-size="10.3" fill="#231f20" textLength="5.73" lengthAdjust="spacingAndGlyphs">0</text>
<line x1="303.6" y1="155.95" x2="306.2" y2="155.95" stroke="#6d6e71" stroke-width="0.8"/>
<text x="283.01" y="159.65" font-size="10.3" fill="#231f20" textLength="14.32" lengthAdjust="spacingAndGlyphs">0.5</text>
<line x1="303.6" y1="35.5" x2="306.2" y2="35.5" stroke="#6d6e71" stroke-width="0.8"/>
<text x="282.98" y="39.2" font-size="10.3" fill="#231f20" textLength="14.32" lengthAdjust="spacingAndGlyphs">1.0</text>
<text x="300.74" y="302.6" font-size="10.3" fill="#231f20" textLength="5.73" lengthAdjust="spacingAndGlyphs">0</text>
<line x1="368.95" y1="285.8" x2="368.95" y2="288.4" stroke="#6d6e71" stroke-width="0.8"/>
<text x="366.1" y="302.6" font-size="10.3" fill="#231f20" textLength="5.73" lengthAdjust="spacingAndGlyphs">5</text>
<line x1="434.3" y1="285.8" x2="434.3" y2="288.4" stroke="#6d6e71" stroke-width="0.8"/>
<text x="429.05" y="302.6" font-size="10.3" fill="#231f20" textLength="10.15" lengthAdjust="spacingAndGlyphs">10</text>
<text x="494.69" y="302.6" font-size="10.3" fill="#231f20" textLength="9.62" lengthAdjust="spacingAndGlyphs">15</text>
<text x="383.62" y="318.4" font-size="13.0" fill="#231f20" textLength="52.04" lengthAdjust="spacingAndGlyphs">Time (ps)</text>
<text x="0" y="0" font-size="13.0" fill="#231f20" textLength="65.5" lengthAdjust="spacingAndGlyphs" transform="translate(270.4,184.6) rotate(-90)">Δ<tspan font-style="italic">σ</tspan><tspan font-size="7.6" dy="-4.6">2</tspan><tspan dy="4.6">(t) (µm</tspan><tspan font-size="7.6" dy="-4.6">2</tspan><tspan dy="4.6">)</tspan></text>
<text x="258.59" y="9.6" font-size="18.5" fill="#231f20" font-weight="bold" stroke="#231f20" stroke-width="0.55" textLength="10.15" lengthAdjust="spacingAndGlyphs">c</text>
<path d="M309.74,275.79 311.58,275.55 313.41,275.23 315.24,274.82 317.08,274.35 318.91,273.79 320.74,273.16 322.57,272.46 324.41,271.69 326.24,270.84 328.07,269.92 329.91,268.93 331.74,267.87 333.57,266.75 335.41,265.55 337.24,264.29 339.07,262.96 340.91,261.57 342.74,260.11 344.57,258.59 346.41,257.01 348.24,255.36 350.07,253.66 351.9,251.9 353.74,250.07 355.57,248.19 357.4,246.25 359.24,244.26 361.07,242.21 362.9,240.11 364.74,237.95 366.57,235.74 368.4,233.48 370.24,231.17 372.07,228.81 373.9,226.4 375.73,223.94 377.57,221.43 379.4,218.88 381.23,216.28 383.07,213.64 384.9,210.96 386.73,208.23 388.57,205.46 390.4,202.65 392.23,199.8 394.07,196.91 395.9,193.98 397.73,191.01 399.57,188.01 401.4,184.97 403.23,181.9 405.06,178.79 406.9,175.66 408.73,172.49 410.56,169.28 412.4,166.05 414.23,162.79 416.06,159.5 417.9,156.18 419.73,152.84 421.56,149.47 423.4,146.08 425.23,142.66 427.06,139.22 428.89,135.75 430.73,132.27 432.56,128.76 434.39,125.24 436.23,121.7 438.06,118.14 439.89,114.56 441.73,110.97 443.56,107.36 445.39,103.74 447.23,100.1 449.06,96.45 450.89,92.79 452.73,89.12 454.56,85.44" fill="none" stroke="#1e9ad8" stroke-width="1.4"/>
<path d="M309.74,276.4 311.58,276.4 313.41,275.89 315.24,275.31 317.08,274.7 318.91,274.06 320.74,273.4 322.57,272.7 324.41,271.97 326.24,271.21 328.07,270.43 329.91,269.62 331.74,268.78 333.57,267.91 335.41,267.02 337.24,266.1 339.07,265.15 340.91,264.18 342.74,263.18 344.57,262.16 346.41,261.11 348.24,260.04 350.07,258.95 351.9,257.83 353.74,256.68 355.57,255.52 357.4,254.33 359.24,253.12 361.07,251.89 362.9,250.63 364.74,249.36 366.57,248.06 368.4,246.74 370.24,245.41 372.07,244.05 373.9,242.67 375.73,241.28 377.57,239.86 379.4,238.43 381.23,236.98 383.07,235.51 384.9,234.02 386.73,232.51 388.57,230.99 390.4,229.45 392.23,227.9 394.07,226.33 395.9,224.74 397.73,223.14 399.57,221.53 401.4,219.9 403.23,218.25 405.06,216.59 406.9,214.92 408.73,213.24 410.56,211.54 412.4,209.83 414.23,208.11 416.06,206.38 417.9,204.63 419.73,202.87 421.56,201.11 423.4,199.33 425.23,197.54 427.06,195.75 428.89,193.94 430.73,192.12 432.56,190.3 434.39,188.47 436.23,186.63 438.06,184.78 439.89,182.92 441.73,181.06 443.56,179.19 445.39,177.32 447.23,175.43 449.06,173.55 450.89,171.66 452.73,169.76 454.56,167.86" fill="none" stroke="#1e9ad8" stroke-width="1.4" stroke-dasharray="5 3.2"/>
<line x1="309.48" y1="276.4" x2="454.56" y2="265.56" stroke="#231f20" stroke-width="1.2"/>
<circle cx="323.21" cy="274.9" r="3.2" fill="#d4d4d4" stroke="#4d4d4d" stroke-width="0.7"/>
<circle cx="336.28" cy="274" r="3.2" fill="#d4d4d4" stroke="#4d4d4d" stroke-width="0.7"/>
<circle cx="349.35" cy="275.4" r="3.2" fill="#d4d4d4" stroke="#4d4d4d" stroke-width="0.7"/>
<circle cx="362.42" cy="269.8" r="3.2" fill="#d4d4d4" stroke="#4d4d4d" stroke-width="0.7"/>
<circle cx="375.49" cy="270.7" r="3.2" fill="#d4d4d4" stroke="#4d4d4d" stroke-width="0.7"/>
<circle cx="388.56" cy="274.9" r="3.2" fill="#d4d4d4" stroke="#4d4d4d" stroke-width="0.7"/>
<circle cx="401.62" cy="270.7" r="3.2" fill="#d4d4d4" stroke="#4d4d4d" stroke-width="0.7"/>
<circle cx="414.7" cy="268.1" r="3.2" fill="#d4d4d4" stroke="#4d4d4d" stroke-width="0.7"/>
<circle cx="427.77" cy="268.3" r="3.2" fill="#d4d4d4" stroke="#4d4d4d" stroke-width="0.7"/>
<circle cx="440.84" cy="262.5" r="3.2" fill="#d4d4d4" stroke="#4d4d4d" stroke-width="0.7"/>
<circle cx="453.91" cy="268" r="3.2" fill="#d4d4d4" stroke="#4d4d4d" stroke-width="0.7"/>
<circle cx="466.98" cy="273.4" r="3.2" fill="#d4d4d4" stroke="#4d4d4d" stroke-width="0.7"/>
<circle cx="480.05" cy="271.6" r="3.2" fill="#d4d4d4" stroke="#4d4d4d" stroke-width="0.7"/>
<circle cx="493.12" cy="265.5" r="3.2" fill="#d4d4d4" stroke="#4d4d4d" stroke-width="0.7"/>
<circle cx="323.21" cy="276" r="3.35" fill="#fff" stroke="#36b4d8" stroke-width="0.9"/>
<line x1="319.86" y1="276" x2="326.56" y2="276" stroke="#36b4d8" stroke-width="0.9"/>
<circle cx="336.28" cy="271" r="3.35" fill="#fff" stroke="#36b4d8" stroke-width="0.9"/>
<line x1="332.93" y1="271" x2="339.63" y2="271" stroke="#36b4d8" stroke-width="0.9"/>
<circle cx="349.35" cy="266.2" r="3.35" fill="#fff" stroke="#36b4d8" stroke-width="0.9"/>
<line x1="346" y1="266.2" x2="352.7" y2="266.2" stroke="#36b4d8" stroke-width="0.9"/>
<circle cx="362.42" cy="257" r="3.35" fill="#fff" stroke="#36b4d8" stroke-width="0.9"/>
<line x1="359.06" y1="257" x2="365.77" y2="257" stroke="#36b4d8" stroke-width="0.9"/>
<circle cx="375.49" cy="234.6" r="3.35" fill="#fff" stroke="#36b4d8" stroke-width="0.9"/>
<line x1="372.13" y1="234.6" x2="378.84" y2="234.6" stroke="#36b4d8" stroke-width="0.9"/>
<circle cx="388.56" cy="226.9" r="3.35" fill="#fff" stroke="#36b4d8" stroke-width="0.9"/>
<line x1="385.2" y1="226.9" x2="391.91" y2="226.9" stroke="#36b4d8" stroke-width="0.9"/>
<circle cx="401.62" cy="207.6" r="3.35" fill="#fff" stroke="#36b4d8" stroke-width="0.9"/>
<line x1="398.27" y1="207.6" x2="404.98" y2="207.6" stroke="#36b4d8" stroke-width="0.9"/>
<circle cx="414.7" cy="206" r="3.35" fill="#fff" stroke="#36b4d8" stroke-width="0.9"/>
<line x1="411.35" y1="206" x2="418.05" y2="206" stroke="#36b4d8" stroke-width="0.9"/>
<circle cx="427.77" cy="209.2" r="3.35" fill="#fff" stroke="#36b4d8" stroke-width="0.9"/>
<line x1="424.42" y1="209.2" x2="431.12" y2="209.2" stroke="#36b4d8" stroke-width="0.9"/>
<circle cx="440.84" cy="190.6" r="3.35" fill="#fff" stroke="#36b4d8" stroke-width="0.9"/>
<line x1="437.49" y1="190.6" x2="444.19" y2="190.6" stroke="#36b4d8" stroke-width="0.9"/>
<circle cx="453.91" cy="163.5" r="3.35" fill="#fff" stroke="#36b4d8" stroke-width="0.9"/>
<line x1="450.56" y1="163.5" x2="457.26" y2="163.5" stroke="#36b4d8" stroke-width="0.9"/>
<circle cx="466.98" cy="76" r="3.35" fill="#fff" stroke="#36b4d8" stroke-width="0.9"/>
<line x1="463.62" y1="76" x2="470.33" y2="76" stroke="#36b4d8" stroke-width="0.9"/>
<circle cx="480.05" cy="35.7" r="3.35" fill="#fff" stroke="#36b4d8" stroke-width="0.9"/>
<line x1="476.69" y1="35.7" x2="483.4" y2="35.7" stroke="#36b4d8" stroke-width="0.9"/>
<circle cx="493.12" cy="93.6" r="3.35" fill="#fff" stroke="#36b4d8" stroke-width="0.9"/>
<line x1="489.76" y1="93.6" x2="496.47" y2="93.6" stroke="#36b4d8" stroke-width="0.9"/>
<circle cx="310.14" cy="276" r="3.3" fill="#1f8fd6" stroke="#1b3550" stroke-width="0.8"/>
<circle cx="323.21" cy="273.2" r="3.3" fill="#1f8fd6" stroke="#1b3550" stroke-width="0.8"/>
<circle cx="336.28" cy="263.7" r="3.3" fill="#1f8fd6" stroke="#1b3550" stroke-width="0.8"/>
<circle cx="349.35" cy="245.5" r="3.3" fill="#1f8fd6" stroke="#1b3550" stroke-width="0.8"/>
<circle cx="362.42" cy="232.4" r="3.3" fill="#1f8fd6" stroke="#1b3550" stroke-width="0.8"/>
<circle cx="375.49" cy="219.8" r="3.3" fill="#1f8fd6" stroke="#1b3550" stroke-width="0.8"/>
<circle cx="388.56" cy="196.8" r="3.3" fill="#1f8fd6" stroke="#1b3550" stroke-width="0.8"/>
<circle cx="401.62" cy="182.2" r="3.3" fill="#1f8fd6" stroke="#1b3550" stroke-width="0.8"/>
<circle cx="414.7" cy="161.7" r="3.3" fill="#1f8fd6" stroke="#1b3550" stroke-width="0.8"/>
<circle cx="427.77" cy="181.2" r="3.3" fill="#1f8fd6" stroke="#1b3550" stroke-width="0.8"/>
<circle cx="440.84" cy="127.2" r="3.3" fill="#1f8fd6" stroke="#1b3550" stroke-width="0.8"/>
<circle cx="453.91" cy="56.6" r="3.3" fill="#1f8fd6" stroke="#1b3550" stroke-width="0.8"/>
<circle cx="466.98" cy="45.4" r="3.3" fill="#1f8fd6" stroke="#1b3550" stroke-width="0.8"/>
<circle cx="480.05" cy="98.4" r="3.3" fill="#1f8fd6" stroke="#1b3550" stroke-width="0.8"/>
<circle cx="493.12" cy="79" r="3.3" fill="#1f8fd6" stroke="#1b3550" stroke-width="0.8"/>
<path d="M386.06,205.47 385.03,205.33 384.02,205.2 383.03,205.08 382.08,204.99 381.16,204.91 380.28,204.86 379.43,204.82 378.62,204.8 377.86,204.8 377.14,204.82 376.47,204.86 375.84,204.91 375.27,204.99 374.74,205.08 374.27,205.2 373.86,205.33 373.5,205.48 373.19,205.64 372.94,205.82 372.75,206.02 372.62,206.24 372.55,206.46 372.54,206.71 372.58,206.97 372.69,207.24 372.85,207.52 373.07,207.81 373.35,208.12 373.68,208.44 374.07,208.76 374.52,209.09 375.02,209.43 375.57,209.78 376.17,210.13 376.82,210.49 377.52,210.85 378.26,211.21 379.05,211.58 379.88,211.94 380.75,212.31 381.65,212.67 382.59,213.03 383.56,213.39 384.56,213.74 385.58,214.09 386.63,214.43 387.7,214.77 388.78,215.09 389.88,215.41 391,215.72 392.12,216.02 393.25,216.3 394.38,216.58 395.51,216.84 396.63,217.08 397.75,217.32 398.86,217.53 399.96,217.74 401.04,217.92 402.1,218.09 403.14,218.24 404.16,218.38 405.15,218.49 406.11,218.59 407.04,218.67 407.93,218.73 408.78,218.77 409.6,218.8 410.37,218.8 411.1,218.79 411.79,218.75 412.42,218.7 413.01,218.63 413.54,218.54 414.03,218.43 414.46,218.3 414.83,218.16 415.15,218 415.41,217.82 415.61,217.62 415.75,217.41 415.84,217.19 415.87,216.95 415.83,216.69 415.74,216.43 415.59,216.14 415.39,215.85 415.12,215.55 414.8,215.24 414.42,214.91" fill="none" stroke="#1e9ad8" stroke-width="1.0"/>
<text x="452.12" y="113.9" font-size="10.0" fill="#1e9ad8" textLength="13.65" lengthAdjust="spacingAndGlyphs">FM</text>
<text x="461.38" y="180.1" font-size="10.0" fill="#1e9ad8" textLength="20.93" lengthAdjust="spacingAndGlyphs">AFM</text>
<text x="357.51" y="201.2" font-size="10.0" fill="#1e9ad8" textLength="10.92" lengthAdjust="spacingAndGlyphs">2L</text>
<text x="462.33" y="258.1" font-size="10.0" fill="#231f20" textLength="10.79" lengthAdjust="spacingAndGlyphs">3L</text>
<defs><linearGradient id="sg" x1="0" x2="1" y1="0" y2="0"><stop offset="0" stop-color="#000"/><stop offset="0.55" stop-color="#1a1a1a"/><stop offset="1" stop-color="#666" stop-opacity="0.15"/></linearGradient></defs>
<rect x="315.3" y="42.1" width="107" height="16.4" fill="#d9d9d9"/>
<rect x="315.3" y="64.2" width="107" height="16.4" fill="#d9d9d9"/>
<text x="334.6" y="32" font-size="10.1" fill="#231f20" textLength="70.42" lengthAdjust="spacingAndGlyphs">Superdiffusion</text>
<rect x="321.3" y="44.05" width="23" height="0.5" fill="url(#sg)"/>
<rect x="321.3" y="45.45" width="20" height="0.5" fill="url(#sg)"/>
<rect x="321.3" y="46.85" width="17" height="0.5" fill="url(#sg)"/>
<rect x="321.3" y="49.05" width="15.5" height="0.5" fill="url(#sg)"/>
<rect x="321.3" y="50.85" width="20.5" height="0.5" fill="url(#sg)"/>
<rect x="321.3" y="52.75" width="23" height="0.5" fill="url(#sg)"/>
<rect x="321.3" y="54.65" width="21.5" height="0.5" fill="url(#sg)"/>
<rect x="321.3" y="56.05" width="17" height="0.5" fill="url(#sg)"/>
<circle cx="328.5" cy="52.7" r="4.6" fill="#1e9be6" stroke="#0d3050" stroke-width="0.55"/>
<rect x="326" y="52.05" width="5" height="1.3" fill="#d8ecfa"/>
<circle cx="321.3" cy="47.7" r="4.35" fill="#e8060f" stroke="#5a0000" stroke-width="0.55"/>
<rect x="318.8" y="47.2" width="5" height="1" fill="#fff"/>
<rect x="320.8" y="45.2" width="1" height="5" fill="#fff"/>
<rect x="350.6" y="44.05" width="23" height="0.5" fill="url(#sg)"/>
<rect x="350.6" y="45.45" width="20" height="0.5" fill="url(#sg)"/>
<rect x="350.6" y="46.85" width="17" height="0.5" fill="url(#sg)"/>
<rect x="350.6" y="49.05" width="15.5" height="0.5" fill="url(#sg)"/>
<rect x="350.6" y="50.85" width="20.5" height="0.5" fill="url(#sg)"/>
<rect x="350.6" y="52.75" width="23" height="0.5" fill="url(#sg)"/>
<rect x="350.6" y="54.65" width="21.5" height="0.5" fill="url(#sg)"/>
<rect x="350.6" y="56.05" width="17" height="0.5" fill="url(#sg)"/>
<circle cx="357.8" cy="52.7" r="4.6" fill="#1e9be6" stroke="#0d3050" stroke-width="0.55"/>
<rect x="355.3" y="52.05" width="5" height="1.3" fill="#d8ecfa"/>
<circle cx="350.6" cy="47.7" r="4.35" fill="#e8060f" stroke="#5a0000" stroke-width="0.55"/>
<rect x="348.1" y="47.2" width="5" height="1" fill="#fff"/>
<rect x="350.1" y="45.2" width="1" height="5" fill="#fff"/>
<rect x="381.7" y="44.05" width="23" height="0.5" fill="url(#sg)"/>
<rect x="381.7" y="45.45" width="20" height="0.5" fill="url(#sg)"/>
<rect x="381.7" y="46.85" width="17" height="0.5" fill="url(#sg)"/>
<rect x="381.7" y="49.05" width="15.5" height="0.5" fill="url(#sg)"/>
<rect x="381.7" y="50.85" width="20.5" height="0.5" fill="url(#sg)"/>
<rect x="381.7" y="52.75" width="23" height="0.5" fill="url(#sg)"/>
<rect x="381.7" y="54.65" width="21.5" height="0.5" fill="url(#sg)"/>
<rect x="381.7" y="56.05" width="17" height="0.5" fill="url(#sg)"/>
<circle cx="388.9" cy="52.7" r="4.6" fill="#1e9be6" stroke="#0d3050" stroke-width="0.55"/>
<rect x="386.4" y="52.05" width="5" height="1.3" fill="#d8ecfa"/>
<circle cx="381.7" cy="47.7" r="4.35" fill="#e8060f" stroke="#5a0000" stroke-width="0.55"/>
<rect x="379.2" y="47.2" width="5" height="1" fill="#fff"/>
<rect x="381.2" y="45.2" width="1" height="5" fill="#fff"/>
<rect x="409" y="44.05" width="13.3" height="0.5" fill="url(#sg)"/>
<rect x="409" y="45.45" width="13.3" height="0.5" fill="url(#sg)"/>
<rect x="409" y="46.85" width="13.3" height="0.5" fill="url(#sg)"/>
<rect x="409" y="49.05" width="13.3" height="0.5" fill="url(#sg)"/>
<rect x="409" y="50.85" width="13.3" height="0.5" fill="url(#sg)"/>
<rect x="409" y="52.75" width="13.3" height="0.5" fill="url(#sg)"/>
<rect x="409" y="54.65" width="13.3" height="0.5" fill="url(#sg)"/>
<rect x="409" y="56.05" width="13.3" height="0.5" fill="url(#sg)"/>
<circle cx="416.2" cy="52.7" r="4.6" fill="#1e9be6" stroke="#0d3050" stroke-width="0.55"/>
<rect x="413.7" y="52.05" width="5" height="1.3" fill="#d8ecfa"/>
<circle cx="409" cy="47.7" r="4.35" fill="#e8060f" stroke="#5a0000" stroke-width="0.55"/>
<rect x="406.5" y="47.2" width="5" height="1" fill="#fff"/>
<rect x="408.5" y="45.2" width="1" height="5" fill="#fff"/>
<rect x="321.3" y="66.65" width="23" height="0.5" fill="url(#sg)"/>
<rect x="321.3" y="68.05" width="20" height="0.5" fill="url(#sg)"/>
<rect x="321.3" y="69.45" width="17" height="0.5" fill="url(#sg)"/>
<rect x="321.3" y="71.65" width="15.5" height="0.5" fill="url(#sg)"/>
<rect x="321.3" y="73.45" width="20.5" height="0.5" fill="url(#sg)"/>
<rect x="321.3" y="75.35" width="23" height="0.5" fill="url(#sg)"/>
<rect x="321.3" y="77.25" width="21.5" height="0.5" fill="url(#sg)"/>
<rect x="321.3" y="78.65" width="17" height="0.5" fill="url(#sg)"/>
<circle cx="328.5" cy="75.3" r="4.6" fill="#1e9be6" stroke="#0d3050" stroke-width="0.55"/>
<rect x="326" y="74.65" width="5" height="1.3" fill="#d8ecfa"/>
<circle cx="321.3" cy="70.3" r="4.35" fill="#e8060f" stroke="#5a0000" stroke-width="0.55"/>
<rect x="318.8" y="69.8" width="5" height="1" fill="#fff"/>
<rect x="320.8" y="67.8" width="1" height="5" fill="#fff"/>
<rect x="350.6" y="66.65" width="23" height="0.5" fill="url(#sg)"/>
<rect x="350.6" y="68.05" width="20" height="0.5" fill="url(#sg)"/>
<rect x="350.6" y="69.45" width="17" height="0.5" fill="url(#sg)"/>
<rect x="350.6" y="71.65" width="15.5" height="0.5" fill="url(#sg)"/>
<rect x="350.6" y="73.45" width="20.5" height="0.5" fill="url(#sg)"/>
<rect x="350.6" y="75.35" width="23" height="0.5" fill="url(#sg)"/>
<rect x="350.6" y="77.25" width="21.5" height="0.5" fill="url(#sg)"/>
<rect x="350.6" y="78.65" width="17" height="0.5" fill="url(#sg)"/>
<circle cx="357.8" cy="75.3" r="4.6" fill="#1e9be6" stroke="#0d3050" stroke-width="0.55"/>
<rect x="355.3" y="74.65" width="5" height="1.3" fill="#d8ecfa"/>
<circle cx="350.6" cy="70.3" r="4.35" fill="#e8060f" stroke="#5a0000" stroke-width="0.55"/>
<rect x="348.1" y="69.8" width="5" height="1" fill="#fff"/>
<rect x="350.1" y="67.8" width="1" height="5" fill="#fff"/>
<rect x="381.7" y="66.65" width="23" height="0.5" fill="url(#sg)"/>
<rect x="381.7" y="68.05" width="20" height="0.5" fill="url(#sg)"/>
<rect x="381.7" y="69.45" width="17" height="0.5" fill="url(#sg)"/>
<rect x="381.7" y="71.65" width="15.5" height="0.5" fill="url(#sg)"/>
<rect x="381.7" y="73.45" width="20.5" height="0.5" fill="url(#sg)"/>
<rect x="381.7" y="75.35" width="23" height="0.5" fill="url(#sg)"/>
<rect x="381.7" y="77.25" width="21.5" height="0.5" fill="url(#sg)"/>
<rect x="381.7" y="78.65" width="17" height="0.5" fill="url(#sg)"/>
<circle cx="388.9" cy="75.3" r="4.6" fill="#1e9be6" stroke="#0d3050" stroke-width="0.55"/>
<rect x="386.4" y="74.65" width="5" height="1.3" fill="#d8ecfa"/>
<circle cx="381.7" cy="70.3" r="4.35" fill="#e8060f" stroke="#5a0000" stroke-width="0.55"/>
<rect x="379.2" y="69.8" width="5" height="1" fill="#fff"/>
<rect x="381.2" y="67.8" width="1" height="5" fill="#fff"/>
<rect x="409" y="66.65" width="13.3" height="0.5" fill="url(#sg)"/>
<rect x="409" y="68.05" width="13.3" height="0.5" fill="url(#sg)"/>
<rect x="409" y="69.45" width="13.3" height="0.5" fill="url(#sg)"/>
<rect x="409" y="71.65" width="13.3" height="0.5" fill="url(#sg)"/>
<rect x="409" y="73.45" width="13.3" height="0.5" fill="url(#sg)"/>
<rect x="409" y="75.35" width="13.3" height="0.5" fill="url(#sg)"/>
<rect x="409" y="77.25" width="13.3" height="0.5" fill="url(#sg)"/>
<rect x="409" y="78.65" width="13.3" height="0.5" fill="url(#sg)"/>
<circle cx="416.2" cy="75.3" r="4.6" fill="#1e9be6" stroke="#0d3050" stroke-width="0.55"/>
<rect x="413.7" y="74.65" width="5" height="1.3" fill="#d8ecfa"/>
<circle cx="409" cy="70.3" r="4.35" fill="#e8060f" stroke="#5a0000" stroke-width="0.55"/>
<rect x="406.5" y="69.8" width="5" height="1" fill="#fff"/>
<rect x="408.5" y="67.8" width="1" height="5" fill="#fff"/>
<path d="M371.2,52.3 C370,58 362,61.2 352.5,61.3 M371.2,52.3 C372.5,58 380,61.2 390,61.3" fill="none" stroke="#111" stroke-width="1.25"/>
<path d="M349.3,61.3 L354.8,58.8 L353.6,61.3 L354.8,63.8 Z" fill="#111"/>
<path d="M393.4,61.3 L387.9,58.8 L389.1,61.3 L387.9,63.8 Z" fill="#111"/>
<defs><linearGradient id="rg" x1="0" x2="0" y1="0" y2="1"><stop offset="0" stop-color="#ffa3a8"/><stop offset="1" stop-color="#ffffff"/></linearGradient><clipPath id="cd"><rect x="563.3" y="11.4" width="118" height="116.9"/></clipPath></defs>
<g clip-path="url(#cd)">
<path d="M562.3,123.18 562.63,123.18 562.97,123.18 563.3,123.18 563.64,123.18 563.97,123.18 564.31,123.17 564.64,123.17 564.97,123.17 565.31,123.16 565.64,123.16 565.98,123.15 566.31,123.15 566.65,123.14 566.98,123.13 567.31,123.12 567.65,123.11 567.98,123.11 568.32,123.1 568.65,123.09 568.99,123.08 569.32,123.07 569.65,123.05 569.99,123.04 570.32,123.03 570.66,123.02 570.99,123 571.33,122.99 571.66,122.98 571.99,122.96 572.33,122.95 572.66,122.93 573,122.92 573.33,122.9 573.66,122.88 574,122.87 574.33,122.85 574.67,122.83 575,122.82 575.34,122.8 575.67,122.78 576,122.76 576.34,122.74 576.67,122.71 577.01,122.69 577.34,122.65 577.68,122.62 578.01,122.58 578.34,122.53 578.68,122.48 579.01,122.43 579.35,122.38 579.68,122.32 580.02,122.26 580.35,122.2 580.68,122.13 581.02,122.07 581.35,122 581.69,121.92 582.02,121.85 582.36,121.77 582.69,121.69 583.02,121.61 583.36,121.52 583.69,121.44 584.03,121.35 584.36,121.26 584.7,121.17 585.03,121.08 585.36,120.99 585.7,120.89 586.03,120.8 586.37,120.7 586.7,120.6 587.04,120.51 587.37,120.41 587.7,120.31 588.04,120.21 588.37,120.11 588.71,120.02 589.04,119.92 589.38,119.82 589.71,119.71 590.04,119.61 590.38,119.5 590.71,119.39 591.05,119.28 591.38,119.17 591.72,119.05 592.05,118.93 592.38,118.8 592.72,118.67 593.05,118.54 593.39,118.4 593.72,118.26 594.05,118.12 594.39,117.97 594.72,117.81 595.06,117.65 595.39,117.49 595.73,117.32 596.06,117.14 596.39,116.96 596.73,116.77 597.06,116.58 597.4,116.38 597.73,116.17 598.07,115.95 598.4,115.7 598.73,115.42 599.07,115.13 599.4,114.83 599.74,114.5 600.07,114.16 600.41,113.81 600.74,113.45 601.07,113.09 601.41,112.71 601.74,112.33 602.08,111.95 602.41,111.56 602.75,111.18 603.08,110.79 603.41,110.4 603.75,109.99 604.08,109.57 604.42,109.14 604.75,108.7 605.09,108.25 605.42,107.8 605.75,107.33 606.09,106.85 606.42,106.36 606.76,105.86 607.09,105.35 607.43,104.84 607.76,104.31 608.09,103.77 608.43,103.21 608.76,102.64 609.1,102.05 609.43,101.44 609.77,100.82 610.1,100.17 610.43,99.5 610.77,98.81 611.1,98.09 611.44,97.35 611.77,96.58 612.11,95.77 612.44,94.93 612.77,94.04 613.11,93.1 613.44,92.11 613.78,91.05 614.11,89.92 614.44,88.72 614.78,87.46 615.11,86.12 615.45,84.72 615.78,83.25 616.12,81.72 616.45,80.1 616.78,78.36 617.12,76.5 617.45,74.53 617.79,72.47 618.12,70.32 618.46,68.11 618.79,65.83 619.12,63.46 619.46,60.94 619.79,58.27 620.13,55.5 620.46,52.66 620.8,49.77 621.13,46.87 621.46,43.99 621.8,41.14 622.13,38.03 622.47,34.74 622.8,31.47 623.14,28.43 623.47,25.85 623.8,23.93 624.14,22.39 624.47,20.93 624.81,19.63 625.14,18.58 625.48,17.89 625.81,17.65 626.14,18.7 626.48,21.18 626.81,24.31 627.15,27.38 627.48,30.77 627.82,34.76 628.15,39.54 628.48,45.89 628.82,55.31 629.15,64.11 629.49,70.11 629.82,75.18 630.16,79.57 630.49,83.48 630.82,86.89 631.16,90.02 631.49,93.07 631.83,95.99 632.16,98.81 632.49,101.71 632.83,104.66 633.16,107.28 633.5,109.66 633.83,111.81 634.17,113.5 634.5,114.79 634.83,116 635.17,117.11 635.5,118.12 635.84,119 636.17,119.74 636.51,120.32 636.84,120.72 637.17,120.98 637.51,121.23 637.84,121.45 638.18,121.65 638.51,121.82 638.85,121.98 639.18,122.12 639.51,122.24 639.85,122.35 640.18,122.43 640.52,122.5 640.85,122.56 641.19,122.61 641.52,122.65 641.85,122.69 642.19,122.73 642.52,122.77 642.86,122.8 643.19,122.83 643.53,122.86 643.86,122.89 644.19,122.91 644.53,122.93 644.86,122.94 645.2,122.96 645.53,122.97 645.87,122.97 646.2,122.98 646.53,122.98 646.87,122.98 647.2,122.99 647.54,122.99 647.87,123 648.21,123 648.54,123.01 648.87,123.01 649.21,123.01 649.54,123.02 649.88,123.02 650.21,123.03 650.55,123.03 650.88,123.03 651.21,123.04 651.55,123.04 651.88,123.04 652.22,123.05 652.55,123.05 652.88,123.05 653.22,123.06 653.55,123.06 653.89,123.06 654.22,123.07 654.56,123.07 654.89,123.07 655.22,123.08 655.56,123.08 655.89,123.08 656.23,123.08 656.56,123.09 656.9,123.09 657.23,123.09 657.56,123.1 657.9,123.1 658.23,123.1 658.57,123.1 658.9,123.11 659.24,123.11 659.57,123.11 659.9,123.11 660.24,123.11 660.57,123.12 660.91,123.12 661.24,123.12 661.58,123.12 661.91,123.13 662.24,123.13 662.58,123.13 662.91,123.13 663.25,123.13 663.58,123.13 663.92,123.14 664.25,123.14 664.58,123.14 664.92,123.14 665.25,123.14 665.59,123.14 665.92,123.15 666.26,123.15 666.59,123.15 666.92,123.15 667.26,123.15 667.59,123.15 667.93,123.15 668.26,123.16 668.6,123.16 668.93,123.16 669.26,123.16 669.6,123.16 669.93,123.16 670.27,123.16 670.6,123.16 670.94,123.16 671.27,123.17 671.6,123.17 671.94,123.17 672.27,123.17 672.61,123.17 672.94,123.17 673.27,123.17 673.61,123.17 673.94,123.17 674.28,123.17 674.61,123.17 674.95,123.17 675.28,123.17 675.61,123.18 675.95,123.18 676.28,123.18 676.62,123.18 676.95,123.18 677.29,123.18 677.62,123.18 677.95,123.18 678.29,123.18 678.62,123.18 678.96,123.18 679.29,123.18 679.63,123.18 679.96,123.18 680.29,123.18 680.63,123.18 680.96,123.18 681.3,123.18 681.63,123.18 681.97,123.18 682.3,123.18 L681.3,123.6 L563.3,123.6 Z" fill="#c4e4f6"/>
<path d="M562.3,123.18 562.63,123.18 562.97,123.18 563.3,123.18 563.64,123.18 563.97,123.18 564.31,123.17 564.64,123.17 564.97,123.17 565.31,123.17 565.64,123.16 565.98,123.16 566.31,123.15 566.65,123.15 566.98,123.14 567.31,123.14 567.65,123.13 567.98,123.12 568.32,123.12 568.65,123.11 568.99,123.1 569.32,123.09 569.65,123.08 569.99,123.07 570.32,123.07 570.66,123.06 570.99,123.05 571.33,123.03 571.66,123.02 571.99,123.01 572.33,123 572.66,122.99 573,122.98 573.33,122.97 573.66,122.95 574,122.94 574.33,122.93 574.67,122.91 575,122.9 575.34,122.88 575.67,122.87 576,122.85 576.34,122.84 576.67,122.82 577.01,122.81 577.34,122.79 577.68,122.78 578.01,122.76 578.34,122.74 578.68,122.72 579.01,122.69 579.35,122.66 579.68,122.63 580.02,122.59 580.35,122.55 580.68,122.5 581.02,122.45 581.35,122.4 581.69,122.35 582.02,122.29 582.36,122.23 582.69,122.17 583.02,122.1 583.36,122.03 583.69,121.96 584.03,121.89 584.36,121.81 584.7,121.73 585.03,121.65 585.36,121.57 585.7,121.48 586.03,121.4 586.37,121.31 586.7,121.22 587.04,121.13 587.37,121.03 587.7,120.94 588.04,120.84 588.37,120.75 588.71,120.65 589.04,120.55 589.38,120.45 589.71,120.35 590.04,120.25 590.38,120.15 590.71,120.05 591.05,119.94 591.38,119.84 591.72,119.73 592.05,119.62 592.38,119.5 592.72,119.37 593.05,119.25 593.39,119.11 593.72,118.97 594.05,118.83 594.39,118.68 594.72,118.53 595.06,118.37 595.39,118.21 595.73,118.05 596.06,117.88 596.39,117.7 596.73,117.52 597.06,117.34 597.4,117.15 597.73,116.96 598.07,116.76 598.4,116.56 598.73,116.36 599.07,116.15 599.4,115.92 599.74,115.68 600.07,115.43 600.41,115.16 600.74,114.88 601.07,114.59 601.41,114.3 601.74,113.99 602.08,113.68 602.41,113.36 602.75,113.05 603.08,112.72 603.41,112.4 603.75,112.08 604.08,111.76 604.42,111.45 604.75,111.13 605.09,110.82 605.42,110.51 605.75,110.19 606.09,109.87 606.42,109.54 606.76,109.21 607.09,108.87 607.43,108.52 607.76,108.15 608.09,107.78 608.43,107.39 608.76,106.98 609.1,106.56 609.43,106.12 609.77,105.65 610.1,105.16 610.43,104.64 610.77,104.1 611.1,103.53 611.44,102.94 611.77,102.31 612.11,101.66 612.44,100.98 612.77,100.27 613.11,99.52 613.44,98.66 613.78,97.71 614.11,96.71 614.44,95.67 614.78,94.63 615.11,93.62 615.45,92.65 615.78,91.75 616.12,90.89 616.45,90.06 616.78,89.24 617.12,88.45 617.45,87.66 617.79,86.87 618.12,86.08 618.46,85.29 618.79,84.47 619.12,83.64 619.46,82.79 619.79,81.9 620.13,80.96 620.46,79.91 620.8,78.78 621.13,77.63 621.46,76.54 621.8,75.56 622.13,74.75 622.47,73.99 622.8,73.26 623.14,72.67 623.47,72.34 623.8,72.38 624.14,72.77 624.47,73.4 624.81,74.15 625.14,74.91 625.48,75.78 625.81,76.82 626.14,77.98 626.48,79.25 626.81,80.57 627.15,81.93 627.48,83.36 627.82,84.88 628.15,86.5 628.48,88.22 628.82,90.03 629.15,91.95 629.49,94.14 629.82,96.64 630.16,99.07 630.49,101.11 630.82,102.94 631.16,104.62 631.49,106.19 631.83,107.68 632.16,109.11 632.49,110.46 632.83,111.73 633.16,112.89 633.5,114 633.83,115.14 634.17,116.28 634.5,117.38 634.83,118.39 635.17,119.27 635.5,120 635.84,120.52 636.17,120.81 636.51,121.01 636.84,121.2 637.17,121.37 637.51,121.52 637.84,121.66 638.18,121.79 638.51,121.91 638.85,122.02 639.18,122.12 639.51,122.2 639.85,122.28 640.18,122.35 640.52,122.41 640.85,122.46 641.19,122.5 641.52,122.54 641.85,122.58 642.19,122.61 642.52,122.64 642.86,122.67 643.19,122.7 643.53,122.73 643.86,122.76 644.19,122.78 644.53,122.8 644.86,122.83 645.2,122.85 645.53,122.86 645.87,122.88 646.2,122.9 646.53,122.91 646.87,122.93 647.2,122.94 647.54,122.95 647.87,122.96 648.21,122.96 648.54,122.97 648.87,122.97 649.21,122.98 649.54,122.98 649.88,122.99 650.21,122.99 650.55,123 650.88,123 651.21,123 651.55,123.01 651.88,123.01 652.22,123.02 652.55,123.02 652.88,123.02 653.22,123.03 653.55,123.03 653.89,123.04 654.22,123.04 654.56,123.04 654.89,123.05 655.22,123.05 655.56,123.05 655.89,123.06 656.23,123.06 656.56,123.06 656.9,123.07 657.23,123.07 657.56,123.07 657.9,123.08 658.23,123.08 658.57,123.08 658.9,123.08 659.24,123.09 659.57,123.09 659.9,123.09 660.24,123.1 660.57,123.1 660.91,123.1 661.24,123.1 661.58,123.11 661.91,123.11 662.24,123.11 662.58,123.11 662.91,123.12 663.25,123.12 663.58,123.12 663.92,123.12 664.25,123.13 664.58,123.13 664.92,123.13 665.25,123.13 665.59,123.13 665.92,123.14 666.26,123.14 666.59,123.14 666.92,123.14 667.26,123.14 667.59,123.14 667.93,123.15 668.26,123.15 668.6,123.15 668.93,123.15 669.26,123.15 669.6,123.15 669.93,123.16 670.27,123.16 670.6,123.16 670.94,123.16 671.27,123.16 671.6,123.16 671.94,123.16 672.27,123.16 672.61,123.16 672.94,123.17 673.27,123.17 673.61,123.17 673.94,123.17 674.28,123.17 674.61,123.17 674.95,123.17 675.28,123.17 675.61,123.17 675.95,123.17 676.28,123.17 676.62,123.18 676.95,123.18 677.29,123.18 677.62,123.18 677.95,123.18 678.29,123.18 678.62,123.18 678.96,123.18 679.29,123.18 679.63,123.18 679.96,123.18 680.29,123.18 680.63,123.18 680.96,123.18 681.3,123.18 681.63,123.18 681.97,123.18 682.3,123.18 L681.3,123.6 L563.3,123.6 Z" fill="url(#rg)"/>
<path d="M562.3,123.18 562.63,123.18 562.97,123.18 563.3,123.18 563.64,123.18 563.97,123.18 564.31,123.17 564.64,123.17 564.97,123.17 565.31,123.16 565.64,123.16 565.98,123.15 566.31,123.15 566.65,123.14 566.98,123.13 567.31,123.12 567.65,123.11 567.98,123.11 568.32,123.1 568.65,123.09 568.99,123.08 569.32,123.07 569.65,123.05 569.99,123.04 570.32,123.03 570.66,123.02 570.99,123 571.33,122.99 571.66,122.98 571.99,122.96 572.33,122.95 572.66,122.93 573,122.92 573.33,122.9 573.66,122.88 574,122.87 574.33,122.85 574.67,122.83 575,122.82 575.34,122.8 575.67,122.78 576,122.76 576.34,122.74 576.67,122.71 577.01,122.69 577.34,122.65 577.68,122.62 578.01,122.58 578.34,122.53 578.68,122.48 579.01,122.43 579.35,122.38 579.68,122.32 580.02,122.26 580.35,122.2 580.68,122.13 581.02,122.07 581.35,122 581.69,121.92 582.02,121.85 582.36,121.77 582.69,121.69 583.02,121.61 583.36,121.52 583.69,121.44 584.03,121.35 584.36,121.26 584.7,121.17 585.03,121.08 585.36,120.99 585.7,120.89 586.03,120.8 586.37,120.7 586.7,120.6 587.04,120.51 587.37,120.41 587.7,120.31 588.04,120.21 588.37,120.11 588.71,120.02 589.04,119.92 589.38,119.82 589.71,119.71 590.04,119.61 590.38,119.5 590.71,119.39 591.05,119.28 591.38,119.17 591.72,119.05 592.05,118.93 592.38,118.8 592.72,118.67 593.05,118.54 593.39,118.4 593.72,118.26 594.05,118.12 594.39,117.97 594.72,117.81 595.06,117.65 595.39,117.49 595.73,117.32 596.06,117.14 596.39,116.96 596.73,116.77 597.06,116.58 597.4,116.38 597.73,116.17 598.07,115.95 598.4,115.7 598.73,115.42 599.07,115.13 599.4,114.83 599.74,114.5 600.07,114.16 600.41,113.81 600.74,113.45 601.07,113.09 601.41,112.71 601.74,112.33 602.08,111.95 602.41,111.56 602.75,111.18 603.08,110.79 603.41,110.4 603.75,109.99 604.08,109.57 604.42,109.14 604.75,108.7 605.09,108.25 605.42,107.8 605.75,107.33 606.09,106.85 606.42,106.36 606.76,105.86 607.09,105.35 607.43,104.84 607.76,104.31 608.09,103.77 608.43,103.21 608.76,102.64 609.1,102.05 609.43,101.44 609.77,100.82 610.1,100.17 610.43,99.5 610.77,98.81 611.1,98.09 611.44,97.35 611.77,96.58 612.11,95.77 612.44,94.93 612.77,94.04 613.11,93.1 613.44,92.11 613.78,91.05 614.11,89.92 614.44,88.72 614.78,87.46 615.11,86.12 615.45,84.72 615.78,83.25 616.12,81.72 616.45,80.1 616.78,78.36 617.12,76.5 617.45,74.53 617.79,72.47 618.12,70.32 618.46,68.11 618.79,65.83 619.12,63.46 619.46,60.94 619.79,58.27 620.13,55.5 620.46,52.66 620.8,49.77 621.13,46.87 621.46,43.99 621.8,41.14 622.13,38.03 622.47,34.74 622.8,31.47 623.14,28.43 623.47,25.85 623.8,23.93 624.14,22.39 624.47,20.93 624.81,19.63 625.14,18.58 625.48,17.89 625.81,17.65 626.14,18.7 626.48,21.18 626.81,24.31 627.15,27.38 627.48,30.77 627.82,34.76 628.15,39.54 628.48,45.89 628.82,55.31 629.15,64.11 629.49,70.11 629.82,75.18 630.16,79.57 630.49,83.48 630.82,86.89 631.16,90.02 631.49,93.07 631.83,95.99 632.16,98.81 632.49,101.71 632.83,104.66 633.16,107.28 633.5,109.66 633.83,111.81 634.17,113.5 634.5,114.79 634.83,116 635.17,117.11 635.5,118.12 635.84,119 636.17,119.74 636.51,120.32 636.84,120.72 637.17,120.98 637.51,121.23 637.84,121.45 638.18,121.65 638.51,121.82 638.85,121.98 639.18,122.12 639.51,122.24 639.85,122.35 640.18,122.43 640.52,122.5 640.85,122.56 641.19,122.61 641.52,122.65 641.85,122.69 642.19,122.73 642.52,122.77 642.86,122.8 643.19,122.83 643.53,122.86 643.86,122.89 644.19,122.91 644.53,122.93 644.86,122.94 645.2,122.96 645.53,122.97 645.87,122.97 646.2,122.98 646.53,122.98 646.87,122.98 647.2,122.99 647.54,122.99 647.87,123 648.21,123 648.54,123.01 648.87,123.01 649.21,123.01 649.54,123.02 649.88,123.02 650.21,123.03 650.55,123.03 650.88,123.03 651.21,123.04 651.55,123.04 651.88,123.04 652.22,123.05 652.55,123.05 652.88,123.05 653.22,123.06 653.55,123.06 653.89,123.06 654.22,123.07 654.56,123.07 654.89,123.07 655.22,123.08 655.56,123.08 655.89,123.08 656.23,123.08 656.56,123.09 656.9,123.09 657.23,123.09 657.56,123.1 657.9,123.1 658.23,123.1 658.57,123.1 658.9,123.11 659.24,123.11 659.57,123.11 659.9,123.11 660.24,123.11 660.57,123.12 660.91,123.12 661.24,123.12 661.58,123.12 661.91,123.13 662.24,123.13 662.58,123.13 662.91,123.13 663.25,123.13 663.58,123.13 663.92,123.14 664.25,123.14 664.58,123.14 664.92,123.14 665.25,123.14 665.59,123.14 665.92,123.15 666.26,123.15 666.59,123.15 666.92,123.15 667.26,123.15 667.59,123.15 667.93,123.15 668.26,123.16 668.6,123.16 668.93,123.16 669.26,123.16 669.6,123.16 669.93,123.16 670.27,123.16 670.6,123.16 670.94,123.16 671.27,123.17 671.6,123.17 671.94,123.17 672.27,123.17 672.61,123.17 672.94,123.17 673.27,123.17 673.61,123.17 673.94,123.17 674.28,123.17 674.61,123.17 674.95,123.17 675.28,123.17 675.61,123.18 675.95,123.18 676.28,123.18 676.62,123.18 676.95,123.18 677.29,123.18 677.62,123.18 677.95,123.18 678.29,123.18 678.62,123.18 678.96,123.18 679.29,123.18 679.63,123.18 679.96,123.18 680.29,123.18 680.63,123.18 680.96,123.18 681.3,123.18 681.63,123.18 681.97,123.18 682.3,123.18" fill="none" stroke="#1e9ad8" stroke-width="1.3"/>
<path d="M562.3,123.18 562.63,123.18 562.97,123.18 563.3,123.18 563.64,123.18 563.97,123.18 564.31,123.17 564.64,123.17 564.97,123.17 565.31,123.17 565.64,123.16 565.98,123.16 566.31,123.15 566.65,123.15 566.98,123.14 567.31,123.14 567.65,123.13 567.98,123.12 568.32,123.12 568.65,123.11 568.99,123.1 569.32,123.09 569.65,123.08 569.99,123.07 570.32,123.07 570.66,123.06 570.99,123.05 571.33,123.03 571.66,123.02 571.99,123.01 572.33,123 572.66,122.99 573,122.98 573.33,122.97 573.66,122.95 574,122.94 574.33,122.93 574.67,122.91 575,122.9 575.34,122.88 575.67,122.87 576,122.85 576.34,122.84 576.67,122.82 577.01,122.81 577.34,122.79 577.68,122.78 578.01,122.76 578.34,122.74 578.68,122.72 579.01,122.69 579.35,122.66 579.68,122.63 580.02,122.59 580.35,122.55 580.68,122.5 581.02,122.45 581.35,122.4 581.69,122.35 582.02,122.29 582.36,122.23 582.69,122.17 583.02,122.1 583.36,122.03 583.69,121.96 584.03,121.89 584.36,121.81 584.7,121.73 585.03,121.65 585.36,121.57 585.7,121.48 586.03,121.4 586.37,121.31 586.7,121.22 587.04,121.13 587.37,121.03 587.7,120.94 588.04,120.84 588.37,120.75 588.71,120.65 589.04,120.55 589.38,120.45 589.71,120.35 590.04,120.25 590.38,120.15 590.71,120.05 591.05,119.94 591.38,119.84 591.72,119.73 592.05,119.62 592.38,119.5 592.72,119.37 593.05,119.25 593.39,119.11 593.72,118.97 594.05,118.83 594.39,118.68 594.72,118.53 595.06,118.37 595.39,118.21 595.73,118.05 596.06,117.88 596.39,117.7 596.73,117.52 597.06,117.34 597.4,117.15 597.73,116.96 598.07,116.76 598.4,116.56 598.73,116.36 599.07,116.15 599.4,115.92 599.74,115.68 600.07,115.43 600.41,115.16 600.74,114.88 601.07,114.59 601.41,114.3 601.74,113.99 602.08,113.68 602.41,113.36 602.75,113.05 603.08,112.72 603.41,112.4 603.75,112.08 604.08,111.76 604.42,111.45 604.75,111.13 605.09,110.82 605.42,110.51 605.75,110.19 606.09,109.87 606.42,109.54 606.76,109.21 607.09,108.87 607.43,108.52 607.76,108.15 608.09,107.78 608.43,107.39 608.76,106.98 609.1,106.56 609.43,106.12 609.77,105.65 610.1,105.16 610.43,104.64 610.77,104.1 611.1,103.53 611.44,102.94 611.77,102.31 612.11,101.66 612.44,100.98 612.77,100.27 613.11,99.52 613.44,98.66 613.78,97.71 614.11,96.71 614.44,95.67 614.78,94.63 615.11,93.62 615.45,92.65 615.78,91.75 616.12,90.89 616.45,90.06 616.78,89.24 617.12,88.45 617.45,87.66 617.79,86.87 618.12,86.08 618.46,85.29 618.79,84.47 619.12,83.64 619.46,82.79 619.79,81.9 620.13,80.96 620.46,79.91 620.8,78.78 621.13,77.63 621.46,76.54 621.8,75.56 622.13,74.75 622.47,73.99 622.8,73.26 623.14,72.67 623.47,72.34 623.8,72.38 624.14,72.77 624.47,73.4 624.81,74.15 625.14,74.91 625.48,75.78 625.81,76.82 626.14,77.98 626.48,79.25 626.81,80.57 627.15,81.93 627.48,83.36 627.82,84.88 628.15,86.5 628.48,88.22 628.82,90.03 629.15,91.95 629.49,94.14 629.82,96.64 630.16,99.07 630.49,101.11 630.82,102.94 631.16,104.62 631.49,106.19 631.83,107.68 632.16,109.11 632.49,110.46 632.83,111.73 633.16,112.89 633.5,114 633.83,115.14 634.17,116.28 634.5,117.38 634.83,118.39 635.17,119.27 635.5,120 635.84,120.52 636.17,120.81 636.51,121.01 636.84,121.2 637.17,121.37 637.51,121.52 637.84,121.66 638.18,121.79 638.51,121.91 638.85,122.02 639.18,122.12 639.51,122.2 639.85,122.28 640.18,122.35 640.52,122.41 640.85,122.46 641.19,122.5 641.52,122.54 641.85,122.58 642.19,122.61 642.52,122.64 642.86,122.67 643.19,122.7 643.53,122.73 643.86,122.76 644.19,122.78 644.53,122.8 644.86,122.83 645.2,122.85 645.53,122.86 645.87,122.88 646.2,122.9 646.53,122.91 646.87,122.93 647.2,122.94 647.54,122.95 647.87,122.96 648.21,122.96 648.54,122.97 648.87,122.97 649.21,122.98 649.54,122.98 649.88,122.99 650.21,122.99 650.55,123 650.88,123 651.21,123 651.55,123.01 651.88,123.01 652.22,123.02 652.55,123.02 652.88,123.02 653.22,123.03 653.55,123.03 653.89,123.04 654.22,123.04 654.56,123.04 654.89,123.05 655.22,123.05 655.56,123.05 655.89,123.06 656.23,123.06 656.56,123.06 656.9,123.07 657.23,123.07 657.56,123.07 657.9,123.08 658.23,123.08 658.57,123.08 658.9,123.08 659.24,123.09 659.57,123.09 659.9,123.09 660.24,123.1 660.57,123.1 660.91,123.1 661.24,123.1 661.58,123.11 661.91,123.11 662.24,123.11 662.58,123.11 662.91,123.12 663.25,123.12 663.58,123.12 663.92,123.12 664.25,123.13 664.58,123.13 664.92,123.13 665.25,123.13 665.59,123.13 665.92,123.14 666.26,123.14 666.59,123.14 666.92,123.14 667.26,123.14 667.59,123.14 667.93,123.15 668.26,123.15 668.6,123.15 668.93,123.15 669.26,123.15 669.6,123.15 669.93,123.16 670.27,123.16 670.6,123.16 670.94,123.16 671.27,123.16 671.6,123.16 671.94,123.16 672.27,123.16 672.61,123.16 672.94,123.17 673.27,123.17 673.61,123.17 673.94,123.17 674.28,123.17 674.61,123.17 674.95,123.17 675.28,123.17 675.61,123.17 675.95,123.17 676.28,123.17 676.62,123.18 676.95,123.18 677.29,123.18 677.62,123.18 677.95,123.18 678.29,123.18 678.62,123.18 678.96,123.18 679.29,123.18 679.63,123.18 679.96,123.18 680.29,123.18 680.63,123.18 680.96,123.18 681.3,123.18 681.63,123.18 681.97,123.18 682.3,123.18" fill="none" stroke="#e8141c" stroke-width="1.4"/>
</g>
<rect x="563.3" y="11.4" width="118" height="116.9" fill="none" stroke="#6d6e71" stroke-width="1"/>
<line x1="563.3" y1="18.7" x2="565.9" y2="18.7" stroke="#6d6e71" stroke-width="0.8"/>
<line x1="563.3" y1="123.6" x2="565.9" y2="123.6" stroke="#6d6e71" stroke-width="0.8"/>
<text x="551.97" y="22" font-size="10.3" fill="#231f20" textLength="5.73" lengthAdjust="spacingAndGlyphs">1</text>
<text x="551.27" y="127.1" font-size="10.3" fill="#231f20" textLength="5.73" lengthAdjust="spacingAndGlyphs">0</text>
<line x1="605.2" y1="125.7" x2="605.2" y2="128.3" stroke="#6d6e71" stroke-width="0.8"/>
<text x="597.87" y="143" font-size="10.3" fill="#231f20" textLength="14.32" lengthAdjust="spacingAndGlyphs">1.3</text>
<line x1="666.5" y1="125.7" x2="666.5" y2="128.3" stroke="#6d6e71" stroke-width="0.8"/>
<text x="659.1" y="143" font-size="10.3" fill="#231f20" textLength="14.32" lengthAdjust="spacingAndGlyphs">1.4</text>
<text x="589.07" y="157.1" font-size="13.0" fill="#231f20" textLength="66.7" lengthAdjust="spacingAndGlyphs">Energy (eV)</text>
<text x="0" y="0" font-size="12.5" fill="#231f20" textLength="87.38" lengthAdjust="spacingAndGlyphs" transform="translate(541.6,114.22) rotate(-90)">PL (normalized)</text>
<text x="569.01" y="27" font-size="10.0" fill="#231f20" textLength="10.92" lengthAdjust="spacingAndGlyphs">2L</text>
<text x="634.49" y="34.9" font-size="10.0" fill="#1e9ad8" textLength="20.93" lengthAdjust="spacingAndGlyphs">20 K</text>
<text x="649.45" y="118.5" font-size="10.0" fill="#e8141c" textLength="22.27" lengthAdjust="spacingAndGlyphs">60 K</text>
<text x="515.92" y="13.5" font-size="18.5" fill="#231f20" font-weight="bold" stroke="#231f20" stroke-width="0.55" textLength="11.64" lengthAdjust="spacingAndGlyphs">d</text>
<rect x="564.0" y="171.3" width="117.6" height="117.1" fill="none" stroke="#6d6e71" stroke-width="1"/>
<line x1="564" y1="274.3" x2="566.6" y2="274.3" stroke="#6d6e71" stroke-width="0.8"/>
<text x="551.67" y="278" font-size="10.3" fill="#231f20" textLength="5.73" lengthAdjust="spacingAndGlyphs">0</text>
<line x1="564" y1="227.6" x2="566.6" y2="227.6" stroke="#6d6e71" stroke-width="0.8"/>
<text x="543.11" y="231.3" font-size="10.3" fill="#231f20" textLength="14.32" lengthAdjust="spacingAndGlyphs">0.5</text>
<line x1="564" y1="180.9" x2="566.6" y2="180.9" stroke="#6d6e71" stroke-width="0.8"/>
<text x="543.08" y="184.6" font-size="10.3" fill="#231f20" textLength="14.32" lengthAdjust="spacingAndGlyphs">1.0</text>
<text x="561.64" y="302.6" font-size="10.3" fill="#231f20" textLength="5.73" lengthAdjust="spacingAndGlyphs">0</text>
<line x1="602.9" y1="285.8" x2="602.9" y2="288.4" stroke="#6d6e71" stroke-width="0.8"/>
<text x="600.05" y="302.6" font-size="10.3" fill="#231f20" textLength="5.73" lengthAdjust="spacingAndGlyphs">5</text>
<line x1="641.3" y1="285.8" x2="641.3" y2="288.4" stroke="#6d6e71" stroke-width="0.8"/>
<text x="636.05" y="302.6" font-size="10.3" fill="#231f20" textLength="10.15" lengthAdjust="spacingAndGlyphs">10</text>
<text x="674.74" y="302.6" font-size="10.3" fill="#231f20" textLength="9.62" lengthAdjust="spacingAndGlyphs">15</text>
<text x="596.92" y="319.3" font-size="13.0" fill="#231f20" textLength="52.45" lengthAdjust="spacingAndGlyphs">Time (ps)</text>
<text x="0" y="0" font-size="13.0" fill="#231f20" textLength="65.7" lengthAdjust="spacingAndGlyphs" transform="translate(529.4,264) rotate(-90)">Δ<tspan font-style="italic">σ</tspan><tspan font-size="7.6" dy="-4.6">2</tspan><tspan dy="4.6">(t) (µm</tspan><tspan font-size="7.6" dy="-4.6">2</tspan><tspan dy="4.6">)</tspan></text>
<text x="516.56" y="169.9" font-size="18.5" fill="#231f20" font-weight="bold" stroke="#231f20" stroke-width="0.55" textLength="10.6" lengthAdjust="spacingAndGlyphs">e</text>
<defs><clipPath id="ce"><rect x="564.0" y="171.3" width="117.6" height="117.1"/></clipPath></defs>
<g clip-path="url(#ce)">
<path d="M565.54,274.28 567.46,274.22 569.38,274.1 571.3,273.92 573.21,273.7 575.13,273.43 577.05,273.1 578.97,272.72 580.89,272.29 582.81,271.8 584.72,271.27 586.64,270.68 588.56,270.04 590.48,269.35 592.4,268.61 594.32,267.81 596.24,266.97 598.15,266.07 600.07,265.12 601.99,264.11 603.91,263.06 605.83,261.95 607.75,260.79 609.66,259.58 611.58,258.32 613.5,257.01 615.42,255.64 617.34,254.22 619.26,252.75 621.18,251.23 623.09,249.65 625.01,248.03 626.93,246.35 628.85,244.62 630.77,242.84 632.69,241 634.61,239.12 636.52,237.18 638.44,235.19 640.36,233.15 642.28,231.06 644.2,228.91 646.12,226.71 648.03,224.46 649.95,222.16 651.87,219.81 653.79,217.4 655.71,214.94 657.63,212.44 659.55,209.87 661.46,207.26 663.38,204.6 665.3,201.88 667.22,199.11 669.14,196.29 671.06,193.42 672.97,190.49 674.89,187.51 676.81,184.48 678.73,181.4" fill="none" stroke="#1e9ad8" stroke-width="1.4"/>
<line x1="566.31" y1="273.9" x2="677.6" y2="258.3" stroke="#e8141c" stroke-width="1.4"/>
<circle cx="567.5" cy="274.5" r="2.7" fill="#e8101a" stroke="#9a0000" stroke-width="0.5"/>
<circle cx="575.7" cy="273.1" r="2.7" fill="#e8101a" stroke="#9a0000" stroke-width="0.5"/>
<circle cx="583.3" cy="272.4" r="2.7" fill="#e8101a" stroke="#9a0000" stroke-width="0.5"/>
<circle cx="591.1" cy="272.4" r="2.7" fill="#e8101a" stroke="#9a0000" stroke-width="0.5"/>
<circle cx="599.1" cy="274.7" r="2.7" fill="#e8101a" stroke="#9a0000" stroke-width="0.5"/>
<circle cx="606.8" cy="267.3" r="2.7" fill="#e8101a" stroke="#9a0000" stroke-width="0.5"/>
<circle cx="614.4" cy="268.8" r="2.7" fill="#e8101a" stroke="#9a0000" stroke-width="0.5"/>
<circle cx="622.1" cy="270.6" r="2.7" fill="#e8101a" stroke="#9a0000" stroke-width="0.5"/>
<circle cx="630" cy="259.2" r="2.7" fill="#e8101a" stroke="#9a0000" stroke-width="0.5"/>
<circle cx="637.8" cy="256.5" r="2.7" fill="#e8101a" stroke="#9a0000" stroke-width="0.5"/>
<circle cx="645.7" cy="262.2" r="2.7" fill="#e8101a" stroke="#9a0000" stroke-width="0.5"/>
<circle cx="653.7" cy="218.1" r="2.7" fill="#e8101a" stroke="#9a0000" stroke-width="0.5"/>
<circle cx="661.2" cy="285.7" r="2.7" fill="#e8101a" stroke="#9a0000" stroke-width="0.5"/>
<circle cx="669.2" cy="272.4" r="2.7" fill="#e8101a" stroke="#9a0000" stroke-width="0.5"/>
<circle cx="676.9" cy="264.2" r="2.7" fill="#e8101a" stroke="#9a0000" stroke-width="0.5"/>
<circle cx="567.5" cy="274.5" r="2.8" fill="#1f8fd6" stroke="#1b3550" stroke-width="0.6"/>
<circle cx="575.6" cy="272.3" r="2.8" fill="#1f8fd6" stroke="#1b3550" stroke-width="0.6"/>
<circle cx="583.3" cy="274.5" r="2.8" fill="#1f8fd6" stroke="#1b3550" stroke-width="0.6"/>
<circle cx="591.1" cy="267.7" r="2.8" fill="#1f8fd6" stroke="#1b3550" stroke-width="0.6"/>
<circle cx="599.1" cy="266.8" r="2.8" fill="#1f8fd6" stroke="#1b3550" stroke-width="0.6"/>
<circle cx="606.8" cy="258.1" r="2.8" fill="#1f8fd6" stroke="#1b3550" stroke-width="0.6"/>
<circle cx="614.5" cy="251.8" r="2.8" fill="#1f8fd6" stroke="#1b3550" stroke-width="0.6"/>
<circle cx="622.4" cy="232.3" r="2.8" fill="#1f8fd6" stroke="#1b3550" stroke-width="0.6"/>
<circle cx="630.2" cy="215.3" r="2.8" fill="#1f8fd6" stroke="#1b3550" stroke-width="0.6"/>
<circle cx="638" cy="229.6" r="2.8" fill="#1f8fd6" stroke="#1b3550" stroke-width="0.6"/>
<circle cx="645.8" cy="219" r="2.8" fill="#1f8fd6" stroke="#1b3550" stroke-width="0.6"/>
<circle cx="653.7" cy="216.2" r="2.8" fill="#1f8fd6" stroke="#1b3550" stroke-width="0.6"/>
<circle cx="661.5" cy="249.6" r="2.8" fill="#1f8fd6" stroke="#1b3550" stroke-width="0.6"/>
<circle cx="669.3" cy="204.1" r="2.8" fill="#1f8fd6" stroke="#1b3550" stroke-width="0.6"/>
</g>
<text x="638.66" y="196.8" font-size="10.0" fill="#1e9ad8" textLength="22.27" lengthAdjust="spacingAndGlyphs">20 K</text>
<text x="637.28" y="277.4" font-size="10.0" fill="#e8141c" textLength="21.24" lengthAdjust="spacingAndGlyphs">60 K</text>
<rect x="563.8" y="171.6" width="50.6" height="50.5" fill="#fff" stroke="#6d6e71" stroke-width="0.9"/>
<line x1="563.8" y1="181.6" x2="566.3" y2="181.6" stroke="#6d6e71" stroke-width="0.8"/>
<line x1="586.6" y1="222.1" x2="586.6" y2="219.7" stroke="#6d6e71" stroke-width="0.7"/>
<line x1="609.4" y1="222.1" x2="609.4" y2="219.7" stroke="#6d6e71" stroke-width="0.7"/>
<text x="583.85" y="235.6" font-size="10.3" fill="#231f20" textLength="5.73" lengthAdjust="spacingAndGlyphs">5</text>
<text x="603.95" y="235.6" font-size="10.3" fill="#231f20" textLength="10.15" lengthAdjust="spacingAndGlyphs">10</text>
<text x="569.12" y="185.8" font-size="10.0" fill="#231f20" textLength="10.7" lengthAdjust="spacingAndGlyphs">2L</text>
<clipPath id="ci"><rect x="563.8" y="171.6" width="50.6" height="50.5"/></clipPath>
<g clip-path="url(#ci)">
<line x1="563.5" y1="217.9" x2="614.4" y2="190.6" stroke="#e8141c" stroke-width="1.3"/>
<circle cx="566.2" cy="218.4" r="2.6" fill="#e8101a" stroke="#9a0000" stroke-width="0.5"/>
<circle cx="570.4" cy="215.9" r="2.6" fill="#e8101a" stroke="#9a0000" stroke-width="0.5"/>
<circle cx="575.4" cy="213.4" r="2.6" fill="#e8101a" stroke="#9a0000" stroke-width="0.5"/>
<circle cx="579.9" cy="212.7" r="2.6" fill="#e8101a" stroke="#9a0000" stroke-width="0.5"/>
<circle cx="584.1" cy="217.9" r="2.6" fill="#e8101a" stroke="#9a0000" stroke-width="0.5"/>
<circle cx="588.6" cy="203" r="2.6" fill="#e8101a" stroke="#9a0000" stroke-width="0.5"/>
<circle cx="593" cy="204.8" r="2.6" fill="#e8101a" stroke="#9a0000" stroke-width="0.5"/>
<circle cx="597.8" cy="209.7" r="2.6" fill="#e8101a" stroke="#9a0000" stroke-width="0.5"/>
<circle cx="602.2" cy="184.1" r="2.6" fill="#e8101a" stroke="#9a0000" stroke-width="0.5"/>
<circle cx="606.7" cy="177.9" r="2.6" fill="#e8101a" stroke="#9a0000" stroke-width="0.5"/>
<circle cx="611.2" cy="190.6" r="2.6" fill="#e8101a" stroke="#9a0000" stroke-width="0.5"/>
</g>
</svg></body></html>
